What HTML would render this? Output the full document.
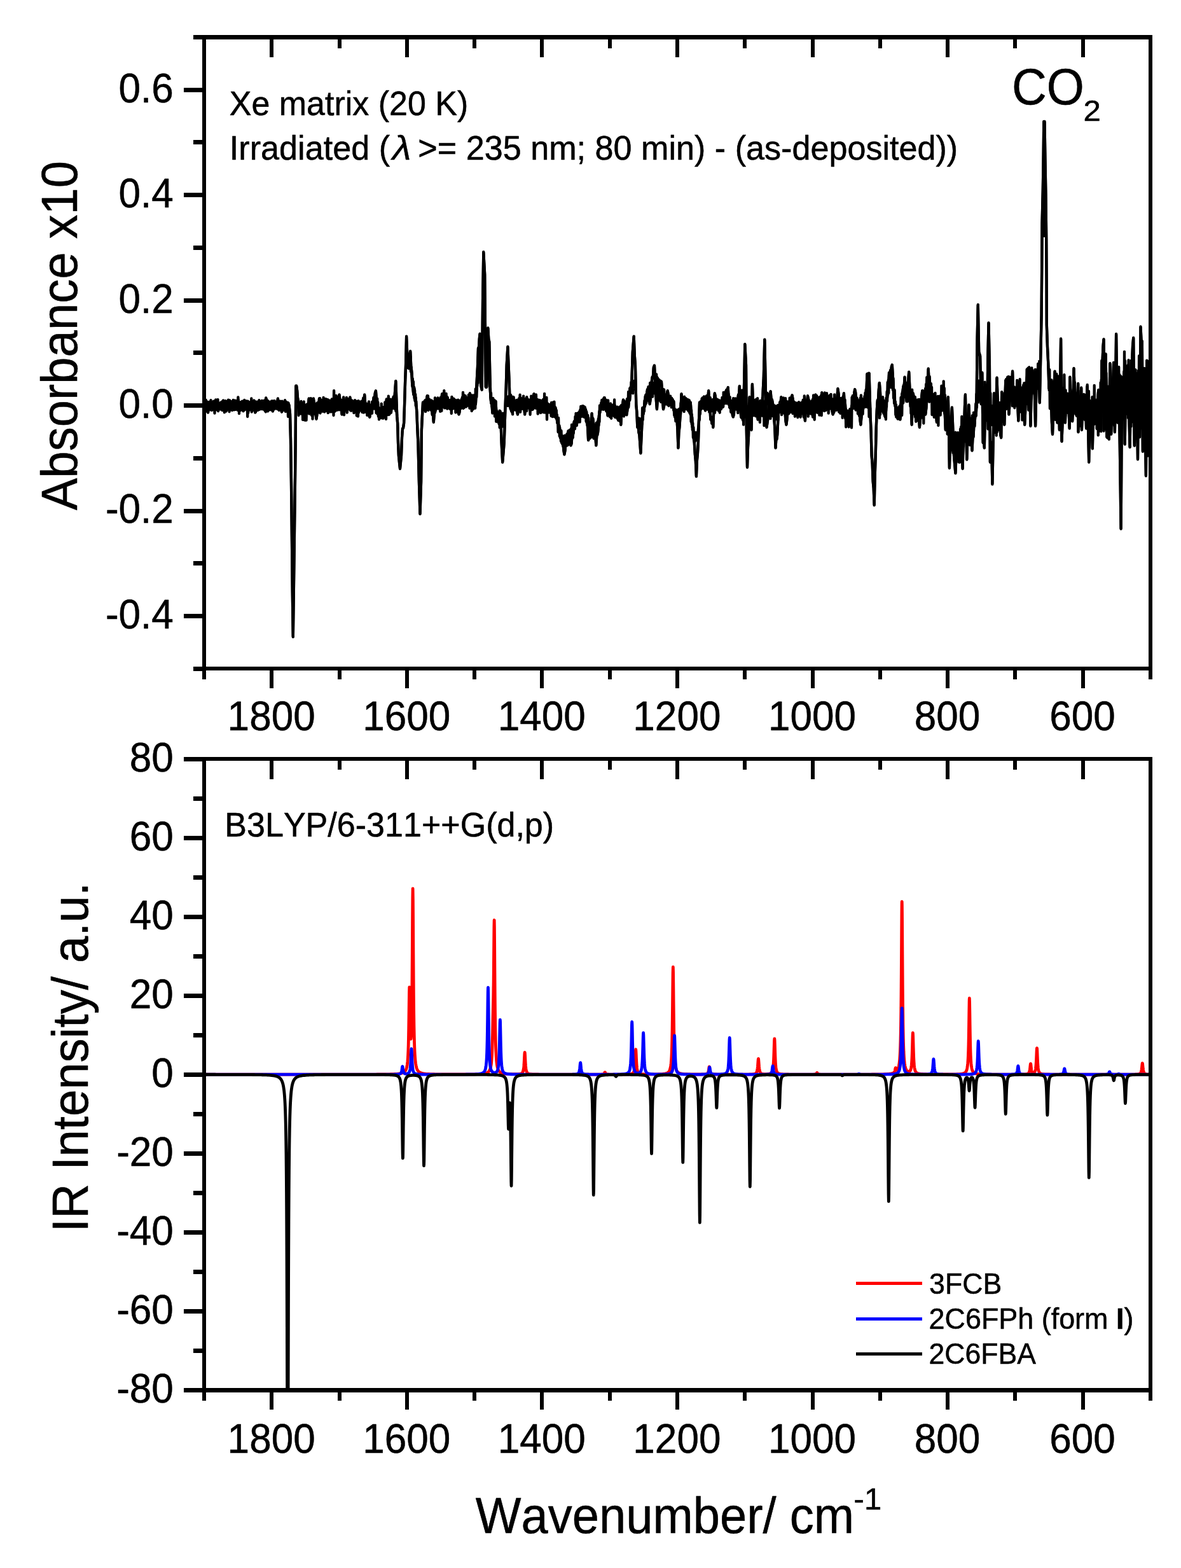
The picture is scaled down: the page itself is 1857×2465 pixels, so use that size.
<!DOCTYPE html>
<html lang="en"><head><meta charset="utf-8"><title>IR difference spectrum and B3LYP simulated spectra</title>
<style>html,body{margin:0;padding:0;background:#fff}svg{display:block}text{font-family:'Liberation Sans', Arial, Helvetica, sans-serif;fill:#000;font-kerning:none;white-space:pre}</style></head><body>
<svg width="1857" height="2465" viewBox="0 0 1857 2465">
<rect x="0" y="0" width="1857" height="2465" fill="#fff"/>
<defs><clipPath id="c1"><rect x="321.0" y="58.5" width="1488.0" height="992.7"/></clipPath>
<clipPath id="c2"><rect x="321.0" y="1193.0" width="1488.0" height="992.4"/></clipPath></defs>
<g clip-path="url(#c1)" fill="none" stroke="#000" stroke-width="4.3" stroke-linejoin="round" stroke-linecap="butt"><path id="tr" d="M321.0,640.3 L322.0,635.6 L323.0,642.8 L324.1,637.9 L325.1,644.4 L326.1,640.9 L327.1,647.8 L328.1,640.5 L329.1,643.0 L330.2,636.3 L331.2,640.0 L332.2,634.9 L333.2,633.5 L334.2,633.6 L335.2,639.6 L336.3,635.7 L337.3,642.4 L338.3,635.1 L339.3,641.6 L340.3,636.7 L341.3,641.7 L342.3,637.0 L343.3,641.1 L344.3,636.3 L345.2,640.2 L346.2,634.3 L347.2,638.1 L348.2,633.1 L349.1,636.7 L350.1,630.7 L351.1,629.5 L352.2,633.0 L353.3,639.7 L354.5,636.2 L355.6,645.7 L356.6,639.9 L357.6,643.0 L358.6,635.4 L359.6,642.3 L360.7,635.6 L361.7,640.7 L362.7,635.0 L363.7,638.5 L364.7,633.5 L365.7,639.6 L366.8,635.6 L367.8,641.3 L368.8,637.7 L369.8,642.7 L370.9,635.6 L372.0,639.0 L373.2,631.3 L374.3,627.4 L375.2,633.2 L376.0,642.7 L376.9,644.7 L377.9,643.9 L379.0,637.7 L380.0,642.8 L381.0,638.1 L382.0,641.8 L383.0,636.4 L384.0,642.5 L385.1,635.8 L386.1,640.7 L387.1,635.1 L388.1,635.6 L389.1,636.7 L390.1,643.1 L391.2,643.7 L392.2,642.5 L393.2,636.5 L394.2,640.8 L395.2,634.7 L396.2,638.9 L397.3,633.0 L398.3,635.6 L399.3,629.5 L400.3,640.5 L401.3,647.8 L402.4,646.0 L403.4,637.9 L404.4,642.4 L405.4,635.2 L406.4,639.9 L407.4,635.2 L408.5,639.6 L409.5,633.3 L410.5,631.5 L411.5,633.4 L412.5,639.3 L413.5,635.2 L414.6,641.3 L415.6,638.0 L416.6,644.7 L418.2,625.4 L419.3,631.8 L420.5,629.5 L421.6,635.9 L422.7,633.5 L423.7,639.1 L424.7,635.1 L425.7,642.3 L426.8,636.8 L427.8,643.7 L428.8,645.7 L429.8,643.3 L430.8,636.6 L431.8,640.7 L432.9,633.4 L433.9,637.2 L434.9,631.3 L435.9,634.7 L436.9,626.4 L437.9,634.2 L439.0,633.0 L440.0,641.2 L441.0,636.1 L442.0,643.5 L443.0,646.8 L444.0,644.6 L444.9,637.4 L445.8,641.5 L446.7,636.5 L447.7,639.4 L448.6,633.7 L449.5,631.5 L450.4,632.9 L451.3,638.6 L452.2,632.9 L453.3,641.3 L454.5,636.4 L456.0,650.0 L457.0,690.0 L458.0,760.0 L459.0,850.0 L459.8,930.0 L460.8,1000.5 L461.8,930.0 L462.8,850.0 L463.8,770.0 L464.6,700.0 L465.0,644.6 L465.3,606.5 L466.2,606.5 L467.2,614.0 L468.0,625.0 L469.5,633.0 L470.5,646.6 L471.5,638.8 L472.5,648.3 L473.5,641.3 L474.5,647.9 L475.6,642.3 L476.6,647.9 L477.6,640.6 L478.6,649.6 L479.6,640.6 L480.7,648.5 L481.7,647.8 L482.7,645.2 L483.7,635.1 L484.7,637.8 L485.7,626.4 L486.8,638.5 L487.8,637.1 L488.8,646.6 L489.8,651.8 L490.8,645.8 L491.8,634.7 L492.9,626.4 L493.8,632.7 L494.7,643.6 L495.7,639.1 L496.6,651.6 L497.5,657.9 L498.6,650.1 L499.8,636.4 L500.9,642.2 L502.0,626.4 L503.0,637.0 L504.0,632.2 L505.1,641.1 L506.1,635.3 L507.1,643.7 L508.1,635.2 L509.1,643.4 L510.1,631.9 L511.2,638.4 L512.2,627.4 L513.2,638.5 L514.2,633.3 L515.2,643.2 L516.2,647.8 L517.3,646.0 L518.3,636.2 L519.3,642.7 L520.3,635.0 L521.3,640.3 L522.3,633.0 L523.4,640.0 L524.4,631.2 L525.4,638.3 L526.4,629.5 L527.4,637.5 L528.4,634.0 L529.5,641.8 L530.5,643.7 L531.5,638.7 L532.5,628.1 L533.5,620.3 L534.5,628.0 L535.6,640.1 L536.6,634.1 L537.6,650.8 L538.5,635.8 L539.4,637.5 L540.2,624.4 L541.3,637.4 L542.4,630.6 L543.5,641.9 L544.6,637.3 L545.7,647.8 L546.7,637.6 L547.6,640.7 L548.5,632.1 L549.5,637.7 L550.4,624.4 L551.5,635.8 L552.6,630.1 L553.8,639.2 L554.9,635.3 L555.9,642.7 L556.9,637.5 L557.9,643.9 L558.9,638.1 L560.0,644.7 L561.0,639.2 L562.0,646.8 L563.0,647.8 L564.0,645.7 L565.1,637.6 L566.1,641.9 L567.1,635.4 L568.1,640.4 L569.1,631.1 L570.1,636.2 L571.2,625.8 L572.2,629.1 L573.2,620.3 L574.2,633.5 L575.2,634.2 L576.2,644.2 L577.3,640.2 L578.3,647.6 L579.3,644.1 L580.3,652.5 L581.3,654.9 L582.3,649.1 L583.4,638.8 L584.4,643.1 L585.4,631.5 L586.5,636.4 L587.6,624.6 L588.7,628.6 L589.8,617.7 L590.9,614.2 L591.8,626.1 L592.6,642.7 L593.5,649.8 L594.5,650.1 L595.6,644.6 L596.6,650.7 L597.6,645.0 L598.6,651.3 L599.6,645.0 L600.6,652.0 L601.7,644.3 L602.7,652.6 L603.7,652.9 L604.7,646.5 L605.7,637.2 L606.7,643.3 L607.8,627.4 L608.8,639.1 L609.8,637.7 L610.8,648.6 L611.8,650.8 L612.8,649.4 L613.9,641.8 L614.9,648.0 L615.9,635.1 L616.9,640.8 L617.9,627.3 L618.9,623.4 L616.8,632.4 L617.8,640.7 L618.8,633.7 L619.8,634.4 L621.0,616.6 L622.3,598.8 L623.3,626.8 L624.3,654.7 L625.2,665.1 L626.0,695.4 L626.9,715.7 L627.9,725.9 L629.0,736.1 L630.0,725.9 L631.0,715.7 L632.0,687.3 L633.0,673.5 L634.0,672.4 L635.1,664.9 L636.1,634.1 L637.1,599.8 L638.1,572.6 L639.1,528.6 L640.1,552.2 L641.2,559.1 L642.6,573.4 L643.5,566.3 L644.4,564.9 L645.2,552.0 L646.2,574.4 L647.3,583.5 L648.3,605.4 L649.3,610.0 L650.3,619.6 L651.3,610.0 L652.4,627.7 L653.4,624.5 L654.4,634.4 L655.4,648.1 L656.4,675.1 L657.4,695.4 L658.9,756.4 L660.5,807.3 L662.1,756.4 L662.9,675.1 L663.9,654.7 L665.0,632.5 L665.9,642.4 L666.8,634.5 L667.7,642.3 L668.6,636.5 L669.6,643.1 L670.7,629.0 L671.7,622.2 L672.7,624.6 L673.7,633.8 L674.7,629.5 L675.7,639.0 L676.8,634.4 L677.8,644.0 L678.8,639.2 L679.8,651.5 L680.8,648.9 L681.8,662.9 L682.9,648.9 L683.9,647.9 L684.9,640.5 L685.9,639.9 L686.9,633.6 L687.9,640.0 L689.0,629.6 L690.0,637.2 L691.0,629.8 L692.0,633.4 L693.0,625.2 L694.0,630.6 L695.1,619.1 L696.1,630.9 L697.1,629.2 L698.1,638.2 L699.1,640.5 L700.1,640.2 L701.2,630.6 L702.2,636.4 L703.2,624.2 L704.2,632.8 L705.2,629.4 L706.2,637.8 L707.3,631.5 L708.3,639.6 L709.3,640.5 L710.3,638.8 L711.3,629.2 L712.3,635.6 L713.4,628.3 L714.4,635.7 L715.4,630.3 L716.4,638.8 L717.4,633.2 L718.4,642.3 L719.5,638.8 L720.5,647.9 L721.5,650.7 L722.5,647.4 L723.5,637.0 L724.5,640.9 L725.6,633.1 L726.6,638.9 L727.6,630.1 L728.6,636.8 L729.6,627.1 L730.7,632.5 L731.7,622.2 L732.7,634.9 L733.7,628.0 L734.7,634.5 L735.7,636.4 L736.8,633.5 L737.8,624.0 L738.8,618.1 L739.8,621.9 L740.8,629.1 L741.8,625.0 L742.9,637.6 L743.9,642.5 L744.9,640.5 L745.9,632.2 L746.9,636.4 L747.9,634.4 L749.0,614.1 L750.0,593.7 L751.0,576.1 L752.0,546.9 L752.9,546.9 L753.8,532.0 L754.6,524.6 L756.1,605.4 L757.7,612.1 L759.1,471.7 L760.3,396.0 L762.2,431.0 L763.8,607.9 L765.2,607.9 L766.2,567.5 L767.3,515.4 L768.3,532.8 L769.3,536.8 L770.3,587.3 L771.3,624.2 L772.3,632.4 L773.4,634.6 L774.4,648.6 L775.4,634.0 L776.4,639.5 L777.4,629.1 L778.4,630.3 L779.5,630.8 L780.5,650.7 L781.5,660.8 L782.5,661.8 L783.5,662.9 L784.5,657.4 L785.6,645.7 L786.6,646.6 L787.6,665.2 L788.6,695.4 L790.2,725.9 L791.5,710.7 L792.7,695.4 L793.7,664.9 L794.7,634.4 L795.7,609.7 L796.7,573.4 L798.4,544.9 L799.4,569.3 L800.4,593.7 L801.8,634.4 L802.8,642.1 L803.9,635.4 L804.9,644.4 L805.9,635.9 L806.9,641.2 L807.9,633.1 L808.9,632.4 L810.0,631.7 L811.0,641.5 L812.0,634.1 L813.0,647.0 L814.0,650.7 L815.1,641.4 L816.1,626.3 L817.1,636.6 L818.1,628.4 L819.1,636.2 L820.1,628.7 L821.2,637.9 L822.2,632.6 L823.2,641.6 L824.2,640.3 L825.2,650.7 L826.2,635.4 L827.3,637.5 L828.3,624.2 L829.3,635.5 L830.3,630.3 L831.3,638.5 L832.3,632.3 L833.4,644.6 L834.4,635.1 L835.4,638.6 L836.4,630.0 L837.4,634.3 L838.4,623.4 L839.5,619.1 L840.5,626.3 L841.5,638.8 L842.5,640.5 L843.5,640.9 L844.5,630.8 L845.6,628.3 L846.6,630.1 L847.6,638.0 L848.6,633.0 L849.6,639.9 L850.6,636.8 L851.7,644.0 L852.7,646.6 L853.7,643.8 L854.7,633.7 L855.7,639.6 L856.7,631.1 L857.8,627.3 L858.8,629.8 L859.8,642.5 L860.8,634.2 L861.8,642.8 L862.8,638.0 L863.9,645.2 L864.9,638.3 L865.9,646.2 L866.9,639.5 L867.9,646.8 L868.9,642.2 L870.0,648.3 L871.0,642.5 L872.1,648.6 L873.2,640.5 L874.2,656.2 L875.2,652.7 L876.3,663.3 L877.3,660.9 L878.3,671.8 L879.3,669.1 L880.3,680.1 L881.3,685.2 L882.4,688.6 L883.4,684.3 L884.4,695.4 L885.4,695.7 L886.4,707.6 L887.4,713.7 L888.5,707.6 L889.5,693.6 L890.5,695.4 L891.5,682.2 L892.5,687.3 L893.5,677.4 L894.6,679.1 L895.6,676.3 L896.6,692.7 L897.6,699.5 L898.6,695.4 L899.6,684.9 L900.7,687.3 L901.7,670.6 L902.7,662.9 L903.7,661.7 L904.7,668.3 L905.7,659.4 L906.8,668.1 L907.8,657.1 L908.8,662.9 L909.8,654.7 L910.8,659.5 L911.8,650.1 L912.9,653.6 L913.9,645.4 L914.9,649.8 L915.9,640.8 L916.9,638.5 L917.9,640.1 L919.0,648.1 L920.0,643.3 L921.0,651.9 L922.0,646.6 L923.0,664.6 L924.0,669.8 L925.1,691.3 L926.1,680.3 L927.1,688.6 L928.1,687.3 L929.3,671.0 L930.6,649.9 L931.5,660.1 L932.4,657.8 L933.3,670.0 L934.2,675.1 L935.2,683.2 L936.2,684.5 L937.3,699.5 L938.3,684.2 L939.3,683.2 L940.3,675.1 L941.3,664.2 L942.4,648.1 L943.4,642.5 L944.4,639.1 L945.4,641.5 L946.4,632.4 L947.6,635.9 L948.7,627.6 L949.9,625.2 L950.8,628.3 L951.6,638.0 L952.5,634.4 L953.5,645.6 L954.6,643.0 L955.6,652.7 L956.7,643.0 L957.8,646.8 L958.9,638.5 L960.0,634.4 L961.0,637.3 L962.0,645.3 L962.9,638.7 L963.9,647.5 L964.8,643.1 L965.8,651.8 L966.8,654.7 L967.8,651.7 L968.8,642.8 L969.8,647.4 L970.8,639.6 L971.9,648.6 L973.0,646.2 L974.1,657.2 L975.2,652.0 L976.3,666.9 L977.2,650.5 L978.1,647.6 L979.1,634.7 L980.0,628.3 L981.0,632.8 L982.0,641.5 L983.0,637.3 L984.0,647.9 L985.1,650.7 L986.1,646.6 L987.1,637.7 L988.1,639.8 L989.1,626.3 L990.1,628.8 L991.2,615.1 L992.2,615.3 L993.2,603.9 L994.8,553.0 L996.7,528.6 L997.8,558.7 L998.9,573.4 L1000.3,636.1 L1001.3,646.9 L1002.3,671.0 L1003.4,667.3 L1004.4,679.1 L1005.4,683.2 L1006.4,697.4 L1007.4,711.7 L1008.4,688.3 L1009.5,664.9 L1010.5,657.3 L1011.5,643.3 L1012.5,642.0 L1013.5,634.4 L1014.5,630.0 L1015.6,620.5 L1016.6,625.4 L1017.6,614.6 L1018.6,618.3 L1019.6,607.9 L1020.7,625.6 L1021.7,634.4 L1022.7,627.3 L1023.7,611.3 L1024.7,599.8 L1025.7,592.4 L1026.8,593.2 L1027.8,577.4 L1029.0,574.4 L1030.8,614.1 L1031.8,628.3 L1032.9,642.5 L1033.9,627.3 L1034.9,612.0 L1035.9,596.8 L1036.9,597.5 L1037.9,605.0 L1039.0,599.1 L1040.0,599.8 L1041.0,614.1 L1042.0,629.0 L1043.0,642.5 L1044.0,638.5 L1045.1,626.2 L1046.1,630.3 L1047.0,623.9 L1047.9,630.0 L1048.8,618.1 L1049.7,614.1 L1050.9,620.2 L1052.0,630.9 L1053.2,627.7 L1054.2,635.5 L1055.2,628.8 L1056.2,634.8 L1057.3,627.9 L1058.3,635.3 L1059.3,630.7 L1060.3,646.6 L1061.3,654.7 L1062.3,656.1 L1063.4,650.0 L1064.4,658.8 L1065.4,674.5 L1066.4,703.5 L1067.4,679.6 L1068.4,671.0 L1069.5,654.7 L1070.5,642.9 L1071.5,619.1 L1072.5,635.0 L1073.5,633.4 L1074.5,640.5 L1075.6,636.9 L1076.6,643.1 L1077.6,629.8 L1078.6,626.3 L1079.6,630.3 L1080.6,642.7 L1081.7,638.5 L1082.7,642.5 L1083.7,639.1 L1084.7,643.6 L1085.7,632.4 L1086.7,649.2 L1087.8,652.3 L1088.8,671.0 L1089.8,672.9 L1090.8,687.3 L1091.8,695.4 L1092.8,713.0 L1093.9,724.7 L1094.9,748.3 L1095.9,723.4 L1096.9,713.0 L1097.9,695.4 L1098.9,663.9 L1100.0,632.4 L1101.0,638.6 L1102.0,631.0 L1103.0,636.1 L1104.0,629.6 L1105.1,634.8 L1106.1,628.3 L1107.1,641.3 L1108.1,640.3 L1109.1,644.7 L1110.1,633.0 L1111.2,634.1 L1112.2,623.5 L1113.2,624.6 L1114.2,614.1 L1115.2,635.0 L1116.2,637.1 L1117.3,658.8 L1118.3,655.4 L1119.3,664.9 L1120.3,658.9 L1121.3,671.0 L1122.5,638.5 L1123.8,618.1 L1124.7,622.2 L1125.7,632.4 L1126.6,628.9 L1127.6,635.8 L1128.5,629.7 L1129.5,642.5 L1130.5,634.9 L1131.5,639.8 L1132.5,633.0 L1133.5,638.2 L1134.5,631.0 L1135.6,639.1 L1136.6,632.4 L1137.6,634.5 L1138.6,625.0 L1139.6,627.5 L1140.6,617.7 L1141.7,614.1 L1142.7,612.4 L1143.7,616.5 L1144.7,609.0 L1145.7,625.5 L1146.7,628.9 L1147.8,640.5 L1148.8,636.7 L1149.8,646.2 L1150.8,636.4 L1151.8,651.9 L1152.8,654.7 L1153.9,650.4 L1154.9,636.0 L1155.9,642.1 L1156.9,630.3 L1157.9,639.2 L1158.9,627.5 L1160.0,631.7 L1161.0,620.2 L1161.2,641.1 L1162.8,606.9 L1164.0,638.9 L1165.2,654.7 L1166.2,656.3 L1167.1,649.1 L1168.0,659.3 L1168.9,660.8 L1170.3,593.7 L1171.3,540.8 L1173.0,573.4 L1173.8,675.1 L1175.0,734.0 L1176.0,702.3 L1177.0,685.2 L1178.5,624.2 L1179.5,644.3 L1180.5,647.4 L1181.5,675.1 L1182.9,603.9 L1184.6,646.1 L1185.6,637.8 L1186.6,643.4 L1187.6,631.8 L1188.6,628.3 L1189.6,635.2 L1190.7,648.6 L1191.7,658.8 L1192.7,657.4 L1193.7,643.8 L1194.7,654.7 L1195.7,644.3 L1196.8,652.0 L1197.8,650.7 L1198.8,641.2 L1199.8,612.7 L1200.8,593.7 L1202.3,533.7 L1203.9,614.1 L1205.5,671.0 L1206.7,662.9 L1207.9,654.7 L1208.9,647.2 L1209.8,634.9 L1210.7,632.7 L1211.6,615.1 L1212.8,629.0 L1213.9,627.9 L1215.1,634.4 L1216.1,639.2 L1217.1,654.7 L1218.3,671.8 L1219.5,703.5 L1220.4,689.2 L1221.3,690.0 L1222.2,683.2 L1223.2,662.9 L1224.2,637.6 L1225.2,645.3 L1226.2,633.4 L1227.3,636.0 L1228.3,624.2 L1229.3,638.1 L1230.3,632.2 L1231.3,643.5 L1232.4,636.9 L1233.4,648.6 L1234.4,646.0 L1235.4,660.8 L1236.4,666.9 L1237.4,658.8 L1238.5,643.4 L1239.5,645.2 L1240.5,634.4 L1241.5,643.4 L1242.5,629.1 L1243.5,634.7 L1244.6,623.8 L1245.6,621.2 L1246.6,627.1 L1247.6,640.7 L1248.6,637.1 L1249.6,647.0 L1250.7,650.7 L1251.7,648.6 L1252.7,639.1 L1253.7,647.7 L1254.7,636.5 L1255.7,643.6 L1256.8,634.4 L1257.8,642.4 L1258.8,637.7 L1259.8,645.1 L1260.8,638.6 L1261.8,649.1 L1262.9,644.3 L1263.9,655.0 L1264.9,647.7 L1265.9,660.8 L1266.9,642.4 L1267.9,645.1 L1269.0,631.8 L1270.0,622.2 L1271.0,626.3 L1272.0,637.9 L1273.0,633.0 L1274.0,643.0 L1275.1,635.9 L1276.1,646.6 L1277.1,642.4 L1278.1,654.7 L1279.1,638.6 L1280.1,645.5 L1281.2,632.2 L1282.2,639.5 L1283.2,627.6 L1284.2,622.2 L1285.2,627.9 L1286.2,639.8 L1287.3,632.7 L1288.3,645.0 L1289.3,650.7 L1290.3,641.6 L1291.3,628.3 L1292.3,617.1 L1293.4,622.2 L1294.4,634.5 L1295.4,629.3 L1296.4,641.0 L1297.4,642.5 L1298.4,642.1 L1299.5,631.3 L1300.5,640.6 L1301.5,626.0 L1302.5,637.4 L1303.5,624.2 L1304.5,633.8 L1305.6,628.3 L1306.6,639.7 L1307.6,630.5 L1308.6,646.3 L1309.6,650.7 L1310.7,647.9 L1311.7,638.0 L1312.7,642.5 L1313.7,634.8 L1314.7,639.6 L1315.7,632.9 L1317.4,611.0 L1318.5,618.4 L1319.6,634.9 L1320.7,630.8 L1321.8,643.3 L1322.9,631.7 L1323.9,637.1 L1324.9,627.1 L1325.9,633.0 L1326.9,618.1 L1327.9,636.7 L1329.0,635.7 L1330.0,654.7 L1331.0,648.8 L1332.0,658.2 L1333.0,652.7 L1334.0,661.7 L1335.1,656.0 L1336.1,665.2 L1337.1,666.9 L1338.1,656.1 L1339.1,638.0 L1340.1,640.8 L1341.2,628.8 L1342.2,635.4 L1343.2,617.6 L1344.2,612.0 L1345.2,616.5 L1346.2,629.9 L1347.3,625.4 L1348.3,639.0 L1349.3,631.3 L1350.3,644.5 L1351.3,638.0 L1352.3,658.8 L1353.4,666.9 L1354.4,656.1 L1355.4,639.7 L1356.4,634.4 L1357.4,632.4 L1358.4,638.6 L1359.5,628.3 L1360.5,634.1 L1361.5,624.2 L1362.5,613.4 L1363.5,587.6 L1364.5,596.9 L1365.6,586.9 L1366.6,586.6 L1367.6,620.7 L1368.6,654.7 L1369.6,677.8 L1370.6,715.7 L1371.7,728.9 L1372.7,756.4 L1373.7,767.0 L1374.7,793.4 L1375.7,746.8 L1376.7,715.7 L1377.8,670.7 L1378.8,644.6 L1379.8,628.9 L1380.8,630.7 L1381.8,612.5 L1382.8,601.8 L1383.9,614.7 L1384.9,634.6 L1385.9,640.5 L1386.9,642.9 L1387.9,634.2 L1388.9,647.6 L1390.0,639.6 L1391.0,652.4 L1392.0,654.7 L1393.0,645.4 L1394.0,630.6 L1395.1,624.2 L1396.1,612.0 L1397.1,607.0 L1398.1,587.6 L1399.0,596.8 L1400.0,581.9 L1400.9,586.4 L1401.8,576.2 L1402.8,573.4 L1404.0,593.7 L1405.2,614.1 L1406.2,620.5 L1407.3,634.4 L1408.3,636.9 L1409.3,654.7 L1410.3,648.2 L1411.3,656.1 L1412.3,645.4 L1413.4,657.4 L1414.4,650.0 L1415.4,658.8 L1416.4,635.2 L1417.4,636.4 L1418.4,619.5 L1419.5,614.1 L1420.5,606.9 L1421.5,611.2 L1422.5,592.7 L1423.5,616.0 L1424.5,617.8 L1425.6,630.3 L1426.5,618.9 L1427.4,618.6 L1428.3,596.0 L1429.2,584.6 L1430.4,609.5 L1431.7,638.6 L1432.7,639.5 L1433.7,666.9 L1434.7,635.3 L1435.7,618.1 L1436.7,623.0 L1437.8,635.1 L1438.8,624.1 L1439.8,639.8 L1440.8,635.1 L1441.8,650.7 L1442.8,639.1 L1443.9,660.8 L1444.9,655.8 L1445.9,671.0 L1446.9,649.1 L1447.9,648.2 L1448.9,629.1 L1450.0,633.5 L1451.0,614.1 L1446.1,669.0 L1447.1,640.9 L1448.1,641.5 L1449.1,624.2 L1450.2,614.1 L1451.2,621.4 L1452.2,637.3 L1453.2,632.6 L1454.2,649.5 L1455.2,650.7 L1456.4,640.8 L1457.5,615.1 L1458.6,607.4 L1459.7,579.5 L1460.6,596.6 L1461.5,591.7 L1462.5,609.4 L1463.4,603.9 L1464.4,625.8 L1465.4,622.2 L1466.4,636.9 L1467.4,642.5 L1468.5,646.6 L1469.6,640.2 L1470.7,654.7 L1471.8,648.5 L1472.9,662.9 L1473.9,643.3 L1474.8,647.8 L1475.7,628.9 L1476.7,644.6 L1477.6,624.2 L1478.6,633.7 L1479.6,620.8 L1480.7,629.9 L1481.7,617.4 L1482.7,627.2 L1483.7,614.1 L1484.7,646.2 L1485.7,647.9 L1486.8,675.1 L1487.8,653.3 L1488.8,663.9 L1489.8,636.9 L1490.8,624.2 L1491.8,664.5 L1492.9,735.1 L1493.9,699.8 L1494.9,687.8 L1495.9,661.0 L1496.9,640.5 L1497.9,662.6 L1499.0,690.7 L1500.0,715.7 L1501.2,729.5 L1502.4,743.2 L1503.3,720.5 L1504.2,683.4 L1505.1,683.2 L1506.1,680.1 L1507.1,700.5 L1508.1,701.1 L1509.1,725.9 L1510.1,688.4 L1511.2,671.0 L1512.4,690.1 L1513.6,736.1 L1515.2,675.1 L1516.1,666.9 L1517.0,638.5 L1517.9,620.2 L1519.1,670.6 L1520.3,721.8 L1521.3,682.3 L1522.4,674.7 L1523.4,636.4 L1524.4,660.7 L1525.4,658.8 L1526.4,680.8 L1527.4,681.6 L1528.5,707.6 L1529.5,686.6 L1530.5,686.2 L1531.5,665.1 L1532.5,664.9 L1533.5,649.6 L1534.6,653.1 L1535.6,634.4 L1536.6,532.7 L1537.8,478.8 L1539.2,553.0 L1541.1,559.1 L1542.7,634.4 L1544.3,585.6 L1545.7,695.4 L1546.8,686.3 L1547.8,703.5 L1548.8,652.6 L1549.8,630.3 L1550.7,631.7 L1551.6,643.7 L1552.5,634.4 L1553.5,553.0 L1554.5,507.3 L1555.9,573.4 L1556.9,725.9 L1557.9,710.7 L1559.0,695.4 L1560.4,760.5 L1562.0,675.1 L1563.0,618.1 L1564.2,639.5 L1565.5,675.1 L1566.5,634.4 L1567.5,593.7 L1568.4,619.5 L1569.3,646.9 L1570.1,671.0 L1571.2,675.1 L1572.2,661.4 L1573.2,683.2 L1574.2,687.3 L1575.2,616.1 L1576.2,626.1 L1577.3,644.8 L1578.3,643.9 L1579.3,666.9 L1580.3,627.0 L1581.3,597.8 L1582.3,596.1 L1583.4,611.8 L1584.4,592.7 L1585.4,629.7 L1586.4,650.7 L1587.4,636.0 L1588.4,615.2 L1589.5,597.8 L1590.3,593.0 L1591.2,603.7 L1592.1,583.5 L1593.3,624.7 L1594.5,634.4 L1595.6,629.4 L1596.6,612.7 L1597.6,612.0 L1598.5,614.2 L1599.4,636.4 L1600.3,638.0 L1601.3,660.8 L1602.4,633.4 L1603.6,629.6 L1604.7,610.6 L1605.9,620.2 L1607.0,609.5 L1608.2,610.0 L1609.2,617.9 L1610.2,647.9 L1611.2,666.9 L1612.1,647.3 L1613.0,617.4 L1613.9,607.9 L1614.9,593.7 L1615.9,579.5 L1617.1,578.5 L1618.3,577.4 L1619.4,613.1 L1620.4,669.0 L1621.3,632.9 L1622.1,617.4 L1623.0,591.7 L1623.9,603.6 L1624.8,588.6 L1625.7,596.1 L1626.9,618.6 L1628.1,669.0 L1629.3,615.6 L1630.5,583.5 L1631.4,580.2 L1632.3,592.9 L1633.2,573.4 L1634.8,632.4 L1635.6,592.5 L1636.6,545.0 L1637.6,495.0 L1638.2,420.0 L1638.6,350.0 L1639.8,300.0 L1640.6,250.0 L1641.3,191.0 L1641.9,370.0 L1642.5,191.0 L1643.4,250.0 L1644.4,305.0 L1645.2,375.0 L1645.6,440.0 L1645.8,510.0 L1647.0,545.0 L1648.2,570.0 L1649.5,610.5 L1650.6,600.1 L1651.6,625.4 L1652.8,627.7 L1653.9,663.0 L1655.0,681.9 L1655.9,657.3 L1656.8,615.5 L1657.7,616.0 L1658.6,583.6 L1659.6,623.5 L1660.5,615.3 L1661.5,643.7 L1662.5,663.8 L1663.6,591.5 L1664.7,623.6 L1665.9,675.1 L1667.0,603.7 L1668.1,532.3 L1669.5,693.2 L1670.5,667.6 L1671.6,631.3 L1672.6,616.3 L1673.8,627.0 L1674.9,663.8 L1676.0,631.9 L1677.2,640.5 L1678.3,618.6 L1679.4,642.8 L1680.5,641.5 L1681.7,672.8 L1682.4,592.6 L1683.3,624.0 L1684.3,623.9 L1685.2,646.0 L1686.2,661.5 L1687.3,633.9 L1688.5,579.0 L1689.6,613.1 L1690.7,620.5 L1691.8,646.4 L1693.0,624.0 L1694.1,628.6 L1695.2,602.8 L1695.5,678.5 L1696.4,651.7 L1697.4,652.5 L1698.3,633.9 L1699.3,636.4 L1700.2,609.5 L1700.9,675.1 L1701.8,650.8 L1702.8,657.4 L1703.7,638.8 L1704.7,648.4 L1705.6,629.0 L1706.5,620.8 L1708.1,672.8 L1709.5,607.3 L1710.4,639.0 L1711.3,686.4 L1712.2,725.9 L1713.8,629.9 L1714.8,638.8 L1715.8,667.2 L1716.8,672.2 L1717.8,704.5 L1719.0,650.7 L1720.1,627.6 L1721.0,633.5 L1721.9,656.1 L1722.8,644.8 L1723.7,656.6 L1724.6,629.7 L1725.5,643.4 L1726.4,621.3 L1727.3,612.9 L1728.0,676.2 L1729.1,676.6 L1730.3,661.0 L1731.4,677.3 L1732.5,566.6 L1733.5,568.8 L1734.5,544.3 L1735.5,533.2 L1737.0,630.9 L1738.6,556.4 L1740.4,686.4 L1741.6,687.5 L1742.7,673.9 L1743.8,689.8 L1745.4,571.1 L1747.2,681.9 L1748.2,640.9 L1749.1,636.2 L1750.1,598.0 L1751.1,570.0 L1752.9,678.5 L1754.0,614.6 L1755.1,524.8 L1756.3,608.2 L1757.4,663.8 L1758.5,584.7 L1759.6,624.9 L1760.8,697.7 L1762.6,830.6 L1764.2,602.8 L1765.3,596.4 L1766.4,612.1 L1767.6,583.6 L1768.7,697.7 L1769.8,625.4 L1770.9,593.7 L1772.1,584.1 L1773.2,574.5 L1774.3,611.7 L1775.5,659.6 L1776.6,702.2 L1777.7,634.4 L1778.9,566.6 L1780.0,569.3 L1781.1,542.8 L1782.2,530.9 L1783.8,699.9 L1784.8,665.3 L1785.8,615.6 L1786.8,596.0 L1787.9,645.4 L1789.0,721.4 L1790.2,582.4 L1792.0,686.4 L1793.5,513.5 L1794.7,537.8 L1795.8,536.1 L1796.9,709.0 L1798.1,632.1 L1799.2,579.0 L1800.1,626.7 L1801.0,691.3 L1801.9,747.4 L1803.3,566.6 L1804.8,715.8 L1806.0,649.7 L1807.1,567.7 L1808.9,647.6"/><use href="#tr" y="0.9"/><path d="M321.0,643.6 L321.6,631.1 L322.1,644.7 L322.7,628.4 L323.2,644.2 L323.8,629.0 L324.3,642.0 L324.9,632.2 L325.4,646.9 L326.0,631.6 L326.5,645.9 L327.1,633.1 L327.6,643.1 L328.2,632.9 L328.7,643.3 L329.3,631.8 L329.8,642.1 L330.4,633.1 L330.9,642.6 L331.5,629.2 L332.0,644.8 L332.6,633.3 L333.1,645.0 L333.7,633.7 L334.2,644.2 L334.8,633.6 L335.3,642.4 L335.9,630.6 L336.4,643.2 L337.0,633.5 L337.5,649.7 L338.1,630.6 L338.6,643.1 L339.2,628.3 L339.7,644.1 L340.3,632.2 L340.8,642.9 L341.4,629.0 L341.9,644.6 L342.5,628.1 L343.0,646.3 L343.6,633.6 L344.1,643.6 L344.7,633.9 L345.2,643.1 L345.8,634.4 L346.3,643.7 L346.9,632.8 L347.4,643.0 L348.0,632.2 L348.5,643.1 L349.1,633.2 L349.6,645.2 L350.2,632.5 L350.7,642.7 L351.3,632.3 L351.8,644.2 L352.4,633.4 L352.9,648.4 L353.5,633.4 L354.0,644.5 L354.6,630.2 L355.1,642.1 L355.7,630.9 L356.2,642.9 L356.8,632.0 L357.3,642.1 L357.9,633.8 L358.4,642.9 L359.0,628.6 L359.5,643.2 L360.1,631.8 L360.6,647.3 L361.2,629.3 L361.7,643.7 L362.3,633.6 L362.8,643.9 L363.4,631.5 L363.9,642.9 L364.5,631.7 L365.0,645.2 L365.6,630.7 L366.1,642.8 L366.7,628.9 L367.2,642.7 L367.8,633.4 L368.3,644.3 L368.9,629.7 L369.4,643.3 L370.0,629.7 L370.5,643.9 L371.1,633.3 L371.6,643.4 L372.2,633.8 L372.7,642.7 L373.3,633.7 L373.8,644.8 L374.4,624.3 L374.9,642.9 L375.5,633.9 L376.0,650.2 L376.6,633.2 L377.1,644.0 L377.7,634.2 L378.2,644.8 L378.8,632.0 L379.3,644.6 L379.9,633.8 L380.4,643.4 L381.0,630.7 L381.5,643.3 L382.1,633.4 L382.6,646.3 L383.2,634.3 L383.7,645.0 L384.3,628.9 L384.8,644.4 L385.4,631.5 L385.9,642.4 L386.5,632.7 L387.0,642.8 L387.6,630.3 L388.1,642.7 L388.7,632.9 L389.2,655.0 L389.8,630.6 L390.3,648.9 L390.9,633.4 L391.4,644.2 L392.0,632.1 L392.5,644.4 L393.1,634.1 L393.6,643.5 L394.2,633.7 L394.7,643.6 L395.3,626.5 L395.8,647.6 L396.4,631.7 L396.9,643.7 L397.5,633.2 L398.0,642.2 L398.6,633.4 L399.1,645.2 L399.7,630.0 L400.2,642.9 L400.8,631.5 L401.3,645.3 L401.9,631.6 L402.4,644.1 L403.0,631.7 L403.5,643.0 L404.1,631.6 L404.6,643.3 L405.2,633.0 L405.7,644.8 L406.3,631.6 L406.8,643.3 L407.4,629.1 L407.9,643.8 L408.5,631.9 L409.0,642.4 L409.6,631.7 L410.1,642.2 L410.7,631.6 L411.2,643.2 L411.8,629.9 L412.3,643.2 L412.9,630.5 L413.4,642.6 L414.0,631.0 L414.5,643.7 L415.1,629.8 L415.6,641.8 L416.2,629.3 L416.7,644.9 L417.3,630.8 L417.8,647.5 L418.4,627.0 L418.9,642.6 L419.5,631.5 L420.0,641.4 L420.6,630.1 L421.1,646.5 L421.7,631.9 L422.2,643.6 L422.8,631.3 L423.3,644.4 L423.9,632.7 L424.4,644.3 L425.0,632.0 L425.5,643.4 L426.1,632.0 L426.6,643.1 L427.2,630.3 L427.7,642.8 L428.3,630.3 L428.8,641.1 L429.4,632.1 L429.9,641.8 L430.5,630.4 L431.0,641.5 L431.6,630.2 L432.1,642.5 L432.7,632.6 L433.2,642.4 L433.8,632.2 L434.3,641.3 L434.9,633.1 L435.4,642.7 L436.0,632.9 L436.5,643.2 L437.1,634.1 L437.6,643.8 L438.2,633.3 L438.7,645.0 L439.3,633.2 L439.8,643.6 L440.4,630.6 L440.9,643.2 L441.5,633.7 L442.0,642.8 L442.6,633.1 L443.1,642.8 L443.7,630.6 L444.2,643.1 L444.8,633.9 L445.3,644.2 L445.9,633.5 L446.4,643.6 L447.0,633.8 L447.5,644.7 L448.1,629.1 L448.6,646.8 L449.2,634.3 L449.7,646.9 L450.3,633.6 L450.8,645.1 L451.4,635.4 L451.9,646.0 L452.5,632.8 L453.0,655.0 L453.6,633.6 L454.1,643.4 M469.0,635.6 L469.5,653.0 L470.1,636.4 L470.6,646.8 L471.2,634.2 L471.7,649.8 L472.3,636.7 L472.8,650.5 L473.4,630.9 L473.9,649.6 L474.5,636.8 L475.0,649.1 L475.6,638.0 L476.1,659.9 L476.7,637.2 L477.2,658.4 L477.8,631.5 L478.3,651.5 L478.9,637.7 L479.4,660.6 L480.0,636.8 L480.5,649.7 L481.1,637.2 L481.6,660.6 L482.2,636.0 L482.7,648.7 L483.3,636.0 L483.8,647.4 L484.4,634.4 L484.9,648.4 L485.5,635.9 L486.0,650.5 L486.6,630.4 L487.1,645.5 L487.7,632.4 L488.2,645.4 L488.8,626.1 L489.3,649.0 L489.9,632.9 L490.4,644.3 L491.0,634.3 L491.5,658.7 L492.1,634.0 L492.6,648.6 L493.2,634.1 L493.7,648.9 L494.3,633.2 L494.8,650.6 L495.4,636.4 L495.9,650.8 L496.5,635.6 L497.0,648.7 L497.6,634.8 L498.1,646.7 L498.7,633.4 L499.2,647.3 L499.8,633.5 L500.3,648.7 L500.9,632.1 L501.4,644.6 L502.0,632.8 L502.5,645.4 L503.1,626.2 L503.6,649.5 L504.2,630.6 L504.7,643.2 L505.3,628.9 L505.8,644.4 L506.4,630.4 L506.9,646.8 L507.5,630.2 L508.0,644.0 L508.6,625.0 L509.1,643.7 L509.7,630.6 L510.2,647.7 L510.8,631.9 L511.3,643.2 L511.9,627.2 L512.4,642.5 L513.0,627.7 L513.5,646.0 L514.1,631.0 L514.6,643.5 L515.2,628.1 L515.7,649.1 L516.3,631.5 L516.8,643.5 L517.4,629.3 L517.9,643.7 L518.5,630.7 L519.0,642.4 L519.6,629.9 L520.1,647.5 L520.7,632.1 L521.2,642.7 L521.8,627.3 L522.3,647.1 L522.9,628.9 L523.4,642.0 L524.0,628.2 L524.5,653.0 L525.1,614.1 L525.6,644.8 L526.2,631.2 L526.7,646.6 L527.3,630.4 L527.8,644.2 L528.4,621.9 L528.9,644.9 L529.5,630.9 L530.0,642.5 L530.6,623.9 L531.1,641.8 L531.7,628.9 L532.2,643.1 L532.8,631.2 L533.3,644.4 L533.9,631.7 L534.4,641.8 L535.0,630.5 L535.5,642.4 L536.1,632.3 L536.6,645.3 L537.2,628.8 L537.7,649.5 L538.3,632.9 L538.8,645.3 L539.4,632.8 L539.9,646.4 L540.5,631.8 L541.0,652.3 L541.6,632.2 L542.1,643.5 L542.7,629.7 L543.2,643.6 L543.8,629.8 L544.3,644.7 L544.9,625.0 L545.4,644.7 L546.0,629.1 L546.5,642.3 L547.1,629.2 L547.6,642.1 L548.2,627.2 L548.7,643.2 L549.3,630.8 L549.8,641.8 L550.4,629.9 L550.9,645.2 L551.5,630.9 L552.0,645.8 L552.6,629.2 L553.1,642.4 L553.7,629.6 L554.2,642.9 L554.8,632.5 L555.3,645.3 L555.9,632.1 L556.4,649.1 L557.0,631.2 L557.5,645.0 L558.1,629.2 L558.6,644.1 L559.2,630.4 L559.7,644.5 L560.2,634.3 L560.8,653.5 L561.3,630.8 L561.9,644.6 L562.4,633.9 L563.0,654.5 L563.5,630.1 L564.1,648.5 L564.6,632.4 L565.2,645.5 L565.7,631.7 L566.3,643.5 L566.8,631.6 L567.4,645.5 L567.9,631.5 L568.5,643.9 L569.0,633.2 L569.6,648.2 L570.1,629.8 L570.7,648.3 L571.2,631.8 L571.8,648.6 L572.3,630.8 L572.9,646.3 L573.4,631.2 L574.0,647.8 L574.5,633.6 L575.1,645.1 L575.6,635.6 L576.2,646.0 L576.7,636.3 L577.3,652.9 L577.8,635.0 L578.4,651.1 L578.9,637.8 L579.5,649.3 L580.0,631.4 L580.6,650.9 L581.1,636.6 L581.7,649.5 L582.2,637.6 L582.8,647.5 L583.3,636.9 L583.9,648.1 L584.4,635.5 L585.0,649.8 L585.5,631.8 L586.1,642.9 L586.6,631.5 L587.2,642.7 L587.7,630.8 L588.3,642.3 L588.8,630.5 L589.4,642.2 L589.9,624.2 L590.5,643.3 L591.0,624.3 L591.6,649.3 L592.1,632.6 L592.7,647.3 L593.2,626.6 L593.8,645.9 L594.3,632.5 L594.9,654.8 L595.4,640.6 L596.0,659.4 L596.5,645.4 L597.1,656.3 L597.6,645.9 L598.2,656.4 L598.7,645.7 L599.3,657.2 L599.8,634.6 L600.4,657.0 L600.9,644.8 L601.5,657.5 L602.0,644.4 L602.6,657.7 L603.1,640.0 L603.7,650.6 L604.2,639.6 L604.8,654.4 L605.3,632.5 L605.9,651.9 L606.4,637.3 L607.0,658.9 L607.5,638.9 L608.1,648.7 L608.6,633.6 L609.2,649.6 L609.7,639.9 L610.3,652.1 L610.8,622.7 L611.4,648.8 L611.9,631.7 L612.5,642.9 L613.0,630.8 L613.6,646.5 L614.1,627.6 L614.7,647.7 L615.2,629.4 L615.8,640.0 L616.3,629.4 L616.9,641.9 L617.4,630.5 L618.0,641.7 L618.5,629.5 L619.1,641.9 L619.6,631.6 L620.2,641.1 L620.7,623.2 L621.3,643.2 L621.8,633.6 L622.4,646.2 L622.9,635.9 L623.5,642.6 L624.0,653.4 M640.0,563.0 L640.5,578.1 L641.1,558.2 L641.6,575.4 L642.2,563.6 L642.7,579.4 L643.3,564.6 L643.8,574.7 L644.4,564.2 L644.9,574.6 L645.5,561.0 L646.0,584.3 L646.6,577.6 L647.1,588.1 L647.7,587.0 L648.2,597.0 L648.8,595.0 L649.3,605.8 L649.9,599.9 L650.4,612.2 L651.0,608.3 L651.5,626.0 L652.1,613.3 L652.6,630.5 L653.2,619.8 L653.7,637.7 L654.3,630.2 M666.9,642.2 L667.5,630.5 L668.0,644.9 L668.6,629.2 L669.1,647.2 L669.7,628.7 L670.2,645.0 L670.8,629.1 L671.3,642.3 L671.9,626.8 L672.4,643.9 L673.0,622.5 L673.5,645.0 L674.1,628.6 L674.6,642.5 L675.2,627.7 L675.7,643.1 L676.3,632.2 L676.8,642.0 L677.4,632.3 L677.9,642.5 L678.5,629.4 L679.0,642.8 L679.6,632.9 L680.1,646.3 L680.7,631.1 L681.2,642.6 L681.8,633.4 L682.3,643.0 L682.9,632.7 L683.4,648.8 L684.0,625.3 L684.5,645.8 L685.1,633.3 L685.6,643.1 L686.2,631.1 L686.7,640.9 L687.3,630.7 L687.8,642.0 L688.4,625.3 L688.9,642.5 L689.5,629.4 L690.0,641.1 L690.6,629.0 L691.1,642.1 L691.7,628.0 L692.2,646.9 L692.8,624.9 L693.3,638.9 L693.9,628.6 L694.4,646.0 L695.0,627.7 L695.5,639.7 L696.1,627.4 L696.6,639.5 L697.2,618.2 L697.7,635.5 L698.3,614.1 L698.8,635.6 L699.4,623.6 L699.9,638.8 L700.5,623.3 L701.0,636.8 L701.6,618.8 L702.1,639.1 L702.7,629.2 L703.2,642.6 L703.8,625.1 L704.3,641.8 L704.9,630.4 L705.4,641.0 L706.0,629.9 L706.5,641.6 L707.1,628.9 L707.6,643.0 L708.2,629.1 L708.7,639.4 L709.3,628.3 L709.8,650.0 L710.4,623.8 L710.9,643.3 L711.5,625.9 L712.0,639.4 L712.6,627.6 L713.1,642.2 L713.7,626.9 L714.2,638.0 L714.8,630.7 L715.3,640.5 L715.9,629.0 L716.4,648.5 L717.0,634.0 L717.5,647.7 L718.1,632.9 L718.6,647.4 L719.2,629.2 L719.7,645.1 L720.3,628.6 L720.8,643.7 L721.4,633.3 L721.9,643.5 L722.5,629.8 L723.0,642.0 L723.6,631.1 L724.1,642.7 L724.7,631.4 L725.2,641.6 L725.8,627.3 L726.3,639.6 L726.9,624.5 L727.4,638.6 L728.0,616.9 L728.5,642.0 L729.1,620.6 L729.6,641.1 L730.2,625.4 L730.7,639.3 L731.3,623.4 L731.8,638.5 L732.4,625.6 L732.9,639.6 L733.5,625.1 L734.0,636.9 L734.6,626.1 L735.1,635.6 L735.7,624.8 L736.2,637.6 L736.8,620.9 L737.3,637.7 L737.9,624.0 L738.4,641.8 L739.0,623.0 L739.5,637.0 L740.1,624.1 L740.6,641.1 L741.2,624.8 L741.7,646.2 L742.3,621.4 L742.8,639.7 L743.4,622.0 L743.9,637.6 L744.5,621.9 L745.0,633.6 L745.6,621.1 L746.1,638.8 L746.7,621.2 L747.2,641.8 L747.8,611.3 L748.3,624.1 L748.9,614.5 L749.4,624.2 L750.0,607.4 L750.5,606.6 L751.1,591.5 L751.6,602.1 L752.2,585.4 L752.7,585.2 L753.3,574.5 L753.8,575.2 L754.4,560.5 M767.0,569.9 L767.6,573.2 L768.1,586.5 L768.7,590.2 L769.2,596.4 L769.8,603.8 L770.3,608.2 L770.9,615.6 L771.4,621.2 L772.0,617.9 L772.5,634.5 L773.1,625.6 L773.6,639.1 L774.2,627.5 L774.7,646.5 L775.3,626.1 L775.8,647.8 L776.4,633.4 L776.9,647.6 L777.5,634.7 L778.0,654.6 L778.6,640.1 L779.1,651.1 L779.7,641.2 L780.2,662.8 L780.8,645.3 L781.3,655.0 L781.9,647.8 L782.4,659.6 L783.0,648.3 L783.5,663.0 L784.1,652.7 L784.6,666.5 L785.2,651.8 L785.7,672.2 L786.3,656.0 L786.8,669.0 L787.4,657.8 L787.9,674.0 L788.5,650.6 L789.0,669.9 L789.6,653.1 L790.1,670.7 L790.7,649.6 L791.2,667.0 M797.8,623.0 L798.4,638.2 L798.9,623.3 L799.5,634.5 L800.0,624.1 L800.6,633.6 L801.1,623.9 L801.7,632.7 L802.2,620.4 L802.8,634.6 L803.3,621.1 L803.9,646.1 L804.4,628.2 L805.0,648.3 L805.5,631.2 L806.1,651.4 L806.6,624.0 L807.2,645.1 L807.7,624.4 L808.3,643.5 L808.8,632.9 L809.4,642.4 L809.9,633.3 L810.5,644.3 L811.0,630.9 L811.6,645.2 L812.1,628.9 L812.7,641.0 L813.2,630.2 L813.8,643.0 L814.3,630.3 L814.9,640.0 L815.4,628.0 L816.0,641.0 L816.5,626.3 L817.1,640.6 L817.6,620.7 L818.2,647.8 L818.7,630.0 L819.3,643.4 L819.8,626.1 L820.4,639.9 L820.9,629.4 L821.5,640.6 L822.0,628.6 L822.6,642.9 L823.1,622.6 L823.7,640.6 L824.2,629.2 L824.8,641.7 L825.3,627.2 L825.9,644.7 L826.4,628.6 L827.0,641.4 L827.5,630.5 L828.1,646.2 L828.6,629.4 L829.2,640.7 L829.7,630.1 L830.3,641.5 L830.8,628.2 L831.4,640.7 L831.9,630.1 L832.5,640.3 L833.0,629.0 L833.6,651.8 L834.1,628.3 L834.7,641.1 L835.2,622.7 L835.8,639.5 L836.3,629.0 L836.9,644.2 L837.4,630.3 L838.0,643.4 L838.5,629.0 L839.1,639.3 L839.6,629.3 L840.2,640.9 L840.7,628.9 L841.3,641.4 L841.8,630.8 L842.4,640.7 L842.9,620.5 L843.5,641.9 L844.0,629.5 L844.6,641.4 L845.1,631.1 L845.7,650.7 L846.2,629.3 L846.8,644.1 L847.3,632.9 L847.9,643.7 L848.4,628.9 L849.0,643.7 L849.5,630.6 L850.1,649.1 L850.6,630.0 L851.2,645.0 L851.7,633.2 L852.3,642.3 L852.8,629.5 L853.4,644.4 L853.9,628.1 L854.5,648.3 L855.0,627.4 L855.6,645.4 L856.1,618.8 L856.7,648.6 L857.2,628.9 L857.8,644.9 L858.3,631.0 L858.9,646.0 L859.4,625.0 L860.0,659.5 L860.5,635.3 L861.1,646.5 L861.6,635.5 L862.2,647.1 L862.7,635.7 L863.3,648.5 L863.8,636.9 L864.4,646.7 L864.9,635.8 L865.5,646.6 L866.0,636.8 L866.6,654.0 L867.1,633.0 L867.7,649.6 L868.2,640.0 L868.8,655.1 L869.3,632.6 L869.9,652.6 L870.4,640.7 L871.0,648.1 L871.5,631.7 L872.1,655.1 L872.6,640.2 L873.2,649.9 L873.7,641.8 L874.3,653.1 L874.8,644.8 L875.4,658.8 L875.9,652.2 L876.5,665.7 L877.0,656.6 L877.6,679.3 L878.1,657.0 L878.7,678.2 L879.2,668.7 L879.8,685.6 L880.3,672.6 L880.9,688.5 L881.4,676.5 L882.0,693.7 L882.5,677.2 L883.1,696.1 L883.6,686.0 L884.2,698.1 L884.7,686.6 L885.3,701.2 L885.8,688.3 L886.4,699.5 L886.9,685.4 L887.5,697.7 L888.0,684.7 L888.6,699.2 L889.1,686.8 L889.7,701.4 L890.2,685.6 L890.8,700.5 L891.3,689.5 L891.9,700.4 L892.4,690.0 L893.0,699.7 L893.5,687.8 L894.1,697.8 L894.6,684.9 L895.2,698.4 L895.7,677.9 L896.3,695.1 L896.8,680.8 L897.4,695.2 L897.9,673.8 L898.5,698.3 L899.0,667.7 L899.6,686.1 L900.1,675.6 L900.7,684.5 L901.2,668.0 L901.8,680.8 L902.3,666.6 L902.9,674.2 L903.4,661.9 L904.0,674.3 L904.5,654.8 L905.1,666.9 L905.6,649.8 L906.2,664.0 L906.7,652.3 L907.3,664.3 L907.8,650.0 L908.4,661.9 L908.9,649.2 L909.5,660.0 L910.0,648.9 L910.6,657.5 L911.1,646.9 L911.7,663.5 L912.2,644.4 L912.8,652.9 L913.3,638.9 L913.9,654.3 L914.4,640.8 L915.0,654.8 L915.5,638.3 L916.1,651.3 L916.6,638.3 L917.2,650.8 L917.7,640.2 L918.3,655.6 L918.8,639.4 L919.4,656.1 L919.9,640.5 L920.5,650.4 L921.0,643.6 L921.6,662.4 L922.1,647.6 L922.7,664.8 L923.2,655.7 L923.8,668.6 L924.3,653.0 L924.9,671.4 L925.4,656.8 L926.0,672.8 L926.5,663.7 L927.1,676.5 L927.6,664.2 L928.2,678.3 L928.7,669.8 L929.3,687.5 L929.8,673.9 L930.4,683.4 L930.9,674.1 L931.5,686.5 L932.0,679.0 L932.6,687.6 L933.1,674.2 L933.7,689.3 L934.2,670.8 L934.8,680.0 L935.3,668.0 L935.9,682.1 L936.4,667.8 L937.0,678.4 L937.5,664.8 L938.1,675.5 L938.6,665.6 L939.2,678.4 L939.7,662.5 L940.3,679.7 L940.8,658.4 L941.4,669.5 L941.9,652.7 L942.5,663.2 L943.0,637.5 L943.6,648.3 L944.1,638.4 L944.7,643.7 L945.2,633.3 L945.8,642.2 L946.3,629.0 L946.9,643.5 L947.4,631.1 L948.0,641.1 L948.5,629.8 L949.1,643.8 L949.6,630.1 L950.2,643.0 L950.7,625.1 L951.3,641.1 L951.8,630.4 L952.4,642.1 L952.9,628.6 L953.5,645.9 L954.0,629.2 L954.6,644.9 L955.1,631.5 L955.7,647.6 L956.2,629.5 L956.8,647.3 L957.3,637.1 L957.9,649.8 L958.4,638.8 L959.0,655.3 L959.5,640.0 L960.1,652.5 L960.6,637.6 L961.2,657.8 L961.7,640.0 L962.3,653.3 L962.8,638.1 L963.4,648.5 L963.9,636.7 L964.5,653.4 L965.0,635.8 L965.6,647.4 L966.1,628.5 L966.7,650.9 L967.2,637.9 L967.8,656.3 L968.3,643.0 L968.9,655.6 L969.4,644.1 L970.0,655.4 L970.5,646.2 L971.1,658.7 L971.6,644.9 L972.2,660.8 L972.7,645.9 L973.3,656.0 L973.8,644.6 L974.4,661.9 L974.9,639.5 L975.5,658.8 L976.0,638.3 L976.6,647.8 L977.1,637.0 L977.7,649.7 L978.2,639.9 L978.8,651.4 L979.3,639.2 L979.9,647.6 L980.4,636.4 L981.0,654.5 L981.5,630.3 L982.1,648.9 L982.6,638.3 L983.2,651.6 L983.7,635.5 L984.3,647.0 L984.8,631.4 L985.4,652.4 L985.9,627.4 L986.5,640.1 L987.0,626.3 L987.6,637.0 L988.1,616.0 L988.7,632.9 L989.2,621.8 L989.8,628.0 L990.3,610.3 L990.9,621.8 L991.4,608.8 L992.0,617.6 L992.5,600.6 L993.1,615.2 L993.6,599.7 L994.2,611.1 L994.7,601.6 L995.3,618.3 L995.8,600.0 L996.4,612.3 L996.9,598.8 L997.5,610.7 M1003.5,659.3 L1004.1,671.0 L1004.6,657.5 L1005.2,670.9 L1005.7,659.4 L1006.3,674.0 L1006.8,658.6 L1007.4,670.5 L1007.9,660.5 L1008.5,673.3 L1009.0,657.6 L1009.6,666.7 L1010.1,641.2 L1010.7,659.7 L1011.2,649.8 L1011.8,650.9 L1012.3,640.1 L1012.9,646.7 L1013.4,629.8 L1014.0,639.1 L1014.5,623.3 L1015.1,635.8 L1015.6,621.2 L1016.2,633.4 L1016.7,619.8 L1017.3,630.1 L1017.8,612.2 L1018.4,624.9 L1018.9,611.9 L1019.5,625.9 L1020.0,614.7 L1020.6,622.7 L1021.1,609.1 L1021.7,623.2 L1022.2,601.8 L1022.8,614.2 L1023.3,603.2 L1023.9,619.0 L1024.4,603.9 L1025.0,614.8 L1025.5,603.2 L1026.1,623.8 L1026.6,606.0 L1027.2,618.2 L1027.7,602.1 L1028.3,618.4 L1028.8,601.4 L1029.4,618.2 L1029.9,596.6 L1030.5,611.8 L1031.0,592.3 L1031.6,603.9 L1032.1,588.5 L1032.7,606.0 L1033.2,592.8 L1033.8,609.2 L1034.3,594.7 L1034.9,612.3 L1035.4,597.4 L1036.0,616.9 L1036.5,608.4 L1037.1,619.7 L1037.6,617.4 L1038.2,630.6 L1038.7,614.2 L1039.3,632.1 L1039.8,619.4 L1040.4,630.6 L1040.9,616.8 L1041.5,627.9 L1042.0,613.5 L1042.6,636.1 L1043.1,612.0 L1043.7,627.2 L1044.2,612.7 L1044.8,633.3 L1045.3,620.2 L1045.9,635.5 L1046.4,623.0 L1047.0,632.0 L1047.5,622.9 L1048.1,634.8 L1048.6,620.9 L1049.2,636.0 L1049.7,622.2 L1050.3,634.6 L1050.8,624.4 L1051.4,638.0 L1051.9,624.2 L1052.5,636.9 L1053.0,622.8 L1053.6,636.4 L1054.1,622.7 L1054.7,636.0 L1055.2,626.0 L1055.8,640.4 L1056.3,626.0 L1056.9,636.8 L1057.4,627.7 L1058.0,640.1 L1058.5,634.0 L1059.1,645.0 L1059.6,637.9 L1060.2,652.9 L1060.7,642.7 L1061.3,655.5 L1061.8,648.9 L1062.4,662.2 L1062.9,645.2 L1063.5,660.8 L1064.0,644.3 L1064.6,660.7 L1065.1,645.8 L1065.7,663.3 L1066.2,646.6 L1066.8,658.2 L1067.3,643.3 L1067.9,670.5 L1068.4,648.6 L1069.0,655.7 L1069.5,641.6 L1070.1,652.0 L1070.6,633.6 L1071.2,644.1 L1071.7,635.1 L1072.3,644.8 L1072.8,629.5 L1073.4,641.0 L1073.9,626.3 L1074.5,640.1 L1075.0,629.3 L1075.6,647.1 L1076.1,623.7 L1076.7,642.0 L1077.2,629.2 L1077.8,639.8 L1078.3,627.8 L1078.9,640.7 L1079.4,630.2 L1080.0,641.8 L1080.5,627.9 L1081.1,644.0 L1081.6,628.4 L1082.2,645.8 L1082.7,628.6 L1083.3,647.0 L1083.8,629.3 L1084.4,649.3 L1084.9,638.0 L1085.5,651.4 L1086.0,635.6 L1086.6,663.0 L1087.1,644.8 L1087.7,667.0 L1088.2,655.8 L1088.8,675.9 L1089.3,665.1 L1089.9,687.9 L1090.4,671.9 L1091.0,691.9 L1091.5,680.2 L1092.1,696.2 L1092.6,681.0 L1093.2,691.5 L1093.7,679.8 L1094.3,692.5 L1094.8,681.9 L1095.4,692.2 L1095.9,684.1 L1096.5,689.7 L1097.0,681.3 L1097.6,677.6 L1098.1,672.5 L1098.7,667.1 L1099.2,656.7 L1099.8,660.2 L1100.3,645.4 L1100.9,650.9 L1101.4,634.7 L1102.0,643.8 L1102.5,632.4 L1103.1,641.6 L1103.6,626.7 L1104.2,642.0 L1104.7,625.5 L1105.3,640.7 L1105.8,624.9 L1106.4,642.3 L1106.9,623.3 L1107.5,636.9 L1108.0,624.8 L1108.6,635.8 L1109.1,623.7 L1109.7,639.5 L1110.2,625.1 L1110.8,636.7 L1111.3,622.1 L1111.9,638.3 L1112.4,627.0 L1113.0,643.8 L1113.5,629.7 L1114.1,644.1 L1114.6,634.9 L1115.2,647.7 L1115.7,631.1 L1116.3,642.6 L1116.8,625.2 L1117.4,643.5 L1117.9,629.1 L1118.5,642.2 L1119.0,629.0 L1119.6,641.2 L1120.1,630.0 L1120.7,646.3 L1121.2,627.8 L1121.8,648.6 L1122.3,636.8 L1122.9,649.3 L1123.4,636.6 L1124.0,648.9 L1124.5,634.6 L1125.1,644.9 L1125.6,630.5 L1126.2,641.3 L1126.7,627.1 L1127.3,639.9 L1127.8,628.4 L1128.4,638.6 L1128.9,628.3 L1129.5,645.5 L1130.0,629.6 L1130.6,639.8 L1131.1,629.4 L1131.7,648.8 L1132.2,631.8 L1132.8,641.0 L1133.3,630.2 L1133.9,643.2 L1134.4,629.4 L1135.0,639.1 L1135.5,625.0 L1136.1,640.4 L1136.6,625.7 L1137.2,639.5 L1137.7,616.9 L1138.3,631.6 L1138.8,619.6 L1139.4,630.2 L1139.9,619.5 L1140.5,634.0 L1141.0,618.4 L1141.6,630.4 L1142.1,618.4 L1142.7,634.3 L1143.2,618.0 L1143.8,630.9 L1144.3,617.4 L1144.9,632.2 L1145.4,619.3 L1146.0,636.2 L1146.5,629.4 L1147.1,640.3 L1147.6,624.1 L1148.2,639.8 L1148.7,635.2 L1149.3,647.9 L1149.8,634.9 L1150.4,648.5 L1150.9,629.8 L1151.5,648.7 L1152.0,631.5 L1152.6,643.6 L1153.1,626.1 L1153.7,651.8 L1154.2,631.0 L1154.8,643.9 L1155.3,628.0 L1155.9,643.3 L1156.4,626.3 L1157.0,642.1 L1157.5,628.8 L1158.1,643.6 L1158.6,627.0 L1159.2,644.7 L1159.7,627.7 L1160.3,649.1 L1160.8,622.5 L1161.4,644.6 L1161.9,623.9 L1162.5,643.4 L1163.0,627.2 L1163.6,642.3 L1164.1,625.4 L1164.7,635.3 L1165.2,615.1 L1165.8,632.8 L1166.3,613.6 L1166.9,646.1 L1167.4,613.7 L1168.0,648.3 L1168.5,627.8 L1169.1,667.7 L1169.6,640.0 L1170.2,657.5 M1176.8,636.6 L1177.3,645.9 L1177.9,634.4 L1178.4,648.3 L1179.0,631.8 L1179.5,655.4 L1180.1,631.9 L1180.6,647.0 L1181.2,630.5 L1181.7,648.5 L1182.3,631.0 L1182.8,650.0 L1183.4,634.6 L1183.9,648.8 L1184.5,630.5 L1185.0,653.3 L1185.6,635.9 L1186.1,651.4 L1186.7,634.3 L1187.2,651.9 L1187.8,628.6 L1188.3,654.3 L1188.9,636.1 L1189.4,650.9 L1190.0,633.5 L1190.5,648.5 L1191.1,626.1 L1191.6,648.0 L1192.2,633.4 L1192.7,648.8 L1193.3,632.9 L1193.8,648.0 L1194.4,635.0 L1194.9,663.9 L1195.5,630.0 L1196.0,651.3 L1196.6,635.9 L1197.1,650.2 L1197.7,640.3 L1198.2,653.5 L1198.8,625.4 L1199.3,653.7 L1199.9,638.9 L1200.4,652.2 L1201.0,638.3 L1201.5,669.2 L1202.1,633.1 L1202.6,657.5 L1203.2,629.9 L1203.7,648.1 L1204.3,629.5 L1204.8,635.4 L1205.4,621.6 L1205.9,630.9 L1206.5,617.9 L1207.0,635.3 L1207.6,619.5 L1208.1,633.9 L1208.7,624.9 L1209.2,645.0 L1209.8,628.3 L1210.3,651.8 L1210.9,632.6 L1211.4,658.1 L1212.0,634.7 L1212.5,653.3 L1213.1,636.5 L1213.6,653.2 L1214.2,639.9 L1214.7,654.0 L1215.3,638.7 L1215.8,652.1 L1216.4,639.3 L1216.9,651.9 L1217.5,637.3 L1218.0,663.4 L1218.6,638.3 L1219.1,659.2 L1219.7,638.3 L1220.2,658.5 L1220.8,642.6 L1221.3,657.8 L1221.9,642.7 L1222.4,659.7 L1223.0,637.1 L1223.5,660.2 L1224.1,641.3 L1224.6,649.0 L1225.2,636.3 L1225.7,648.1 L1226.3,632.1 L1226.8,647.1 L1227.4,633.7 L1227.9,647.6 L1228.5,633.8 L1229.0,652.2 L1229.6,632.5 L1230.1,648.9 L1230.7,630.4 L1231.2,647.9 L1231.8,625.4 L1232.3,647.0 L1232.9,630.6 L1233.4,650.2 L1234.0,628.8 L1234.5,648.0 L1235.1,626.2 L1235.6,650.1 L1236.2,630.3 L1236.7,647.3 L1237.3,634.2 L1237.8,650.1 L1238.4,633.0 L1238.9,648.6 L1239.5,631.4 L1240.0,650.6 L1240.6,632.1 L1241.1,649.1 L1241.7,625.7 L1242.2,645.5 L1242.8,629.2 L1243.3,647.5 L1243.9,629.5 L1244.4,646.7 L1245.0,632.5 L1245.5,648.5 L1246.1,630.9 L1246.6,650.1 L1247.2,633.8 L1247.7,648.4 L1248.3,631.3 L1248.8,646.4 L1249.4,633.2 L1249.9,654.8 L1250.5,633.2 L1251.0,648.5 L1251.6,633.3 L1252.1,646.6 L1252.7,634.2 L1253.2,648.0 L1253.8,633.8 L1254.3,656.3 L1254.9,636.3 L1255.4,650.2 L1256.0,632.1 L1256.5,652.5 L1257.1,636.9 L1257.6,649.0 L1258.2,634.9 L1258.7,655.8 L1259.3,633.6 L1259.8,648.0 L1260.4,632.6 L1260.9,648.7 L1261.5,633.7 L1262.0,649.7 L1262.6,629.0 L1263.1,647.9 L1263.7,630.8 L1264.2,650.9 L1264.8,622.3 L1265.3,649.0 L1265.9,633.9 L1266.4,648.6 L1267.0,629.4 L1267.5,647.5 L1268.1,629.9 L1268.6,647.0 L1269.2,629.9 L1269.7,649.5 L1270.3,630.1 L1270.8,654.7 L1271.4,628.9 L1271.9,650.5 L1272.5,629.7 L1273.0,647.0 L1273.6,631.3 L1274.1,650.2 L1274.7,633.4 L1275.2,650.7 L1275.8,632.8 L1276.3,648.2 L1276.9,629.9 L1277.4,649.2 L1278.0,627.6 L1278.5,645.7 L1279.1,621.3 L1279.6,646.1 L1280.2,628.9 L1280.7,659.8 L1281.3,629.2 L1281.8,648.3 L1282.4,620.5 L1282.9,643.4 L1283.5,625.6 L1284.0,648.2 L1284.6,628.4 L1285.1,648.8 L1285.7,625.3 L1286.2,645.0 L1286.8,628.8 L1287.3,646.6 L1287.9,624.9 L1288.4,652.7 L1289.0,624.2 L1289.5,648.4 L1290.1,629.9 L1290.6,644.5 L1291.2,621.7 L1291.7,653.2 L1292.3,625.6 L1292.8,643.0 L1293.4,624.3 L1293.9,644.3 L1294.5,625.6 L1295.0,645.1 L1295.6,622.3 L1296.1,646.1 L1296.7,617.3 L1297.2,644.4 L1297.8,626.8 L1298.3,645.1 L1298.9,627.1 L1299.4,642.2 L1300.0,618.2 L1300.5,642.5 L1301.1,626.6 L1301.6,640.8 L1302.2,627.9 L1302.7,649.6 L1303.3,626.9 L1303.8,640.9 L1304.4,621.6 L1304.9,641.1 L1305.5,624.1 L1306.0,642.7 L1306.6,619.9 L1307.1,642.4 L1307.7,626.9 L1308.2,641.4 L1308.8,627.5 L1309.3,641.1 L1309.9,629.0 L1310.4,642.0 L1311.0,628.8 L1311.5,647.9 L1312.1,620.4 L1312.6,644.2 L1313.2,629.6 L1313.7,643.9 L1314.3,627.1 L1314.8,645.0 L1315.4,630.2 L1315.9,644.5 L1316.5,628.7 L1317.0,643.0 L1317.6,624.3 L1318.1,642.2 L1318.7,628.4 L1319.2,647.7 L1319.8,626.2 L1320.3,648.4 L1320.9,626.0 L1321.4,649.9 L1322.0,627.9 L1322.5,648.2 L1323.1,626.1 L1323.6,640.0 L1324.2,626.9 L1324.7,656.9 L1325.3,624.2 L1325.8,645.4 L1326.4,622.6 L1326.9,642.0 L1327.5,628.7 L1328.0,645.1 L1328.6,628.6 L1329.1,657.8 L1329.7,643.0 L1330.2,671.3 L1330.8,645.0 L1331.3,661.3 L1331.9,648.3 L1332.4,662.6 L1333.0,646.0 L1333.5,662.8 L1334.1,647.3 L1334.6,671.3 L1335.2,646.3 L1335.7,662.0 L1336.3,643.2 L1336.8,661.7 L1337.4,646.7 L1337.9,657.3 L1338.5,643.9 L1339.0,672.4 L1339.6,624.7 L1340.1,642.8 L1340.7,622.2 L1341.2,642.3 L1341.8,623.8 L1342.3,640.1 L1342.9,625.7 L1343.4,638.4 L1344.0,626.8 L1344.5,642.5 L1345.1,628.6 L1345.6,644.6 L1346.2,627.0 L1346.7,641.9 L1347.3,627.6 L1347.8,644.4 L1348.4,629.1 L1348.9,650.5 L1349.5,629.3 L1350.0,645.2 L1350.6,633.6 L1351.1,653.9 L1351.7,630.1 L1352.2,646.4 L1352.8,625.7 L1353.3,642.3 L1353.9,621.4 L1354.4,651.2 L1355.0,626.4 L1355.5,644.9 L1356.1,630.7 L1356.6,651.0 L1357.2,629.2 L1357.7,642.2 L1358.3,628.4 L1358.8,637.8 L1359.4,622.9 L1359.9,632.3 L1360.5,617.5 L1361.0,639.8 L1361.6,612.9 L1362.1,635.7 L1362.7,615.2 L1363.2,633.2 L1363.8,610.6 L1364.3,640.5 L1364.9,618.1 L1365.4,640.3 L1366.0,619.8 L1366.5,655.2 L1367.1,630.0 L1367.6,655.0 L1368.2,641.1 M1379.7,651.4 L1380.3,640.3 L1380.8,649.3 L1381.4,633.0 L1381.9,647.8 L1382.5,632.7 L1383.0,657.2 L1383.6,631.4 L1384.1,651.7 L1384.7,624.9 L1385.2,646.8 L1385.8,626.0 L1386.3,646.0 L1386.9,627.8 L1387.4,645.5 L1388.0,624.2 L1388.5,646.8 L1389.1,629.1 L1389.6,650.1 L1390.2,631.5 L1390.7,647.6 L1391.3,634.0 L1391.8,649.3 L1392.4,636.7 L1392.9,659.3 L1393.5,625.6 L1394.0,639.6 L1394.6,615.7 L1395.1,630.8 L1395.7,600.9 L1396.2,620.8 L1396.8,597.5 L1397.3,618.0 L1397.9,585.8 L1398.4,607.5 L1399.0,593.1 L1399.5,608.2 L1400.1,591.7 L1400.6,608.9 L1401.2,594.0 L1401.7,608.6 L1402.3,592.0 L1402.8,609.8 L1403.4,592.9 L1403.9,613.2 L1404.5,594.8 L1405.0,625.9 L1405.6,614.5 L1406.1,634.2 L1406.7,613.2 L1407.2,638.3 L1407.8,631.3 L1408.3,652.1 L1408.9,636.1 L1409.4,653.3 L1410.0,640.5 L1410.5,655.0 L1411.1,642.3 L1411.6,658.6 L1412.2,641.0 L1412.7,655.5 L1413.3,642.3 L1413.8,654.5 L1414.4,638.4 L1414.9,656.0 L1415.5,640.3 L1416.0,656.1 L1416.6,624.9 L1417.1,649.8 L1417.7,623.8 L1418.2,652.9 L1418.8,618.6 L1419.3,634.5 L1419.9,616.0 L1420.4,632.9 L1421.0,605.3 L1421.5,624.6 L1422.1,604.8 L1422.6,617.7 L1423.2,598.8 L1423.7,618.4 L1424.3,601.7 L1424.8,622.0 L1425.4,603.8 L1425.9,618.3 L1426.5,603.7 L1427.0,631.3 L1427.6,604.3 L1428.1,622.5 L1428.7,608.5 L1429.2,627.3 L1429.8,613.1 L1430.3,626.5 L1430.9,616.3 L1431.4,631.9 L1432.0,615.6 L1432.5,649.9 L1433.1,620.6 L1433.6,647.1 L1434.2,612.6 L1434.7,640.7 L1435.3,624.3 L1435.8,640.2 L1436.4,624.2 L1436.9,650.8 L1437.5,630.5 L1438.0,649.3 L1438.6,629.7 L1439.1,655.6 L1439.7,639.2 L1440.2,662.8 L1440.8,634.6 L1441.3,660.5 L1441.9,634.3 L1442.4,652.7 L1443.0,628.3 L1443.5,654.2 L1444.1,634.3 L1444.6,660.6 L1445.2,627.9 L1445.7,659.3 L1446.3,632.5 L1446.8,653.6 L1447.4,628.6 L1447.9,655.6 L1448.5,631.8 L1449.0,656.7 L1449.6,624.2 L1450.1,642.9 L1450.7,621.4 L1451.2,650.9 L1451.8,622.7 L1452.3,665.5 L1452.9,625.4 L1453.4,650.4 L1454.0,616.9 L1454.5,634.0 L1455.1,610.7 L1455.6,626.3 L1456.2,603.9 L1456.7,627.2 L1457.3,593.1 L1457.8,627.8 L1458.4,602.5 L1458.9,630.1 L1459.5,602.7 L1460.0,628.6 L1460.6,607.4 L1461.1,631.8 L1461.7,606.5 L1462.2,626.2 L1462.8,608.0 L1463.3,628.2 L1463.9,603.1 L1464.4,631.4 L1465.0,608.7 L1465.5,652.0 L1466.1,624.3 L1466.6,646.0 L1467.2,619.7 L1467.7,649.1 L1468.3,623.5 L1468.8,655.9 L1469.4,627.6 L1469.9,648.8 L1470.5,617.9 L1471.0,655.5 L1471.6,626.7 L1472.1,653.2 L1472.7,624.0 L1473.2,658.8 L1473.8,625.6 L1474.3,650.2 L1474.9,623.0 L1475.4,668.9 L1476.0,628.7 L1476.5,649.2 L1477.1,629.0 L1477.6,646.2 L1478.2,622.9 L1478.7,652.7 L1479.3,625.3 L1479.8,640.0 L1480.4,606.6 L1480.9,645.5 L1481.5,617.8 L1482.0,641.1 L1482.6,619.4 L1483.1,640.2 L1483.7,599.4 L1484.2,638.2 L1484.8,610.2 L1485.3,650.1 L1485.9,621.1 L1486.4,645.5 L1487.0,631.5 L1487.5,670.9 L1488.1,637.3 L1488.6,668.2 L1489.2,645.1 L1489.7,682.5 L1490.3,645.0 L1490.8,672.3 L1491.4,653.4 L1491.9,679.8 L1492.5,657.5 L1493.0,671.5 L1493.6,657.7 L1494.1,678.7 L1494.7,666.8 L1495.2,687.7 L1495.8,675.4 L1496.3,702.4 L1496.9,684.8 L1497.4,708.2 L1498.0,682.9 L1498.5,711.9 L1499.1,682.6 L1499.6,711.4 L1500.2,685.0 L1500.7,715.1 L1501.3,688.7 L1501.8,707.5 L1502.4,679.6 L1502.9,719.2 L1503.5,693.0 L1504.0,721.5 L1504.6,688.6 L1505.1,720.2 L1505.7,691.7 L1506.2,717.3 L1506.8,701.4 L1507.3,726.4 L1507.9,692.4 L1508.4,718.9 L1509.0,691.7 L1509.5,707.7 L1510.1,674.3 L1510.6,703.8 L1511.2,682.5 L1511.7,713.3 L1512.3,654.9 L1512.8,702.6 L1513.4,683.5 L1513.9,711.1 L1514.5,684.9 L1515.0,701.9 L1515.6,668.5 L1516.1,693.0 L1516.7,665.6 L1517.2,688.3 L1517.8,668.9 L1518.3,691.2 L1518.9,663.7 L1519.4,695.1 L1520.0,666.0 L1520.5,691.9 L1521.1,660.7 L1521.6,689.0 L1522.2,669.3 L1522.7,686.2 L1523.3,647.1 L1523.8,693.1 L1524.4,664.6 L1524.9,699.8 L1525.5,657.6 L1526.0,686.7 L1526.6,660.3 L1527.1,681.1 L1527.7,661.6 L1528.2,682.2 L1528.8,653.4 L1529.3,677.1 L1529.9,652.7 L1530.4,675.2 L1531.0,648.6 L1531.5,668.0 L1532.1,649.6 L1532.6,670.0 L1533.2,649.7 L1533.7,651.9 L1534.3,634.7 L1534.8,643.7 L1535.4,619.5 L1535.9,640.2 L1536.5,598.5 L1537.0,632.9 L1537.6,600.7 L1538.1,632.5 L1538.7,598.7 L1539.2,630.0 L1539.8,598.8 L1540.3,623.0 L1540.9,600.5 L1541.4,626.2 L1542.0,602.9 L1542.5,628.4 L1543.1,594.2 L1543.6,628.4 L1544.2,608.4 L1544.7,634.9 L1545.3,613.6 L1545.8,635.7 L1546.4,611.9 L1546.9,633.3 L1547.5,613.1 L1548.0,644.7 L1548.6,600.7 L1549.1,639.3 L1549.7,617.6 L1550.2,645.2 L1550.8,605.2 L1551.3,660.7 L1551.9,638.1 L1552.4,661.7 L1553.0,643.5 L1553.5,674.5 L1554.1,652.1 L1554.6,668.3 L1555.2,647.0 L1555.7,651.1 L1556.3,629.9 L1556.8,663.9 L1557.4,618.2 L1557.9,660.7 L1558.5,641.0 L1559.0,659.2 L1559.6,640.2 L1560.1,668.2 L1560.7,638.1 L1561.2,660.8 L1561.8,645.3 L1562.3,664.3 L1562.9,651.0 L1563.4,669.5 L1564.0,651.5 L1564.5,676.5 L1565.1,657.5 L1565.6,680.4 L1566.2,657.7 L1566.7,684.6 L1567.3,653.1 L1567.8,679.2 L1568.4,644.9 L1568.9,667.8 L1569.5,642.5 L1570.0,652.2 L1570.6,638.6 L1571.1,660.6 L1571.7,633.1 L1572.2,665.4 L1572.8,633.1 L1573.3,663.4 L1573.9,637.6 L1574.4,656.3 L1575.0,633.7 L1575.5,663.0 L1576.1,636.7 L1576.6,655.4 L1577.2,634.5 L1577.7,646.4 L1578.3,623.5 L1578.8,653.2 L1579.4,618.2 L1579.9,645.0 L1580.5,624.2 L1581.0,643.6 L1581.6,622.6 L1582.1,643.1 L1582.7,619.2 L1583.2,642.0 L1583.8,598.5 L1584.3,637.5 L1584.9,595.9 L1585.4,620.0 L1586.0,592.1 L1586.5,617.4 L1587.1,595.3 L1587.6,617.3 L1588.2,592.8 L1588.7,617.2 L1589.3,596.1 L1589.8,629.3 L1590.4,597.8 L1590.9,629.7 L1591.5,609.2 L1592.0,638.3 L1592.6,612.4 L1593.1,635.3 L1593.7,613.9 L1594.2,636.8 L1594.8,608.5 L1595.3,641.3 L1595.9,614.8 L1596.4,638.1 L1597.0,609.3 L1597.5,637.4 L1598.1,613.4 L1598.6,629.4 L1599.2,597.9 L1599.7,629.4 L1600.3,605.8 L1600.8,626.9 L1601.4,605.0 L1601.9,629.5 L1602.5,608.0 L1603.0,626.9 L1603.6,596.2 L1604.1,629.5 L1604.7,622.9 L1605.2,647.6 L1605.8,622.1 L1606.3,642.6 L1606.9,615.4 L1607.4,660.4 L1608.0,610.4 L1608.5,631.2 L1609.1,605.4 L1609.6,654.7 L1610.2,602.5 L1610.7,638.0 L1611.3,604.0 L1611.8,622.5 L1612.4,601.8 L1612.9,629.6 L1613.5,605.5 L1614.0,619.6 L1614.6,580.9 L1615.1,635.0 L1615.7,596.8 L1616.2,619.5 L1616.8,598.7 L1617.3,644.8 L1617.9,594.3 L1618.4,625.5 L1619.0,589.4 L1619.5,619.7 L1620.1,584.3 L1620.6,617.8 L1621.2,596.9 L1621.7,611.7 L1622.3,578.3 L1622.8,619.0 L1623.4,581.7 L1623.9,607.3 L1624.5,588.9 L1625.0,614.5 L1625.6,586.5 L1626.1,609.5 L1626.7,589.5 L1627.2,615.2 L1627.8,581.0 L1628.3,612.4 L1628.9,588.0 L1629.4,611.3 L1630.0,586.2 L1630.5,611.2 L1631.1,589.0 L1631.6,608.8 L1632.2,571.9 L1632.7,604.8 L1633.3,578.8 L1633.8,597.7 L1634.4,566.3 M1649.8,615.1 L1650.3,581.2 L1650.9,642.3 L1651.4,604.6 L1652.0,624.2 L1652.5,602.3 L1653.1,629.7 L1653.6,597.3 L1654.2,634.2 L1654.7,600.0 L1655.3,639.4 L1655.8,615.9 L1656.4,647.8 L1656.9,606.8 L1657.5,631.8 L1658.0,612.9 L1658.6,650.6 L1659.1,623.1 L1659.7,659.9 L1660.2,622.1 L1660.8,639.8 L1661.3,587.9 L1661.9,636.4 L1662.4,608.5 L1663.0,641.1 L1663.5,611.1 L1664.1,638.5 L1664.6,596.0 L1665.2,643.5 L1665.7,611.4 L1666.3,640.9 L1666.8,612.4 L1667.4,641.6 L1667.9,613.3 L1668.5,643.4 L1669.0,614.7 L1669.6,643.8 L1670.1,609.9 L1670.7,642.7 L1671.2,618.6 L1671.8,645.0 L1672.3,620.9 L1672.9,653.5 L1673.4,589.1 L1674.0,648.6 L1674.5,619.2 L1675.1,654.1 L1675.6,613.5 L1676.2,647.1 L1676.7,620.0 L1677.3,647.1 L1677.8,625.6 L1678.4,648.8 L1678.9,619.2 L1679.5,643.9 L1680.0,625.1 L1680.6,648.0 L1681.1,619.6 L1681.7,659.0 L1682.2,605.0 L1682.8,650.0 L1683.3,620.7 L1683.9,655.6 L1684.4,624.0 L1685.0,655.6 L1685.5,624.1 L1686.1,655.1 L1686.6,615.5 L1687.2,651.6 L1687.7,612.5 L1688.3,644.0 L1688.8,621.4 L1689.4,646.0 L1689.9,601.1 L1690.5,640.8 L1691.0,624.2 L1691.6,651.3 L1692.1,624.8 L1692.7,653.8 L1693.2,619.9 L1693.8,640.7 L1694.3,618.9 L1694.9,644.9 L1695.4,614.0 L1696.0,652.7 L1696.5,622.8 L1697.1,654.0 L1697.6,627.3 L1698.2,653.9 L1698.7,631.1 L1699.3,669.9 L1699.8,622.1 L1700.4,651.4 L1700.9,627.8 L1701.5,658.9 L1702.0,623.9 L1702.6,657.4 L1703.1,620.4 L1703.7,651.7 L1704.2,619.8 L1704.8,653.5 L1705.3,630.3 L1705.9,660.0 L1706.4,621.3 L1707.0,654.3 L1707.5,629.0 L1708.1,660.5 L1708.6,629.7 L1709.2,656.1 L1709.7,605.0 L1710.3,654.9 L1710.8,623.1 L1711.4,673.2 L1711.9,615.0 L1712.5,670.8 L1713.0,646.9 L1713.6,672.6 L1714.1,647.2 L1714.7,686.2 L1715.2,645.4 L1715.8,678.7 L1716.3,643.1 L1716.9,667.3 L1717.4,624.2 L1718.0,664.2 L1718.5,635.1 L1719.1,668.8 L1719.6,632.2 L1720.2,667.2 L1720.7,605.9 L1721.3,666.2 L1721.8,627.8 L1722.4,662.3 L1722.9,633.6 L1723.5,660.4 L1724.0,636.6 L1724.6,674.0 L1725.1,633.7 L1725.7,656.2 L1726.2,629.1 L1726.8,684.3 L1727.3,628.4 L1727.9,655.7 L1728.4,627.3 L1729.0,656.2 L1729.5,623.1 L1730.1,653.5 L1730.6,601.5 L1731.2,648.6 L1731.7,596.9 L1732.3,634.2 L1732.8,598.4 L1733.4,628.0 L1733.9,614.1 L1734.5,640.8 L1735.0,629.1 L1735.6,677.7 L1736.1,620.8 L1736.7,674.9 L1737.2,616.2 L1737.8,647.0 L1738.3,612.5 L1738.9,626.4 L1739.4,586.3 L1740.0,649.2 L1740.5,623.3 L1741.1,664.5 L1741.6,616.1 L1742.2,656.4 L1742.7,607.7 L1743.3,662.9 L1743.8,607.8 L1744.4,651.7 L1744.9,620.7 L1745.5,653.3 L1746.0,619.1 L1746.6,652.8 L1747.1,621.6 L1747.7,667.4 L1748.2,601.9 L1748.8,647.5 L1749.3,601.1 L1749.9,653.4 L1750.4,598.3 L1751.0,646.2 L1751.5,605.8 L1752.1,669.0 L1752.6,590.0 L1753.2,646.8 L1753.7,591.7 L1754.3,644.3 L1754.8,605.6 L1755.4,648.8 L1755.9,599.2 L1756.5,643.1 L1757.0,593.2 L1757.6,637.2 L1758.1,599.4 L1758.7,652.0 L1759.2,577.0 L1759.8,645.8 L1760.3,588.9 L1760.9,666.0 L1761.4,597.5 L1762.0,656.6 L1762.5,591.3 L1763.1,655.7 L1763.6,597.0 L1764.2,653.8 L1764.7,597.4 L1765.3,659.3 L1765.8,593.1 L1766.4,652.1 L1766.9,598.4 L1767.5,652.2 L1768.0,552.8 L1768.6,645.9 L1769.1,567.1 L1769.7,649.7 L1770.2,589.9 L1770.8,650.8 L1771.3,584.0 L1771.9,643.3 L1772.4,581.5 L1773.0,644.4 L1773.5,586.5 L1774.1,657.2 L1774.6,566.1 L1775.2,642.2 L1775.7,587.7 L1776.3,680.2 L1776.8,591.0 L1777.4,648.9 L1777.9,591.6 L1778.5,670.4 L1779.0,584.2 L1779.6,663.7 L1780.1,566.4 L1780.7,659.7 L1781.2,593.8 L1781.8,662.5 L1782.3,598.2 L1782.9,650.8 L1783.4,580.0 L1784.0,696.7 L1784.5,581.1 L1785.1,655.0 L1785.6,581.5 L1786.2,661.3 L1786.7,590.3 L1787.3,657.8 L1787.8,597.3 L1788.4,655.8 L1788.9,586.9 L1789.5,652.5 L1790.0,602.3 L1790.6,654.7 L1791.1,559.5 L1791.7,667.1 L1792.2,601.3 L1792.8,662.0 L1793.3,588.8 L1793.9,668.3 L1794.4,602.0 L1795.0,665.0 L1795.5,604.8 L1796.1,674.0 L1796.6,600.8 L1797.2,673.5 L1797.7,606.1 L1798.3,675.1 L1798.8,608.3 L1799.4,670.6 L1799.9,605.2 L1800.5,665.4 L1801.0,609.2 L1801.6,672.4 L1802.1,596.2 L1802.7,682.3 L1803.2,589.1 L1803.8,685.7 L1804.3,574.7 L1804.9,668.6 L1805.4,612.2 L1806.0,668.8 L1806.5,596.8 L1807.1,669.6 L1807.6,610.7 L1808.2,668.9 L1808.7,587.2"/></g>
<g clip-path="url(#c2)" fill="none" stroke-width="4.8" stroke-linejoin="round">
<path d="M321.00,1689.19 L323.13,1689.19 L325.25,1689.19 L327.38,1689.19 L329.50,1689.19 L331.63,1689.19 L333.75,1689.19 L335.88,1689.19 L338.01,1689.19 L340.13,1689.19 L342.26,1689.19 L344.38,1689.19 L346.51,1689.19 L348.63,1689.19 L350.76,1689.19 L352.89,1689.19 L355.01,1689.19 L357.14,1689.19 L359.26,1689.19 L361.39,1689.19 L363.51,1689.19 L365.64,1689.19 L367.77,1689.19 L369.89,1689.19 L372.02,1689.19 L374.14,1689.19 L376.27,1689.19 L378.39,1689.19 L380.52,1689.19 L382.65,1689.19 L384.77,1689.19 L386.90,1689.19 L389.02,1689.19 L391.15,1689.19 L393.27,1689.19 L395.40,1689.19 L397.53,1689.19 L399.65,1689.19 L401.78,1689.19 L403.90,1689.19 L406.03,1689.19 L408.15,1689.19 L410.28,1689.19 L412.41,1689.19 L414.53,1689.19 L416.66,1689.19 L418.78,1689.19 L420.91,1689.19 L423.03,1689.19 L425.16,1689.19 L427.29,1689.19 L429.41,1689.19 L431.54,1689.19 L433.66,1689.18 L435.79,1689.18 L437.91,1689.18 L440.04,1689.18 L442.17,1689.18 L444.29,1689.18 L446.42,1689.18 L448.54,1689.18 L450.67,1689.18 L452.79,1689.18 L454.92,1689.18 L457.05,1689.18 L459.17,1689.18 L461.30,1689.18 L463.42,1689.18 L465.55,1689.18 L467.67,1689.18 L469.80,1689.18 L471.93,1689.18 L474.05,1689.18 L476.18,1689.18 L478.30,1689.18 L480.43,1689.18 L482.55,1689.18 L484.68,1689.18 L486.81,1689.18 L488.93,1689.17 L491.06,1689.17 L493.18,1689.17 L495.31,1689.17 L497.43,1689.17 L499.56,1689.17 L501.69,1689.17 L503.81,1689.17 L505.94,1689.17 L508.06,1689.17 L510.19,1689.17 L512.31,1689.17 L514.44,1689.17 L516.57,1689.16 L518.69,1689.16 L520.82,1689.16 L522.94,1689.16 L525.07,1689.16 L527.19,1689.16 L529.32,1689.16 L531.45,1689.16 L533.57,1689.15 L535.70,1689.15 L537.82,1689.15 L539.95,1689.15 L542.07,1689.15 L544.20,1689.15 L546.33,1689.14 L548.45,1689.14 L550.58,1689.14 L552.70,1689.14 L554.83,1689.13 L556.95,1689.13 L559.08,1689.13 L561.21,1689.12 L563.33,1689.12 L565.46,1689.12 L567.58,1689.11 L569.71,1689.11 L571.83,1689.10 L573.96,1689.10 L576.09,1689.09 L578.21,1689.09 L580.34,1689.08 L582.46,1689.07 L584.59,1689.06 L586.71,1689.06 L588.84,1689.05 L590.97,1689.03 L593.09,1689.02 L595.22,1689.01 L597.34,1688.99 L599.47,1688.97 L601.59,1688.95 L603.72,1688.93 L605.85,1688.90 L607.97,1688.87 L610.10,1688.83 L612.22,1688.79 L614.35,1688.73 L616.47,1688.67 L618.60,1688.59 L620.73,1688.49 L622.85,1688.36 L624.98,1688.19 L627.10,1687.96 L628.91,1687.69 L629.18,1687.64 L629.23,1687.64 L629.44,1687.60 L629.71,1687.55 L629.97,1687.49 L630.24,1687.44 L630.50,1687.38 L630.77,1687.31 L631.04,1687.25 L631.30,1687.18 L631.35,1687.16 L631.57,1687.10 L631.83,1687.03 L632.10,1686.94 L632.36,1686.86 L632.63,1686.77 L632.90,1686.67 L633.16,1686.56 L633.43,1686.45 L633.48,1686.43 L633.69,1686.33 L633.96,1686.20 L634.22,1686.07 L634.49,1685.92 L634.76,1685.76 L635.02,1685.59 L635.29,1685.41 L635.55,1685.21 L635.61,1685.17 L635.82,1684.99 L636.08,1684.76 L636.35,1684.50 L636.62,1684.22 L636.88,1683.91 L637.15,1683.57 L637.41,1683.19 L637.68,1682.78 L637.73,1682.69 L637.94,1682.31 L638.21,1681.78 L638.48,1681.19 L638.74,1680.52 L639.01,1679.75 L639.27,1678.87 L639.54,1677.85 L639.80,1676.66 L639.86,1676.39 L640.07,1675.25 L640.34,1673.56 L640.60,1671.54 L640.87,1669.06 L641.13,1665.99 L641.40,1662.14 L641.66,1657.22 L641.93,1650.84 L641.98,1649.34 L642.20,1642.46 L642.46,1631.40 L642.73,1616.91 L642.99,1598.69 L643.26,1578.11 L643.52,1559.96 L643.79,1551.79 L644.06,1557.74 L644.11,1560.37 L644.32,1573.63 L644.59,1591.81 L644.85,1607.44 L645.12,1619.07 L645.38,1626.88 L645.65,1631.50 L645.92,1633.43 L646.18,1632.98 L646.23,1632.62 L646.45,1630.23 L646.71,1624.99 L646.98,1616.85 L647.24,1605.07 L647.51,1588.52 L647.78,1565.72 L648.04,1535.06 L648.31,1495.92 L648.36,1487.24 L648.57,1451.48 L648.84,1412.72 L649.10,1396.97 L649.37,1413.69 L649.64,1453.45 L649.90,1498.94 L650.17,1539.21 L650.43,1571.12 L650.49,1576.53 L650.70,1595.35 L650.96,1613.54 L651.23,1627.28 L651.50,1637.77 L651.76,1645.91 L652.03,1652.30 L652.29,1657.40 L652.56,1661.53 L652.61,1662.26 L652.82,1664.91 L653.09,1667.70 L653.36,1670.04 L653.62,1672.02 L653.89,1673.71 L654.15,1675.15 L654.42,1676.40 L654.68,1677.49 L654.74,1677.69 L654.95,1678.45 L655.22,1679.29 L655.48,1680.03 L655.75,1680.70 L656.01,1681.29 L656.28,1681.82 L656.54,1682.30 L656.81,1682.73 L656.86,1682.81 L657.08,1683.12 L657.34,1683.48 L657.61,1683.81 L657.87,1684.11 L658.14,1684.38 L658.40,1684.63 L658.67,1684.87 L658.94,1685.08 L658.99,1685.12 L659.20,1685.28 L659.47,1685.46 L659.73,1685.64 L660.00,1685.80 L660.26,1685.94 L660.53,1686.08 L660.80,1686.21 L661.06,1686.34 L661.11,1686.36 L661.33,1686.45 L661.59,1686.56 L661.86,1686.66 L662.12,1686.75 L662.39,1686.84 L662.66,1686.93 L662.92,1687.01 L663.19,1687.09 L663.24,1687.10 L663.45,1687.16 L663.72,1687.23 L663.98,1687.29 L665.37,1687.58 L667.49,1687.91 L669.62,1688.15 L671.74,1688.32 L673.87,1688.45 L675.99,1688.55 L678.12,1688.64 L680.25,1688.70 L682.37,1688.75 L684.50,1688.80 L686.62,1688.83 L688.75,1688.86 L690.87,1688.89 L693.00,1688.91 L695.13,1688.93 L697.25,1688.95 L699.38,1688.96 L701.50,1688.97 L703.63,1688.98 L705.75,1688.99 L707.88,1688.99 L710.01,1689.00 L712.13,1689.00 L714.26,1689.00 L716.38,1689.00 L718.51,1689.00 L720.63,1689.00 L722.76,1689.00 L724.89,1688.99 L727.01,1688.98 L729.14,1688.98 L731.26,1688.97 L733.39,1688.95 L735.51,1688.94 L737.64,1688.92 L739.77,1688.90 L741.89,1688.87 L744.02,1688.84 L746.14,1688.80 L748.27,1688.74 L750.39,1688.68 L752.52,1688.60 L754.65,1688.49 L756.77,1688.34 L758.90,1688.14 L760.39,1687.96 L760.65,1687.92 L760.92,1687.87 L761.02,1687.86 L761.18,1687.83 L761.45,1687.79 L761.71,1687.74 L761.98,1687.69 L762.25,1687.63 L762.30,1687.62 L762.51,1687.58 L762.56,1687.56 L762.78,1687.52 L762.83,1687.50 L763.04,1687.45 L763.10,1687.44 L763.15,1687.43 L763.31,1687.39 L763.36,1687.37 L763.57,1687.31 L763.63,1687.30 L763.84,1687.24 L763.89,1687.22 L764.11,1687.16 L764.16,1687.14 L764.37,1687.07 L764.42,1687.05 L764.64,1686.98 L764.69,1686.96 L764.90,1686.88 L764.96,1686.86 L765.17,1686.78 L765.22,1686.76 L765.27,1686.74 L765.43,1686.67 L765.49,1686.64 L765.70,1686.55 L765.75,1686.52 L765.97,1686.42 L766.02,1686.39 L766.23,1686.28 L766.28,1686.25 L766.50,1686.13 L766.55,1686.10 L766.76,1685.97 L766.82,1685.93 L767.03,1685.79 L767.08,1685.76 L767.29,1685.60 L767.35,1685.56 L767.40,1685.52 L767.56,1685.40 L767.61,1685.35 L767.83,1685.17 L767.88,1685.12 L768.09,1684.92 L768.14,1684.87 L768.36,1684.65 L768.41,1684.60 L768.62,1684.36 L768.68,1684.29 L768.89,1684.03 L768.94,1683.96 L769.15,1683.67 L769.21,1683.59 L769.42,1683.26 L769.47,1683.18 L769.53,1683.09 L769.69,1682.81 L769.74,1682.72 L769.95,1682.31 L770.00,1682.20 L770.22,1681.74 L770.27,1681.62 L770.48,1681.10 L770.54,1680.96 L770.75,1680.37 L770.80,1680.22 L771.01,1679.54 L771.07,1679.36 L771.28,1678.58 L771.33,1678.37 L771.55,1677.47 L771.60,1677.22 L771.65,1676.97 L771.81,1676.16 L771.86,1675.88 L772.08,1674.63 L772.13,1674.29 L772.34,1672.80 L772.40,1672.39 L772.61,1670.60 L772.66,1670.10 L772.87,1667.91 L772.93,1667.30 L773.14,1664.60 L773.19,1663.84 L773.41,1660.45 L773.46,1659.50 L773.67,1655.19 L773.72,1653.98 L773.78,1652.70 L773.94,1648.46 L773.99,1646.90 L774.20,1639.83 L774.26,1637.85 L774.47,1628.97 L774.52,1626.53 L774.73,1616.02 L774.79,1613.26 L775.00,1602.16 L775.05,1599.46 L775.27,1589.35 L775.32,1587.01 L775.53,1578.09 L775.58,1575.84 L775.80,1565.75 L775.85,1562.79 L775.90,1559.59 L776.06,1548.34 L776.12,1543.98 L776.33,1523.39 L776.38,1517.50 L776.59,1492.07 L776.65,1485.57 L776.86,1461.92 L776.91,1457.20 L777.13,1446.72 L777.18,1446.62 L777.39,1456.80 L777.44,1461.70 L777.66,1487.57 L777.71,1494.98 L777.92,1525.25 L777.98,1532.59 L778.03,1539.73 L778.19,1559.68 L778.24,1565.78 L778.45,1587.35 L778.51,1592.06 L778.72,1608.46 L778.77,1612.01 L778.99,1624.34 L779.04,1627.01 L779.25,1636.32 L779.30,1638.35 L779.52,1645.45 L779.57,1647.01 L779.78,1652.51 L779.84,1653.73 L780.05,1658.05 L780.10,1659.02 L780.15,1659.93 L780.31,1662.46 L780.37,1663.23 L780.58,1666.02 L780.63,1666.64 L780.85,1668.92 L780.90,1669.44 L781.11,1671.32 L781.16,1671.75 L781.38,1673.32 L781.43,1673.68 L781.64,1675.01 L781.70,1675.31 L781.91,1676.44 L781.96,1676.70 L782.17,1677.67 L782.23,1677.89 L782.28,1678.11 L782.44,1678.73 L782.49,1678.92 L782.71,1679.65 L782.76,1679.82 L782.97,1680.45 L783.02,1680.60 L783.24,1681.16 L783.29,1681.29 L783.50,1681.78 L783.56,1681.90 L783.77,1682.34 L783.82,1682.44 L784.03,1682.83 L784.09,1682.92 L784.30,1683.27 L784.35,1683.36 L784.41,1683.44 L784.57,1683.67 L784.62,1683.74 L784.83,1684.03 L784.88,1684.10 L785.10,1684.35 L785.15,1684.41 L785.36,1684.65 L785.42,1684.70 L785.63,1684.92 L785.68,1684.97 L785.89,1685.16 L785.95,1685.21 L786.16,1685.38 L786.21,1685.43 L786.43,1685.59 L786.48,1685.63 L786.53,1685.67 L786.69,1685.78 L786.74,1685.82 L786.96,1685.95 L787.01,1685.99 L787.22,1686.12 L787.28,1686.15 L787.49,1686.26 L787.54,1686.29 L787.75,1686.40 L787.81,1686.43 L788.02,1686.53 L788.07,1686.56 L788.29,1686.65 L788.34,1686.67 L788.55,1686.76 L788.60,1686.78 L788.66,1686.81 L788.82,1686.87 L788.87,1686.89 L789.08,1686.96 L789.14,1686.98 L789.35,1687.06 L789.40,1687.07 L789.61,1687.14 L789.67,1687.16 L789.88,1687.22 L789.93,1687.24 L790.15,1687.30 L790.20,1687.31 L790.46,1687.38 L790.73,1687.45 L790.78,1687.46 L791.00,1687.51 L791.26,1687.57 L791.53,1687.63 L791.79,1687.68 L792.06,1687.73 L792.91,1687.87 L795.03,1688.14 L797.16,1688.33 L799.29,1688.47 L801.41,1688.56 L803.54,1688.63 L805.66,1688.68 L807.79,1688.70 L809.91,1688.70 L810.28,1688.70 L810.54,1688.70 L810.81,1688.70 L811.07,1688.69 L811.34,1688.69 L811.60,1688.69 L811.87,1688.68 L812.04,1688.68 L812.14,1688.68 L812.40,1688.67 L812.67,1688.66 L812.93,1688.66 L813.20,1688.65 L813.46,1688.64 L813.73,1688.63 L814.00,1688.62 L814.17,1688.61 L814.26,1688.60 L814.53,1688.59 L814.79,1688.58 L815.06,1688.56 L815.32,1688.54 L815.59,1688.52 L815.86,1688.50 L816.12,1688.47 L816.29,1688.46 L816.39,1688.45 L816.65,1688.42 L816.92,1688.38 L817.18,1688.35 L817.45,1688.31 L817.72,1688.26 L817.98,1688.21 L818.25,1688.16 L818.42,1688.12 L818.51,1688.09 L818.78,1688.02 L819.04,1687.94 L819.31,1687.85 L819.58,1687.74 L819.84,1687.62 L820.11,1687.48 L820.37,1687.31 L820.54,1687.19 L820.64,1687.12 L820.90,1686.90 L821.17,1686.63 L821.44,1686.30 L821.70,1685.91 L821.97,1685.43 L822.23,1684.83 L822.50,1684.08 L822.67,1683.50 L822.76,1683.12 L823.03,1681.88 L823.30,1680.25 L823.56,1678.08 L823.83,1675.20 L824.09,1671.38 L824.36,1666.57 L824.62,1661.13 L824.79,1657.89 L824.89,1656.39 L825.16,1654.43 L825.42,1656.39 L825.69,1661.14 L825.95,1666.58 L826.22,1671.40 L826.48,1675.21 L826.75,1678.10 L826.92,1679.56 L827.02,1680.27 L827.28,1681.91 L827.55,1683.15 L827.81,1684.11 L828.08,1684.87 L828.34,1685.47 L828.61,1685.95 L828.88,1686.35 L829.05,1686.56 L829.14,1686.67 L829.41,1686.95 L829.67,1687.18 L829.94,1687.37 L830.20,1687.54 L830.47,1687.68 L830.74,1687.81 L831.00,1687.92 L831.17,1687.98 L831.27,1688.01 L831.53,1688.10 L831.80,1688.17 L832.06,1688.24 L832.33,1688.30 L832.60,1688.35 L832.86,1688.40 L833.13,1688.45 L833.30,1688.47 L833.39,1688.49 L833.66,1688.52 L833.92,1688.56 L834.19,1688.59 L834.46,1688.62 L834.72,1688.64 L834.99,1688.67 L835.25,1688.69 L835.42,1688.70 L835.52,1688.71 L835.78,1688.73 L836.05,1688.75 L836.32,1688.76 L836.58,1688.78 L836.85,1688.79 L837.11,1688.81 L837.38,1688.82 L837.55,1688.83 L837.64,1688.83 L837.91,1688.84 L838.18,1688.85 L838.44,1688.86 L838.71,1688.87 L838.97,1688.88 L839.24,1688.89 L839.50,1688.90 L839.67,1688.90 L839.77,1688.91 L840.04,1688.91 L841.80,1688.96 L843.93,1688.99 L846.05,1689.02 L848.18,1689.04 L850.30,1689.05 L852.43,1689.07 L854.55,1689.08 L856.68,1689.09 L858.81,1689.09 L860.93,1689.10 L863.06,1689.11 L865.18,1689.11 L867.31,1689.12 L869.43,1689.12 L871.56,1689.12 L873.69,1689.13 L875.81,1689.13 L877.94,1689.13 L880.06,1689.13 L882.19,1689.14 L884.31,1689.14 L886.44,1689.14 L888.57,1689.14 L890.69,1689.14 L892.82,1689.14 L894.94,1689.14 L897.07,1689.15 L899.19,1689.15 L901.32,1689.15 L903.45,1689.15 L905.57,1689.15 L907.70,1689.15 L909.82,1689.15 L911.95,1689.15 L914.07,1689.15 L916.20,1689.15 L918.33,1689.15 L920.45,1689.15 L922.58,1689.15 L924.70,1689.15 L926.83,1689.14 L928.95,1689.14 L931.08,1689.14 L933.21,1689.14 L935.33,1689.13 L936.32,1689.13 L936.59,1689.13 L936.85,1689.13 L937.12,1689.13 L937.38,1689.13 L937.46,1689.13 L937.65,1689.13 L937.91,1689.13 L938.18,1689.12 L938.45,1689.12 L938.71,1689.12 L938.98,1689.12 L939.24,1689.12 L939.51,1689.12 L939.58,1689.12 L939.77,1689.12 L940.04,1689.11 L940.31,1689.11 L940.57,1689.11 L940.84,1689.11 L941.10,1689.11 L941.37,1689.10 L941.63,1689.10 L941.71,1689.10 L941.90,1689.10 L942.17,1689.10 L942.43,1689.09 L942.70,1689.09 L942.96,1689.09 L943.23,1689.08 L943.49,1689.08 L943.76,1689.07 L943.83,1689.07 L944.03,1689.07 L944.29,1689.06 L944.56,1689.05 L944.82,1689.05 L945.09,1689.04 L945.35,1689.03 L945.62,1689.02 L945.89,1689.00 L945.96,1689.00 L946.15,1688.99 L946.42,1688.97 L946.68,1688.95 L946.95,1688.93 L947.21,1688.90 L947.48,1688.87 L947.75,1688.83 L948.01,1688.78 L948.09,1688.76 L948.28,1688.72 L948.54,1688.64 L948.81,1688.54 L949.07,1688.41 L949.34,1688.25 L949.61,1688.02 L949.87,1687.73 L950.14,1687.34 L950.21,1687.21 L950.40,1686.85 L950.67,1686.29 L950.93,1685.81 L951.20,1685.60 L951.47,1685.80 L951.73,1686.29 L952.00,1686.84 L952.26,1687.34 L952.34,1687.46 L952.53,1687.73 L952.79,1688.02 L953.06,1688.24 L953.33,1688.41 L953.59,1688.53 L953.86,1688.63 L954.12,1688.71 L954.39,1688.77 L954.46,1688.79 L954.65,1688.82 L954.92,1688.86 L955.19,1688.89 L955.45,1688.92 L955.72,1688.94 L955.98,1688.96 L956.25,1688.98 L956.51,1688.99 L956.59,1689.00 L956.78,1689.00 L957.05,1689.02 L957.31,1689.02 L957.58,1689.03 L957.84,1689.04 L958.11,1689.05 L958.37,1689.05 L958.64,1689.06 L958.71,1689.06 L958.91,1689.06 L959.17,1689.07 L959.44,1689.07 L959.70,1689.07 L959.97,1689.08 L960.23,1689.08 L960.50,1689.08 L960.77,1689.08 L960.84,1689.08 L961.03,1689.08 L961.30,1689.09 L961.56,1689.09 L961.83,1689.09 L962.09,1689.09 L962.36,1689.09 L962.63,1689.09 L962.89,1689.09 L962.97,1689.09 L963.16,1689.09 L963.42,1689.09 L963.69,1689.09 L963.95,1689.09 L964.22,1689.10 L964.49,1689.10 L964.75,1689.10 L965.02,1689.10 L965.09,1689.10 L965.28,1689.10 L965.55,1689.10 L965.81,1689.10 L966.08,1689.10 L967.22,1689.10 L969.34,1689.09 L971.47,1689.09 L973.59,1689.08 L975.72,1689.06 L977.85,1689.05 L979.97,1689.02 L982.10,1688.99 L984.22,1688.95 L984.80,1688.93 L985.06,1688.92 L985.33,1688.92 L985.59,1688.91 L985.86,1688.90 L986.13,1688.89 L986.35,1688.88 L986.39,1688.88 L986.66,1688.87 L986.92,1688.86 L987.19,1688.84 L987.45,1688.83 L987.72,1688.82 L987.99,1688.80 L988.25,1688.78 L988.47,1688.77 L988.52,1688.77 L988.78,1688.75 L989.05,1688.73 L989.31,1688.71 L989.58,1688.69 L989.85,1688.66 L990.11,1688.63 L990.38,1688.61 L990.60,1688.58 L990.64,1688.57 L990.91,1688.54 L991.17,1688.50 L991.44,1688.46 L991.71,1688.42 L991.97,1688.37 L992.24,1688.31 L992.50,1688.25 L992.73,1688.19 L992.77,1688.18 L993.03,1688.11 L993.30,1688.02 L993.57,1687.92 L993.83,1687.82 L994.10,1687.69 L994.36,1687.55 L994.63,1687.39 L994.85,1687.23 L994.89,1687.20 L995.16,1686.97 L995.43,1686.71 L995.69,1686.40 L995.96,1686.03 L996.22,1685.58 L996.49,1685.03 L996.75,1684.34 L996.98,1683.63 L997.02,1683.48 L997.29,1682.38 L997.55,1680.96 L997.82,1679.09 L998.08,1676.61 L998.35,1673.31 L998.61,1668.95 L998.88,1663.44 L999.10,1658.21 L999.15,1657.22 L999.41,1651.79 L999.68,1649.55 L999.94,1651.79 L1000.21,1657.22 L1000.47,1663.44 L1000.74,1668.94 L1001.01,1673.30 L1001.23,1676.14 L1001.27,1676.61 L1001.54,1679.08 L1001.80,1680.95 L1002.07,1682.37 L1002.33,1683.47 L1002.60,1684.33 L1002.87,1685.02 L1003.13,1685.57 L1003.35,1685.95 L1003.40,1686.02 L1003.66,1686.39 L1003.93,1686.70 L1004.19,1686.96 L1004.46,1687.18 L1004.73,1687.37 L1004.99,1687.53 L1005.26,1687.67 L1005.48,1687.78 L1005.52,1687.79 L1005.79,1687.90 L1006.05,1688.00 L1006.32,1688.08 L1006.59,1688.16 L1006.85,1688.22 L1007.12,1688.28 L1007.38,1688.34 L1007.61,1688.38 L1007.65,1688.39 L1007.91,1688.43 L1008.18,1688.47 L1008.45,1688.51 L1008.71,1688.54 L1008.98,1688.57 L1009.24,1688.60 L1009.51,1688.62 L1009.73,1688.64 L1009.77,1688.65 L1010.04,1688.67 L1010.31,1688.69 L1010.57,1688.71 L1010.84,1688.72 L1011.10,1688.74 L1011.37,1688.75 L1011.63,1688.77 L1011.86,1688.78 L1011.90,1688.78 L1012.17,1688.79 L1012.43,1688.80 L1012.70,1688.81 L1012.96,1688.82 L1013.23,1688.83 L1013.49,1688.84 L1013.76,1688.85 L1013.98,1688.85 L1014.03,1688.86 L1014.29,1688.86 L1014.56,1688.87 L1016.11,1688.90 L1018.23,1688.92 L1020.36,1688.94 L1022.49,1688.94 L1024.61,1688.93 L1026.74,1688.92 L1028.86,1688.90 L1030.99,1688.87 L1033.11,1688.83 L1035.24,1688.77 L1037.37,1688.70 L1039.49,1688.60 L1041.62,1688.45 L1043.47,1688.26 L1043.73,1688.23 L1043.74,1688.23 L1044.00,1688.20 L1044.26,1688.16 L1044.53,1688.12 L1044.80,1688.08 L1045.06,1688.04 L1045.33,1688.00 L1045.59,1687.95 L1045.86,1687.90 L1045.87,1687.89 L1046.12,1687.84 L1046.39,1687.78 L1046.66,1687.72 L1046.92,1687.65 L1047.19,1687.58 L1047.45,1687.50 L1047.72,1687.42 L1047.98,1687.33 L1047.99,1687.33 L1048.25,1687.24 L1048.52,1687.13 L1048.78,1687.02 L1049.05,1686.90 L1049.31,1686.76 L1049.58,1686.62 L1049.84,1686.46 L1050.11,1686.29 L1050.12,1686.28 L1050.38,1686.10 L1050.64,1685.88 L1050.91,1685.65 L1051.17,1685.39 L1051.44,1685.10 L1051.70,1684.78 L1051.97,1684.42 L1052.24,1684.01 L1052.25,1683.99 L1052.50,1683.55 L1052.77,1683.02 L1053.03,1682.42 L1053.30,1681.72 L1053.56,1680.91 L1053.83,1679.97 L1054.10,1678.85 L1054.36,1677.53 L1054.37,1677.47 L1054.63,1675.94 L1054.89,1674.02 L1055.16,1671.66 L1055.42,1668.74 L1055.69,1665.06 L1055.96,1660.37 L1056.22,1654.30 L1056.49,1646.34 L1056.50,1645.97 L1056.75,1635.76 L1057.02,1621.66 L1057.28,1603.05 L1057.55,1579.54 L1057.82,1552.99 L1058.08,1529.84 L1058.35,1520.27 L1058.61,1529.84 L1058.62,1530.58 L1058.88,1552.99 L1059.14,1579.54 L1059.41,1603.05 L1059.68,1621.66 L1059.94,1635.76 L1060.21,1646.34 L1060.47,1654.30 L1060.74,1660.37 L1060.75,1660.59 L1061.00,1665.06 L1061.27,1668.74 L1061.54,1671.67 L1061.80,1674.02 L1062.07,1675.95 L1062.33,1677.53 L1062.60,1678.85 L1062.86,1679.97 L1062.87,1680.01 L1063.13,1680.91 L1063.40,1681.72 L1063.66,1682.42 L1063.93,1683.02 L1064.19,1683.55 L1064.46,1684.01 L1064.72,1684.42 L1064.99,1684.79 L1065.00,1684.80 L1065.26,1685.11 L1065.52,1685.40 L1065.79,1685.66 L1066.05,1685.89 L1066.32,1686.10 L1066.58,1686.29 L1066.85,1686.47 L1067.12,1686.62 L1067.13,1686.63 L1067.38,1686.77 L1067.65,1686.90 L1067.91,1687.03 L1068.18,1687.14 L1068.44,1687.24 L1068.71,1687.34 L1068.98,1687.43 L1069.24,1687.51 L1069.25,1687.51 L1069.51,1687.59 L1069.77,1687.66 L1070.04,1687.73 L1070.30,1687.79 L1070.57,1687.85 L1070.84,1687.90 L1071.10,1687.96 L1071.37,1688.00 L1071.38,1688.01 L1071.63,1688.05 L1071.90,1688.09 L1072.16,1688.13 L1072.43,1688.17 L1072.70,1688.21 L1072.96,1688.24 L1073.23,1688.27 L1073.50,1688.31 L1075.63,1688.50 L1077.75,1688.64 L1079.88,1688.74 L1082.01,1688.81 L1084.13,1688.86 L1086.26,1688.90 L1088.38,1688.94 L1090.51,1688.96 L1092.63,1688.98 L1094.76,1688.99 L1096.89,1689.00 L1099.01,1689.00 L1100.39,1689.00 L1100.66,1689.00 L1100.92,1689.00 L1101.14,1689.00 L1101.19,1689.00 L1101.46,1688.99 L1101.72,1688.99 L1101.99,1688.99 L1102.25,1688.99 L1102.52,1688.99 L1102.78,1688.98 L1103.05,1688.98 L1103.26,1688.98 L1103.32,1688.98 L1103.58,1688.97 L1103.85,1688.97 L1104.11,1688.97 L1104.38,1688.96 L1104.64,1688.96 L1104.91,1688.95 L1105.18,1688.95 L1105.39,1688.94 L1105.44,1688.94 L1105.71,1688.93 L1105.97,1688.92 L1106.24,1688.92 L1106.50,1688.91 L1106.77,1688.90 L1107.04,1688.88 L1107.30,1688.87 L1107.51,1688.86 L1107.57,1688.86 L1107.83,1688.84 L1108.10,1688.82 L1108.36,1688.80 L1108.63,1688.78 L1108.90,1688.75 L1109.16,1688.73 L1109.43,1688.69 L1109.64,1688.66 L1109.69,1688.66 L1109.96,1688.61 L1110.22,1688.56 L1110.49,1688.50 L1110.76,1688.44 L1111.02,1688.36 L1111.29,1688.26 L1111.55,1688.15 L1111.77,1688.04 L1111.82,1688.01 L1112.08,1687.84 L1112.35,1687.63 L1112.62,1687.36 L1112.88,1687.02 L1113.15,1686.59 L1113.41,1686.01 L1113.68,1685.25 L1113.89,1684.45 L1113.94,1684.23 L1114.21,1682.88 L1114.48,1681.18 L1114.74,1679.26 L1115.01,1677.59 L1115.27,1676.89 L1115.54,1677.59 L1115.80,1679.26 L1116.02,1680.81 L1116.07,1681.18 L1116.34,1682.88 L1116.60,1684.23 L1116.87,1685.25 L1117.13,1686.02 L1117.40,1686.59 L1117.66,1687.03 L1117.93,1687.37 L1118.14,1687.59 L1118.20,1687.64 L1118.46,1687.85 L1118.73,1688.02 L1118.99,1688.16 L1119.26,1688.28 L1119.52,1688.37 L1119.79,1688.46 L1120.06,1688.52 L1120.27,1688.57 L1120.32,1688.58 L1120.59,1688.63 L1120.85,1688.68 L1121.12,1688.72 L1121.38,1688.75 L1121.65,1688.78 L1121.92,1688.81 L1122.18,1688.83 L1122.39,1688.85 L1122.45,1688.85 L1122.71,1688.87 L1122.98,1688.89 L1123.24,1688.90 L1123.51,1688.92 L1123.78,1688.93 L1124.04,1688.94 L1124.31,1688.95 L1124.52,1688.96 L1124.57,1688.96 L1124.84,1688.97 L1125.10,1688.98 L1125.37,1688.99 L1125.64,1689.00 L1125.90,1689.00 L1126.17,1689.01 L1126.43,1689.01 L1126.65,1689.02 L1126.70,1689.02 L1126.96,1689.02 L1127.23,1689.03 L1127.50,1689.03 L1127.76,1689.04 L1128.03,1689.04 L1128.29,1689.05 L1128.56,1689.05 L1128.77,1689.05 L1128.82,1689.05 L1129.09,1689.06 L1129.36,1689.06 L1129.62,1689.06 L1129.89,1689.06 L1130.15,1689.07 L1130.90,1689.07 L1133.02,1689.09 L1135.15,1689.10 L1137.27,1689.10 L1139.40,1689.11 L1141.53,1689.11 L1143.65,1689.12 L1145.78,1689.12 L1147.90,1689.12 L1150.03,1689.12 L1152.15,1689.12 L1154.28,1689.12 L1156.41,1689.12 L1158.53,1689.11 L1160.66,1689.11 L1162.78,1689.11 L1164.91,1689.10 L1167.03,1689.09 L1169.16,1689.08 L1171.29,1689.07 L1173.41,1689.05 L1175.54,1689.03 L1177.60,1689.00 L1177.66,1689.00 L1177.86,1688.99 L1178.13,1688.99 L1178.40,1688.98 L1178.66,1688.97 L1178.93,1688.97 L1179.19,1688.96 L1179.46,1688.95 L1179.72,1688.95 L1179.79,1688.94 L1179.99,1688.94 L1180.26,1688.93 L1180.52,1688.92 L1180.79,1688.91 L1181.05,1688.90 L1181.32,1688.89 L1181.58,1688.88 L1181.85,1688.86 L1181.91,1688.86 L1182.12,1688.85 L1182.38,1688.84 L1182.65,1688.82 L1182.91,1688.80 L1183.18,1688.78 L1183.44,1688.76 L1183.71,1688.74 L1183.98,1688.72 L1184.04,1688.71 L1184.24,1688.69 L1184.51,1688.66 L1184.77,1688.63 L1185.04,1688.60 L1185.30,1688.56 L1185.57,1688.51 L1185.84,1688.47 L1186.10,1688.41 L1186.17,1688.40 L1186.37,1688.35 L1186.63,1688.28 L1186.90,1688.20 L1187.16,1688.11 L1187.43,1688.01 L1187.70,1687.89 L1187.96,1687.75 L1188.23,1687.59 L1188.29,1687.54 L1188.49,1687.39 L1188.76,1687.16 L1189.02,1686.88 L1189.29,1686.53 L1189.56,1686.10 L1189.82,1685.56 L1190.09,1684.88 L1190.35,1683.99 L1190.42,1683.74 L1190.62,1682.82 L1190.88,1681.27 L1191.15,1679.21 L1191.42,1676.49 L1191.68,1673.05 L1191.95,1669.17 L1192.21,1665.78 L1192.48,1664.38 L1192.54,1664.47 L1192.74,1665.78 L1193.01,1669.16 L1193.28,1673.04 L1193.54,1676.47 L1193.81,1679.19 L1194.07,1681.25 L1194.34,1682.79 L1194.60,1683.95 L1194.67,1684.19 L1194.87,1684.84 L1195.14,1685.52 L1195.40,1686.06 L1195.67,1686.48 L1195.93,1686.82 L1196.20,1687.10 L1196.46,1687.33 L1196.73,1687.52 L1196.79,1687.56 L1197.00,1687.68 L1197.26,1687.81 L1197.53,1687.92 L1197.79,1688.02 L1198.06,1688.11 L1198.32,1688.18 L1198.59,1688.24 L1198.86,1688.30 L1198.92,1688.31 L1199.12,1688.34 L1199.39,1688.39 L1199.65,1688.42 L1199.92,1688.45 L1200.18,1688.48 L1200.45,1688.51 L1200.72,1688.53 L1200.98,1688.55 L1201.05,1688.55 L1201.25,1688.56 L1201.51,1688.58 L1201.78,1688.59 L1202.04,1688.60 L1202.31,1688.60 L1202.58,1688.61 L1202.84,1688.61 L1202.96,1688.61 L1203.11,1688.62 L1203.17,1688.62 L1203.22,1688.62 L1203.37,1688.62 L1203.49,1688.62 L1203.64,1688.62 L1203.76,1688.62 L1203.90,1688.61 L1204.02,1688.61 L1204.17,1688.61 L1204.29,1688.61 L1204.44,1688.61 L1204.55,1688.60 L1204.70,1688.60 L1204.82,1688.60 L1204.97,1688.59 L1205.08,1688.59 L1205.23,1688.58 L1205.30,1688.58 L1205.35,1688.58 L1205.50,1688.57 L1205.62,1688.57 L1205.76,1688.56 L1205.88,1688.55 L1206.03,1688.55 L1206.15,1688.54 L1206.30,1688.53 L1206.41,1688.52 L1206.56,1688.51 L1206.68,1688.50 L1206.83,1688.49 L1206.94,1688.48 L1207.09,1688.47 L1207.21,1688.46 L1207.36,1688.45 L1207.42,1688.44 L1207.48,1688.44 L1207.74,1688.41 L1208.01,1688.38 L1208.27,1688.34 L1208.54,1688.31 L1208.80,1688.27 L1209.07,1688.22 L1209.34,1688.17 L1209.55,1688.13 L1209.60,1688.12 L1209.87,1688.06 L1210.13,1687.99 L1210.40,1687.91 L1210.66,1687.83 L1210.93,1687.74 L1211.20,1687.63 L1211.46,1687.51 L1211.67,1687.41 L1211.73,1687.38 L1211.99,1687.23 L1212.26,1687.05 L1212.52,1686.85 L1212.79,1686.62 L1213.06,1686.36 L1213.32,1686.04 L1213.59,1685.67 L1213.80,1685.33 L1213.85,1685.24 L1214.12,1684.71 L1214.38,1684.07 L1214.65,1683.29 L1214.92,1682.31 L1215.18,1681.09 L1215.45,1679.53 L1215.71,1677.51 L1215.93,1675.45 L1215.98,1674.86 L1216.24,1671.33 L1216.51,1666.64 L1216.78,1660.44 L1217.04,1652.61 L1217.31,1643.77 L1217.57,1636.06 L1217.84,1632.87 L1218.05,1634.96 L1218.10,1636.06 L1218.37,1643.77 L1218.64,1652.62 L1218.90,1660.45 L1219.17,1666.65 L1219.43,1671.35 L1219.70,1674.87 L1219.96,1677.52 L1220.18,1679.18 L1220.23,1679.55 L1220.50,1681.11 L1220.76,1682.33 L1221.03,1683.31 L1221.29,1684.09 L1221.56,1684.74 L1221.82,1685.26 L1222.09,1685.71 L1222.30,1686.01 L1222.36,1686.08 L1222.62,1686.39 L1222.89,1686.66 L1223.15,1686.90 L1223.42,1687.10 L1223.68,1687.27 L1223.95,1687.43 L1224.22,1687.56 L1224.43,1687.66 L1224.48,1687.69 L1224.75,1687.79 L1225.01,1687.89 L1225.28,1687.98 L1225.54,1688.06 L1225.81,1688.13 L1226.08,1688.19 L1226.34,1688.25 L1226.55,1688.29 L1226.61,1688.30 L1226.87,1688.35 L1227.14,1688.40 L1227.40,1688.44 L1227.67,1688.47 L1227.94,1688.51 L1228.20,1688.54 L1228.47,1688.57 L1228.68,1688.59 L1228.73,1688.60 L1229.00,1688.63 L1229.26,1688.65 L1229.53,1688.67 L1229.80,1688.69 L1230.06,1688.71 L1230.33,1688.73 L1230.59,1688.75 L1230.81,1688.76 L1230.86,1688.77 L1231.12,1688.78 L1231.39,1688.80 L1231.66,1688.81 L1231.92,1688.82 L1232.19,1688.84 L1232.45,1688.85 L1232.72,1688.86 L1232.93,1688.87 L1235.06,1688.94 L1237.18,1688.98 L1239.31,1689.02 L1241.43,1689.04 L1243.56,1689.06 L1245.69,1689.08 L1247.81,1689.09 L1249.94,1689.10 L1252.06,1689.11 L1254.19,1689.11 L1256.31,1689.12 L1258.44,1689.12 L1260.57,1689.12 L1262.69,1689.13 L1264.82,1689.13 L1266.94,1689.13 L1269.07,1689.13 L1269.83,1689.13 L1270.10,1689.13 L1270.37,1689.13 L1270.63,1689.13 L1270.90,1689.13 L1271.16,1689.13 L1271.19,1689.13 L1271.43,1689.12 L1271.69,1689.12 L1271.96,1689.12 L1272.23,1689.12 L1272.49,1689.12 L1272.76,1689.12 L1273.02,1689.12 L1273.29,1689.12 L1273.32,1689.12 L1273.55,1689.12 L1273.82,1689.12 L1274.09,1689.12 L1274.35,1689.11 L1274.62,1689.11 L1274.88,1689.11 L1275.15,1689.11 L1275.41,1689.11 L1275.45,1689.11 L1275.68,1689.11 L1275.95,1689.10 L1276.21,1689.10 L1276.48,1689.10 L1276.74,1689.10 L1277.01,1689.09 L1277.27,1689.09 L1277.54,1689.08 L1277.57,1689.08 L1277.81,1689.08 L1278.07,1689.07 L1278.34,1689.07 L1278.60,1689.06 L1278.87,1689.05 L1279.13,1689.05 L1279.40,1689.04 L1279.67,1689.02 L1279.70,1689.02 L1279.93,1689.01 L1280.20,1689.00 L1280.46,1688.98 L1280.73,1688.96 L1280.99,1688.93 L1281.26,1688.90 L1281.53,1688.86 L1281.79,1688.81 L1281.82,1688.80 L1282.06,1688.75 L1282.32,1688.67 L1282.59,1688.57 L1282.85,1688.44 L1283.12,1688.27 L1283.39,1688.03 L1283.65,1687.73 L1283.92,1687.34 L1283.95,1687.29 L1284.18,1686.90 L1284.45,1686.52 L1284.71,1686.36 L1284.98,1686.52 L1285.25,1686.90 L1285.51,1687.34 L1285.78,1687.73 L1286.04,1688.03 L1286.07,1688.07 L1286.31,1688.27 L1286.57,1688.44 L1286.84,1688.57 L1287.11,1688.67 L1287.37,1688.75 L1287.64,1688.81 L1287.90,1688.86 L1288.17,1688.90 L1288.20,1688.90 L1288.43,1688.93 L1288.70,1688.96 L1288.97,1688.98 L1289.23,1689.00 L1289.50,1689.01 L1289.76,1689.03 L1290.03,1689.04 L1290.29,1689.05 L1290.33,1689.05 L1290.56,1689.06 L1290.83,1689.06 L1291.09,1689.07 L1291.36,1689.08 L1291.62,1689.08 L1291.89,1689.09 L1292.15,1689.09 L1292.42,1689.10 L1292.45,1689.10 L1292.69,1689.10 L1292.95,1689.10 L1293.22,1689.11 L1293.48,1689.11 L1293.75,1689.11 L1294.01,1689.11 L1294.28,1689.11 L1294.55,1689.12 L1294.58,1689.12 L1294.81,1689.12 L1295.08,1689.12 L1295.34,1689.12 L1295.61,1689.12 L1295.87,1689.12 L1296.14,1689.13 L1296.41,1689.13 L1296.67,1689.13 L1296.70,1689.13 L1296.94,1689.13 L1297.20,1689.13 L1297.47,1689.13 L1297.73,1689.13 L1298.00,1689.13 L1298.27,1689.13 L1298.53,1689.13 L1298.80,1689.13 L1298.83,1689.13 L1299.06,1689.13 L1299.33,1689.13 L1299.59,1689.13 L1300.95,1689.14 L1303.08,1689.14 L1305.21,1689.14 L1307.33,1689.14 L1309.46,1689.14 L1311.58,1689.14 L1313.71,1689.14 L1315.83,1689.14 L1317.96,1689.14 L1320.09,1689.14 L1322.21,1689.14 L1324.34,1689.14 L1326.46,1689.14 L1328.59,1689.13 L1330.71,1689.13 L1332.84,1689.13 L1334.97,1689.13 L1337.09,1689.12 L1339.22,1689.12 L1341.34,1689.12 L1343.47,1689.11 L1345.59,1689.11 L1347.72,1689.11 L1349.85,1689.10 L1351.97,1689.10 L1354.10,1689.09 L1356.22,1689.09 L1358.35,1689.08 L1360.47,1689.07 L1362.60,1689.06 L1364.73,1689.05 L1366.85,1689.04 L1368.98,1689.03 L1371.10,1689.02 L1373.23,1689.00 L1375.35,1688.98 L1377.48,1688.96 L1379.61,1688.94 L1381.73,1688.91 L1383.86,1688.87 L1385.98,1688.83 L1388.11,1688.78 L1390.23,1688.71 L1392.36,1688.63 L1393.39,1688.58 L1393.66,1688.57 L1393.92,1688.56 L1394.19,1688.54 L1394.45,1688.53 L1394.49,1688.53 L1394.72,1688.51 L1394.99,1688.50 L1395.25,1688.48 L1395.52,1688.46 L1395.78,1688.45 L1396.05,1688.43 L1396.31,1688.41 L1396.58,1688.39 L1396.61,1688.39 L1396.85,1688.37 L1397.11,1688.35 L1397.38,1688.33 L1397.64,1688.30 L1397.91,1688.28 L1398.17,1688.25 L1398.44,1688.23 L1398.71,1688.20 L1398.74,1688.19 L1398.97,1688.17 L1399.24,1688.14 L1399.50,1688.11 L1399.77,1688.07 L1400.03,1688.04 L1400.30,1688.00 L1400.57,1687.96 L1400.83,1687.92 L1400.86,1687.91 L1401.10,1687.87 L1401.36,1687.82 L1401.63,1687.77 L1401.89,1687.72 L1402.16,1687.66 L1402.43,1687.60 L1402.69,1687.53 L1402.96,1687.46 L1402.99,1687.45 L1403.22,1687.38 L1403.33,1687.34 L1403.49,1687.29 L1403.59,1687.25 L1403.75,1687.19 L1403.86,1687.15 L1404.02,1687.09 L1404.13,1687.04 L1404.29,1686.97 L1404.39,1686.92 L1404.55,1686.83 L1404.66,1686.78 L1404.82,1686.68 L1404.92,1686.62 L1405.08,1686.51 L1405.11,1686.48 L1405.19,1686.43 L1405.35,1686.30 L1405.45,1686.21 L1405.61,1686.06 L1405.72,1685.95 L1405.88,1685.77 L1405.99,1685.64 L1406.15,1685.42 L1406.25,1685.25 L1406.41,1684.98 L1406.52,1684.77 L1406.68,1684.42 L1406.78,1684.15 L1406.94,1683.70 L1407.05,1683.35 L1407.21,1682.77 L1407.24,1682.65 L1407.31,1682.34 L1407.47,1681.63 L1407.58,1681.13 L1407.74,1680.35 L1407.85,1679.85 L1408.01,1679.20 L1408.11,1678.88 L1408.27,1678.63 L1408.38,1678.63 L1408.54,1678.86 L1408.64,1679.14 L1408.80,1679.66 L1408.91,1680.04 L1409.07,1680.59 L1409.17,1680.93 L1409.33,1681.38 L1409.37,1681.46 L1409.44,1681.63 L1409.60,1681.93 L1409.71,1682.09 L1409.87,1682.26 L1409.97,1682.34 L1410.13,1682.42 L1410.24,1682.44 L1410.40,1682.43 L1410.50,1682.40 L1410.66,1682.33 L1410.77,1682.26 L1410.93,1682.13 L1411.03,1682.02 L1411.19,1681.84 L1411.30,1681.70 L1411.46,1681.47 L1411.49,1681.42 L1411.57,1681.29 L1411.73,1681.01 L1411.83,1680.80 L1411.99,1680.46 L1412.10,1680.22 L1412.26,1679.82 L1412.36,1679.53 L1412.52,1679.07 L1412.63,1678.73 L1412.79,1678.19 L1412.89,1677.80 L1413.05,1677.17 L1413.16,1676.72 L1413.32,1675.98 L1413.43,1675.45 L1413.59,1674.58 L1413.62,1674.40 L1413.69,1673.95 L1413.85,1672.93 L1413.96,1672.18 L1414.12,1670.96 L1414.22,1670.07 L1414.38,1668.61 L1414.49,1667.54 L1414.65,1665.76 L1414.75,1664.46 L1414.91,1662.29 L1415.02,1660.68 L1415.18,1657.99 L1415.29,1655.98 L1415.45,1652.61 L1415.55,1650.08 L1415.71,1645.79 L1415.74,1644.85 L1415.82,1642.54 L1415.98,1637.00 L1416.08,1632.79 L1416.24,1625.54 L1416.35,1619.99 L1416.51,1610.38 L1416.61,1602.98 L1416.77,1590.16 L1416.88,1580.31 L1417.04,1563.31 L1417.15,1550.38 L1417.31,1528.59 L1417.41,1512.59 L1417.57,1487.10 L1417.68,1469.91 L1417.84,1445.90 L1417.87,1441.63 L1417.94,1432.68 L1418.10,1419.88 L1418.21,1417.29 L1418.37,1423.04 L1418.47,1432.68 L1418.63,1453.48 L1418.74,1469.89 L1418.90,1495.71 L1419.01,1512.57 L1419.17,1536.14 L1419.27,1550.36 L1419.43,1569.25 L1419.54,1580.27 L1419.70,1594.65 L1419.80,1602.94 L1419.96,1613.72 L1419.99,1615.66 L1420.07,1619.94 L1420.23,1628.04 L1420.33,1632.74 L1420.48,1638.51 L1420.49,1638.89 L1420.60,1642.49 L1420.75,1646.93 L1420.76,1647.23 L1420.87,1650.02 L1421.01,1653.49 L1421.03,1653.72 L1421.13,1655.92 L1421.28,1658.67 L1421.29,1658.85 L1421.40,1660.61 L1421.55,1662.82 L1421.56,1662.97 L1421.66,1664.38 L1421.81,1666.18 L1421.82,1666.30 L1421.93,1667.46 L1422.08,1668.94 L1422.09,1669.04 L1422.12,1669.33 L1422.19,1670.00 L1422.34,1671.22 L1422.35,1671.31 L1422.46,1672.11 L1422.61,1673.14 L1422.62,1673.21 L1422.73,1673.88 L1422.87,1674.75 L1422.89,1674.81 L1422.99,1675.38 L1423.14,1676.12 L1423.15,1676.17 L1423.26,1676.66 L1423.41,1677.29 L1423.52,1677.76 L1423.67,1678.30 L1423.79,1678.71 L1423.94,1679.18 L1424.05,1679.53 L1424.20,1679.94 L1424.25,1680.05 L1424.32,1680.25 L1424.47,1680.61 L1424.59,1680.87 L1424.73,1681.19 L1424.85,1681.42 L1425.00,1681.70 L1425.12,1681.91 L1425.27,1682.15 L1425.38,1682.34 L1425.53,1682.55 L1425.65,1682.71 L1425.80,1682.90 L1425.91,1683.04 L1426.06,1683.21 L1426.18,1683.33 L1426.33,1683.48 L1426.37,1683.52 L1426.45,1683.59 L1426.59,1683.72 L1426.71,1683.81 L1426.86,1683.92 L1426.98,1684.01 L1427.13,1684.10 L1427.24,1684.17 L1427.39,1684.25 L1427.51,1684.31 L1427.66,1684.38 L1427.77,1684.42 L1427.92,1684.48 L1428.04,1684.51 L1428.19,1684.55 L1428.31,1684.58 L1428.45,1684.60 L1428.50,1684.61 L1428.57,1684.62 L1428.72,1684.63 L1428.84,1684.63 L1428.99,1684.63 L1429.10,1684.62 L1429.25,1684.60 L1429.37,1684.58 L1429.52,1684.54 L1429.63,1684.51 L1429.78,1684.45 L1429.90,1684.40 L1430.05,1684.33 L1430.17,1684.26 L1430.31,1684.16 L1430.43,1684.07 L1430.58,1683.94 L1430.62,1683.90 L1430.70,1683.83 L1430.85,1683.67 L1430.96,1683.52 L1431.11,1683.32 L1431.23,1683.14 L1431.38,1682.89 L1431.49,1682.67 L1431.64,1682.36 L1431.76,1682.08 L1431.91,1681.69 L1432.03,1681.35 L1432.17,1680.86 L1432.29,1680.42 L1432.44,1679.80 L1432.56,1679.25 L1432.71,1678.45 L1432.75,1678.21 L1432.82,1677.75 L1432.97,1676.72 L1433.09,1675.80 L1433.24,1674.45 L1433.50,1671.46 L1433.77,1667.47 L1434.03,1662.14 L1434.30,1655.08 L1434.57,1646.15 L1434.83,1636.05 L1434.87,1634.47 L1435.10,1627.26 L1435.36,1623.64 L1435.63,1627.32 L1435.89,1636.19 L1436.16,1646.35 L1436.43,1655.35 L1436.69,1662.47 L1436.96,1667.88 L1437.00,1668.61 L1437.22,1671.94 L1437.49,1675.01 L1437.75,1677.34 L1438.02,1679.16 L1438.29,1680.58 L1438.55,1681.72 L1438.82,1682.64 L1439.08,1683.39 L1439.13,1683.50 L1439.35,1684.01 L1439.61,1684.53 L1439.88,1684.98 L1440.15,1685.35 L1440.41,1685.68 L1440.68,1685.96 L1440.94,1686.20 L1441.21,1686.42 L1441.25,1686.45 L1441.47,1686.61 L1441.74,1686.78 L1442.01,1686.93 L1442.27,1687.07 L1442.54,1687.19 L1442.80,1687.30 L1443.07,1687.40 L1443.33,1687.49 L1443.38,1687.50 L1443.60,1687.57 L1443.87,1687.65 L1444.13,1687.72 L1444.40,1687.78 L1444.66,1687.84 L1444.93,1687.90 L1445.19,1687.95 L1445.46,1688.00 L1445.50,1688.01 L1445.73,1688.05 L1445.99,1688.09 L1446.26,1688.13 L1446.52,1688.16 L1446.79,1688.20 L1447.05,1688.23 L1447.32,1688.26 L1447.59,1688.29 L1447.63,1688.30 L1447.85,1688.32 L1448.12,1688.34 L1448.38,1688.37 L1448.65,1688.39 L1448.91,1688.41 L1449.18,1688.44 L1449.45,1688.46 L1449.71,1688.48 L1449.75,1688.48 L1449.98,1688.49 L1450.24,1688.51 L1451.88,1688.60 L1454.01,1688.69 L1456.13,1688.76 L1458.26,1688.81 L1460.38,1688.85 L1462.51,1688.89 L1464.63,1688.91 L1466.76,1688.94 L1468.89,1688.95 L1471.01,1688.97 L1473.14,1688.98 L1475.26,1688.99 L1477.39,1688.99 L1479.51,1689.00 L1481.64,1689.00 L1483.77,1689.00 L1485.89,1689.00 L1488.02,1688.99 L1490.14,1688.98 L1492.27,1688.97 L1494.39,1688.96 L1496.52,1688.94 L1498.65,1688.91 L1500.77,1688.87 L1502.90,1688.82 L1505.02,1688.76 L1507.15,1688.66 L1509.27,1688.52 L1509.45,1688.51 L1509.72,1688.48 L1509.99,1688.46 L1510.25,1688.43 L1510.52,1688.41 L1510.78,1688.38 L1511.05,1688.35 L1511.31,1688.31 L1511.40,1688.30 L1511.58,1688.28 L1511.85,1688.24 L1512.11,1688.21 L1512.38,1688.16 L1512.64,1688.12 L1512.91,1688.07 L1513.17,1688.02 L1513.44,1687.97 L1513.53,1687.95 L1513.71,1687.91 L1513.97,1687.85 L1514.24,1687.78 L1514.50,1687.70 L1514.77,1687.62 L1515.03,1687.54 L1515.30,1687.44 L1515.57,1687.34 L1515.65,1687.30 L1515.83,1687.23 L1516.10,1687.10 L1516.36,1686.97 L1516.63,1686.82 L1516.89,1686.65 L1517.16,1686.47 L1517.43,1686.26 L1517.69,1686.04 L1517.78,1685.96 L1517.96,1685.78 L1518.22,1685.49 L1518.49,1685.16 L1518.75,1684.79 L1519.02,1684.36 L1519.29,1683.86 L1519.55,1683.29 L1519.82,1682.62 L1519.90,1682.38 L1520.08,1681.83 L1520.35,1680.89 L1520.61,1679.76 L1520.88,1678.40 L1521.15,1676.73 L1521.41,1674.65 L1521.68,1672.04 L1521.94,1668.71 L1522.03,1667.45 L1522.21,1664.40 L1522.47,1658.75 L1522.74,1651.24 L1523.01,1641.23 L1523.27,1628.02 L1523.54,1611.33 L1523.80,1592.48 L1524.07,1576.05 L1524.15,1572.50 L1524.33,1569.26 L1524.60,1576.05 L1524.87,1592.49 L1525.13,1611.33 L1525.40,1628.02 L1525.66,1641.23 L1525.93,1651.24 L1526.19,1658.75 L1526.28,1660.73 L1526.46,1664.40 L1526.73,1668.71 L1526.99,1672.04 L1527.26,1674.65 L1527.52,1676.73 L1527.79,1678.40 L1528.05,1679.77 L1528.32,1680.89 L1528.41,1681.21 L1528.59,1681.83 L1528.85,1682.62 L1529.12,1683.30 L1529.38,1683.87 L1529.65,1684.36 L1529.91,1684.79 L1530.18,1685.17 L1530.45,1685.50 L1530.53,1685.59 L1530.71,1685.79 L1530.98,1686.04 L1531.24,1686.27 L1531.51,1686.48 L1531.77,1686.66 L1532.04,1686.83 L1532.31,1686.98 L1532.57,1687.11 L1532.66,1687.16 L1532.84,1687.24 L1533.10,1687.35 L1533.37,1687.45 L1533.63,1687.55 L1533.90,1687.64 L1534.17,1687.72 L1534.43,1687.79 L1534.70,1687.86 L1534.78,1687.88 L1534.96,1687.92 L1535.23,1687.98 L1535.49,1688.04 L1535.76,1688.09 L1536.03,1688.14 L1536.29,1688.18 L1536.56,1688.22 L1536.82,1688.26 L1536.91,1688.27 L1537.09,1688.30 L1537.35,1688.33 L1537.62,1688.36 L1537.89,1688.40 L1538.15,1688.42 L1538.42,1688.45 L1538.68,1688.48 L1538.95,1688.50 L1539.03,1688.51 L1539.21,1688.53 L1541.16,1688.66 L1543.29,1688.77 L1545.41,1688.84 L1547.54,1688.90 L1549.66,1688.94 L1551.79,1688.97 L1553.91,1689.00 L1556.04,1689.02 L1558.17,1689.04 L1560.29,1689.05 L1562.42,1689.06 L1564.54,1689.07 L1566.67,1689.08 L1568.79,1689.09 L1570.92,1689.09 L1573.05,1689.10 L1575.17,1689.10 L1577.30,1689.10 L1579.42,1689.10 L1581.55,1689.10 L1583.67,1689.10 L1585.80,1689.10 L1587.93,1689.10 L1590.05,1689.10 L1592.18,1689.10 L1594.30,1689.09 L1596.43,1689.08 L1598.55,1689.07 L1600.68,1689.06 L1602.81,1689.04 L1604.93,1689.01 L1605.66,1689.00 L1605.93,1688.99 L1606.20,1688.99 L1606.46,1688.98 L1606.73,1688.98 L1606.99,1688.97 L1607.06,1688.97 L1607.26,1688.97 L1607.52,1688.96 L1607.79,1688.95 L1608.06,1688.95 L1608.32,1688.94 L1608.59,1688.93 L1608.85,1688.92 L1609.12,1688.91 L1609.18,1688.91 L1609.38,1688.90 L1609.65,1688.89 L1609.92,1688.88 L1610.18,1688.87 L1610.45,1688.86 L1610.71,1688.84 L1610.98,1688.83 L1611.24,1688.82 L1611.31,1688.81 L1611.51,1688.80 L1611.78,1688.78 L1612.04,1688.76 L1612.31,1688.74 L1612.57,1688.72 L1612.84,1688.69 L1613.10,1688.66 L1613.37,1688.63 L1613.43,1688.63 L1613.64,1688.60 L1613.90,1688.56 L1614.17,1688.52 L1614.43,1688.48 L1614.70,1688.43 L1614.96,1688.37 L1615.23,1688.30 L1615.50,1688.23 L1615.56,1688.21 L1615.60,1688.19 L1615.76,1688.14 L1615.87,1688.10 L1616.03,1688.04 L1616.13,1688.00 L1616.29,1687.92 L1616.40,1687.87 L1616.56,1687.78 L1616.67,1687.72 L1616.82,1687.62 L1616.93,1687.54 L1617.09,1687.42 L1617.20,1687.33 L1617.36,1687.18 L1617.46,1687.07 L1617.62,1686.88 L1617.69,1686.80 L1617.73,1686.75 L1617.89,1686.51 L1617.99,1686.34 L1618.15,1686.04 L1618.26,1685.82 L1618.42,1685.43 L1618.53,1685.14 L1618.68,1684.64 L1618.79,1684.26 L1618.95,1683.59 L1619.06,1683.08 L1619.22,1682.20 L1619.32,1681.52 L1619.48,1680.36 L1619.59,1679.49 L1619.75,1678.05 L1619.81,1677.43 L1619.85,1677.01 L1620.01,1675.43 L1620.12,1674.42 L1620.28,1673.15 L1620.39,1672.55 L1620.54,1672.19 L1620.65,1672.33 L1620.81,1673.10 L1620.92,1673.89 L1621.08,1675.33 L1621.18,1676.36 L1621.34,1677.89 L1621.45,1678.85 L1621.61,1680.15 L1621.71,1680.92 L1621.87,1681.93 L1621.94,1682.29 L1621.98,1682.52 L1622.14,1683.27 L1622.25,1683.70 L1622.40,1684.26 L1622.51,1684.58 L1622.67,1684.99 L1622.78,1685.22 L1622.94,1685.52 L1623.04,1685.70 L1623.20,1685.92 L1623.31,1686.05 L1623.47,1686.21 L1623.57,1686.31 L1623.73,1686.42 L1623.84,1686.49 L1624.00,1686.57 L1624.06,1686.60 L1624.11,1686.61 L1624.26,1686.66 L1624.37,1686.69 L1624.53,1686.71 L1624.64,1686.72 L1624.80,1686.72 L1624.90,1686.71 L1625.06,1686.69 L1625.17,1686.66 L1625.33,1686.62 L1625.43,1686.58 L1625.59,1686.51 L1625.70,1686.46 L1625.86,1686.36 L1625.97,1686.29 L1626.12,1686.17 L1626.19,1686.11 L1626.23,1686.07 L1626.39,1685.92 L1626.50,1685.80 L1626.66,1685.60 L1626.76,1685.45 L1626.92,1685.21 L1627.03,1685.02 L1627.19,1684.71 L1627.29,1684.48 L1627.45,1684.09 L1627.56,1683.79 L1627.72,1683.30 L1627.83,1682.92 L1627.98,1682.28 L1628.09,1681.80 L1628.25,1680.97 L1628.31,1680.60 L1628.36,1680.34 L1628.52,1679.24 L1628.62,1678.41 L1628.78,1676.96 L1628.89,1675.84 L1629.05,1673.90 L1629.15,1672.41 L1629.31,1669.83 L1629.42,1667.87 L1629.58,1664.56 L1629.69,1662.13 L1629.84,1658.26 L1629.95,1655.65 L1630.11,1652.01 L1630.22,1650.00 L1630.38,1648.06 L1630.44,1647.73 L1630.48,1647.67 L1630.64,1648.55 L1630.75,1650.02 L1630.91,1653.19 L1631.01,1655.69 L1631.17,1659.63 L1631.28,1662.20 L1631.44,1665.79 L1631.55,1667.95 L1631.70,1670.83 L1631.81,1672.51 L1631.97,1674.70 L1632.08,1675.97 L1632.24,1677.61 L1632.34,1678.56 L1632.50,1679.80 L1632.57,1680.24 L1632.61,1680.52 L1632.77,1681.46 L1632.87,1682.01 L1633.03,1682.73 L1633.14,1683.16 L1633.30,1683.73 L1633.41,1684.06 L1633.56,1684.51 L1633.67,1684.78 L1633.83,1685.15 L1633.94,1685.36 L1634.10,1685.66 L1634.20,1685.84 L1634.36,1686.08 L1634.47,1686.23 L1634.63,1686.43 L1634.69,1686.51 L1634.73,1686.56 L1634.89,1686.73 L1635.00,1686.83 L1635.16,1686.98 L1635.27,1687.07 L1635.42,1687.19 L1635.53,1687.27 L1635.80,1687.44 L1636.06,1687.59 L1636.33,1687.73 L1636.59,1687.84 L1636.82,1687.93 L1636.86,1687.94 L1637.13,1688.04 L1637.39,1688.12 L1637.66,1688.19 L1637.92,1688.25 L1638.19,1688.31 L1638.45,1688.37 L1638.72,1688.42 L1638.94,1688.45 L1638.99,1688.46 L1639.25,1688.50 L1639.52,1688.54 L1639.78,1688.57 L1640.05,1688.60 L1640.31,1688.63 L1640.58,1688.66 L1640.85,1688.68 L1641.07,1688.70 L1641.11,1688.71 L1641.38,1688.73 L1641.64,1688.75 L1641.91,1688.77 L1642.17,1688.78 L1642.44,1688.80 L1642.71,1688.82 L1642.97,1688.83 L1643.19,1688.84 L1643.24,1688.84 L1643.50,1688.86 L1643.77,1688.87 L1644.03,1688.88 L1644.30,1688.89 L1644.57,1688.90 L1644.83,1688.91 L1645.10,1688.92 L1645.32,1688.93 L1645.36,1688.93 L1647.45,1688.98 L1649.57,1689.02 L1651.70,1689.05 L1653.82,1689.07 L1655.95,1689.09 L1658.07,1689.10 L1660.20,1689.11 L1662.33,1689.12 L1664.45,1689.13 L1666.58,1689.14 L1668.70,1689.14 L1670.83,1689.15 L1672.95,1689.15 L1675.08,1689.15 L1677.21,1689.16 L1679.33,1689.16 L1681.46,1689.16 L1683.58,1689.16 L1685.71,1689.16 L1687.83,1689.17 L1689.96,1689.17 L1692.09,1689.17 L1694.21,1689.17 L1696.34,1689.17 L1698.46,1689.17 L1700.59,1689.17 L1702.71,1689.17 L1704.84,1689.17 L1706.97,1689.18 L1709.09,1689.18 L1711.22,1689.18 L1713.34,1689.18 L1715.47,1689.18 L1717.59,1689.18 L1719.72,1689.18 L1721.85,1689.18 L1723.97,1689.18 L1726.10,1689.18 L1728.22,1689.18 L1730.35,1689.18 L1732.47,1689.18 L1734.60,1689.18 L1736.73,1689.18 L1738.85,1689.18 L1740.98,1689.18 L1743.10,1689.18 L1745.23,1689.18 L1747.35,1689.18 L1749.48,1689.18 L1751.61,1689.18 L1753.73,1689.18 L1755.86,1689.18 L1757.98,1689.17 L1760.11,1689.17 L1762.23,1689.17 L1764.36,1689.17 L1766.49,1689.17 L1768.61,1689.16 L1770.74,1689.16 L1772.86,1689.15 L1774.99,1689.14 L1777.11,1689.13 L1779.24,1689.12 L1781.37,1689.10 L1781.42,1689.10 L1781.68,1689.09 L1781.95,1689.09 L1782.22,1689.09 L1782.48,1689.08 L1782.75,1689.08 L1783.01,1689.07 L1783.28,1689.07 L1783.49,1689.06 L1783.54,1689.06 L1783.81,1689.06 L1784.08,1689.05 L1784.34,1689.05 L1784.61,1689.04 L1784.87,1689.03 L1785.14,1689.02 L1785.40,1689.02 L1785.62,1689.01 L1785.67,1689.01 L1785.94,1689.00 L1786.20,1688.99 L1786.47,1688.98 L1786.73,1688.97 L1787.00,1688.95 L1787.26,1688.94 L1787.53,1688.92 L1787.74,1688.91 L1787.80,1688.91 L1788.06,1688.89 L1788.33,1688.87 L1788.59,1688.85 L1788.86,1688.82 L1789.12,1688.79 L1789.39,1688.76 L1789.66,1688.73 L1789.87,1688.70 L1789.92,1688.69 L1790.19,1688.65 L1790.45,1688.60 L1790.72,1688.55 L1790.98,1688.48 L1791.25,1688.41 L1791.52,1688.32 L1791.78,1688.22 L1791.99,1688.13 L1792.05,1688.11 L1792.31,1687.97 L1792.58,1687.80 L1792.84,1687.60 L1793.11,1687.35 L1793.38,1687.05 L1793.64,1686.66 L1793.91,1686.17 L1794.12,1685.67 L1794.17,1685.53 L1794.44,1684.69 L1794.70,1683.58 L1794.97,1682.10 L1795.24,1680.15 L1795.50,1677.68 L1795.77,1674.89 L1796.03,1672.46 L1796.25,1671.49 L1796.30,1671.45 L1796.56,1672.46 L1796.83,1674.89 L1797.10,1677.68 L1797.36,1680.15 L1797.63,1682.10 L1797.89,1683.58 L1798.16,1684.69 L1798.37,1685.38 L1798.42,1685.53 L1798.69,1686.17 L1798.96,1686.66 L1799.22,1687.05 L1799.49,1687.35 L1799.75,1687.60 L1800.02,1687.80 L1800.28,1687.97 L1800.50,1688.08 L1800.55,1688.11 L1800.82,1688.23 L1801.08,1688.32 L1801.35,1688.41 L1801.61,1688.48 L1801.88,1688.55 L1802.14,1688.60 L1802.41,1688.65 L1802.62,1688.69 L1802.68,1688.69 L1802.94,1688.73 L1803.21,1688.77 L1803.47,1688.80 L1803.74,1688.82 L1804.00,1688.85 L1804.27,1688.87 L1804.54,1688.89 L1804.75,1688.90 L1804.80,1688.91 L1805.07,1688.92 L1805.33,1688.94 L1805.60,1688.95 L1805.86,1688.97 L1806.13,1688.98 L1806.40,1688.99 L1806.66,1689.00 L1806.87,1689.01 L1806.93,1689.01 L1807.19,1689.02 L1807.46,1689.03 L1807.72,1689.03 L1807.99,1689.04 L1808.26,1689.05 L1808.52,1689.05 L1808.79,1689.06 L1809.00,1689.06" stroke="#f00"/>
<path d="M321.00,1689.20 L323.13,1689.20 L325.25,1689.20 L327.38,1689.20 L329.50,1689.20 L331.63,1689.20 L333.75,1689.20 L335.88,1689.20 L338.01,1689.20 L340.13,1689.20 L342.26,1689.20 L344.38,1689.20 L346.51,1689.20 L348.63,1689.20 L350.76,1689.20 L352.89,1689.20 L355.01,1689.20 L357.14,1689.20 L359.26,1689.20 L361.39,1689.20 L363.51,1689.20 L365.64,1689.20 L367.77,1689.20 L369.89,1689.20 L372.02,1689.20 L374.14,1689.20 L376.27,1689.20 L378.39,1689.20 L380.52,1689.20 L382.65,1689.20 L384.77,1689.20 L386.90,1689.20 L389.02,1689.20 L391.15,1689.20 L393.27,1689.20 L395.40,1689.20 L397.53,1689.20 L399.65,1689.20 L401.78,1689.20 L403.90,1689.20 L406.03,1689.20 L408.15,1689.20 L410.28,1689.20 L412.41,1689.20 L414.53,1689.20 L416.66,1689.20 L418.78,1689.20 L420.91,1689.20 L423.03,1689.20 L425.16,1689.20 L427.29,1689.20 L429.41,1689.20 L431.54,1689.20 L433.66,1689.20 L435.79,1689.20 L437.91,1689.19 L440.04,1689.19 L442.17,1689.19 L444.29,1689.19 L446.42,1689.19 L448.54,1689.19 L450.67,1689.19 L452.79,1689.19 L454.92,1689.19 L457.05,1689.19 L459.17,1689.19 L461.30,1689.19 L463.42,1689.19 L465.55,1689.19 L467.67,1689.19 L469.80,1689.19 L471.93,1689.19 L474.05,1689.19 L476.18,1689.19 L478.30,1689.19 L480.43,1689.19 L482.55,1689.19 L484.68,1689.19 L486.81,1689.19 L488.93,1689.19 L491.06,1689.19 L493.18,1689.19 L495.31,1689.19 L497.43,1689.19 L499.56,1689.19 L501.69,1689.19 L503.81,1689.19 L505.94,1689.19 L508.06,1689.19 L510.19,1689.19 L512.31,1689.19 L514.44,1689.19 L516.57,1689.19 L518.69,1689.19 L520.82,1689.19 L522.94,1689.19 L525.07,1689.19 L527.19,1689.19 L529.32,1689.19 L531.45,1689.19 L533.57,1689.19 L535.70,1689.19 L537.82,1689.19 L539.95,1689.19 L542.07,1689.19 L544.20,1689.19 L546.33,1689.19 L548.45,1689.19 L550.58,1689.19 L552.70,1689.19 L554.83,1689.18 L556.95,1689.18 L559.08,1689.18 L561.21,1689.18 L563.33,1689.18 L565.46,1689.18 L567.58,1689.18 L569.71,1689.18 L571.83,1689.18 L573.96,1689.18 L576.09,1689.18 L578.21,1689.18 L580.34,1689.18 L582.46,1689.17 L584.59,1689.17 L586.71,1689.17 L588.84,1689.17 L590.97,1689.17 L593.09,1689.16 L595.22,1689.16 L597.34,1689.16 L599.47,1689.16 L601.59,1689.15 L603.72,1689.15 L605.85,1689.14 L607.97,1689.13 L610.10,1689.12 L612.22,1689.11 L614.35,1689.10 L616.47,1689.08 L617.96,1689.07 L618.23,1689.06 L618.49,1689.06 L618.60,1689.06 L618.76,1689.05 L619.03,1689.05 L619.29,1689.05 L619.56,1689.04 L619.82,1689.04 L620.09,1689.03 L620.35,1689.03 L620.62,1689.02 L620.73,1689.02 L620.89,1689.02 L621.15,1689.01 L621.42,1689.00 L621.68,1689.00 L621.95,1688.99 L622.21,1688.98 L622.48,1688.97 L622.75,1688.96 L622.85,1688.96 L623.01,1688.95 L623.28,1688.94 L623.54,1688.93 L623.81,1688.92 L624.07,1688.91 L624.34,1688.90 L624.61,1688.88 L624.87,1688.86 L624.98,1688.86 L625.14,1688.85 L625.40,1688.83 L625.67,1688.80 L625.93,1688.78 L626.20,1688.75 L626.47,1688.72 L626.73,1688.69 L627.00,1688.65 L627.10,1688.64 L627.26,1688.61 L627.53,1688.56 L627.79,1688.51 L628.06,1688.45 L628.33,1688.37 L628.59,1688.29 L628.86,1688.19 L629.12,1688.07 L629.23,1688.01 L629.39,1687.92 L629.65,1687.74 L629.92,1687.52 L630.19,1687.25 L630.45,1686.90 L630.72,1686.45 L630.98,1685.85 L631.25,1685.07 L631.35,1684.69 L631.51,1684.03 L631.78,1682.66 L632.05,1680.92 L632.10,1680.54 L632.31,1678.96 L632.36,1678.58 L632.58,1677.26 L632.63,1677.01 L632.84,1676.54 L632.90,1676.57 L633.11,1677.24 L633.16,1677.52 L633.37,1678.93 L633.43,1679.32 L633.48,1679.71 L633.64,1680.87 L633.69,1681.24 L633.91,1682.58 L633.96,1682.88 L634.17,1683.94 L634.22,1684.17 L634.44,1684.96 L634.49,1685.13 L634.70,1685.73 L634.76,1685.85 L634.97,1686.30 L635.02,1686.39 L635.23,1686.73 L635.29,1686.80 L635.50,1687.06 L635.55,1687.11 L635.61,1687.17 L635.77,1687.31 L635.82,1687.35 L636.03,1687.51 L636.08,1687.54 L636.30,1687.66 L636.35,1687.69 L636.56,1687.78 L636.62,1687.80 L636.83,1687.87 L636.88,1687.89 L637.09,1687.95 L637.15,1687.96 L637.36,1688.00 L637.41,1688.01 L637.63,1688.04 L637.68,1688.05 L637.73,1688.06 L637.89,1688.07 L637.94,1688.07 L638.16,1688.09 L638.21,1688.09 L638.42,1688.09 L638.48,1688.10 L638.69,1688.09 L638.74,1688.09 L638.95,1688.08 L639.01,1688.08 L639.22,1688.06 L639.27,1688.06 L639.49,1688.03 L639.54,1688.03 L639.75,1688.00 L639.80,1687.99 L639.86,1687.98 L640.02,1687.95 L640.07,1687.94 L640.28,1687.89 L640.34,1687.88 L640.55,1687.83 L640.60,1687.81 L640.81,1687.75 L640.87,1687.73 L641.08,1687.65 L641.13,1687.63 L641.35,1687.54 L641.40,1687.52 L641.61,1687.42 L641.66,1687.39 L641.88,1687.26 L641.93,1687.23 L641.98,1687.20 L642.14,1687.09 L642.20,1687.05 L642.41,1686.88 L642.46,1686.83 L642.67,1686.63 L642.73,1686.57 L642.94,1686.33 L642.99,1686.26 L643.21,1685.97 L643.26,1685.89 L643.47,1685.54 L643.52,1685.44 L643.74,1685.00 L643.79,1684.88 L644.00,1684.34 L644.06,1684.19 L644.11,1684.03 L644.27,1683.51 L644.32,1683.32 L644.53,1682.45 L644.59,1682.20 L644.80,1681.08 L644.85,1680.76 L645.07,1679.29 L645.12,1678.86 L645.33,1676.91 L645.38,1676.34 L645.60,1673.73 L645.65,1672.98 L645.86,1669.52 L645.92,1668.54 L646.13,1664.14 L646.18,1662.93 L646.23,1661.69 L646.39,1657.87 L646.45,1656.60 L646.66,1652.00 L646.71,1651.07 L646.93,1648.89 L646.98,1648.79 L647.19,1650.29 L647.24,1651.08 L647.46,1655.37 L647.51,1656.61 L647.72,1661.71 L647.78,1662.95 L648.04,1668.56 L648.31,1673.01 L648.36,1673.76 L648.57,1676.37 L648.84,1678.90 L649.10,1680.80 L649.37,1682.25 L649.64,1683.38 L649.90,1684.25 L650.17,1684.95 L650.43,1685.52 L650.49,1685.62 L650.70,1685.98 L650.96,1686.36 L651.23,1686.68 L651.50,1686.94 L651.76,1687.17 L652.03,1687.36 L652.29,1687.53 L652.56,1687.68 L652.61,1687.70 L652.82,1687.80 L653.09,1687.91 L653.36,1688.01 L653.62,1688.10 L653.89,1688.18 L654.15,1688.25 L654.42,1688.31 L654.68,1688.37 L654.74,1688.38 L654.95,1688.42 L655.22,1688.46 L655.48,1688.51 L655.75,1688.54 L656.01,1688.58 L656.28,1688.61 L656.54,1688.64 L656.81,1688.67 L656.86,1688.67 L657.08,1688.69 L657.34,1688.72 L657.61,1688.74 L657.87,1688.76 L658.14,1688.78 L658.40,1688.80 L658.67,1688.81 L658.94,1688.83 L658.99,1688.83 L659.20,1688.84 L659.47,1688.85 L659.73,1688.87 L660.00,1688.88 L660.26,1688.89 L660.53,1688.90 L660.80,1688.91 L661.06,1688.92 L661.11,1688.92 L661.33,1688.93 L661.59,1688.94 L661.86,1688.95 L663.24,1688.98 L665.37,1689.02 L667.49,1689.05 L669.62,1689.07 L671.74,1689.08 L673.87,1689.10 L675.99,1689.11 L678.12,1689.11 L680.25,1689.12 L682.37,1689.12 L684.50,1689.12 L686.62,1689.13 L688.75,1689.13 L690.87,1689.13 L693.00,1689.13 L695.13,1689.13 L697.25,1689.13 L699.38,1689.13 L701.50,1689.13 L703.63,1689.12 L705.75,1689.12 L707.88,1689.12 L710.01,1689.12 L712.13,1689.11 L714.26,1689.11 L716.38,1689.10 L718.51,1689.10 L720.63,1689.09 L722.76,1689.08 L724.89,1689.07 L727.01,1689.06 L729.14,1689.05 L731.26,1689.03 L733.39,1689.01 L735.51,1688.99 L737.64,1688.97 L739.77,1688.93 L741.89,1688.89 L744.02,1688.84 L746.14,1688.78 L748.27,1688.69 L750.39,1688.56 L752.52,1688.39 L752.61,1688.38 L752.87,1688.35 L753.14,1688.32 L753.40,1688.29 L753.67,1688.26 L753.93,1688.23 L754.20,1688.19 L754.47,1688.15 L754.65,1688.12 L754.73,1688.11 L755.00,1688.07 L755.26,1688.02 L755.53,1687.97 L755.79,1687.92 L756.06,1687.86 L756.33,1687.80 L756.59,1687.74 L756.77,1687.69 L756.86,1687.67 L757.12,1687.59 L757.39,1687.51 L757.65,1687.43 L757.92,1687.33 L758.19,1687.23 L758.45,1687.12 L758.72,1687.00 L758.90,1686.92 L758.98,1686.87 L759.25,1686.73 L759.51,1686.57 L759.78,1686.40 L760.05,1686.21 L760.31,1685.99 L760.58,1685.76 L760.84,1685.49 L761.02,1685.30 L761.11,1685.20 L761.37,1684.86 L761.64,1684.49 L761.91,1684.06 L762.17,1683.56 L762.44,1683.00 L762.70,1682.34 L762.97,1681.57 L763.15,1680.97 L763.23,1680.67 L763.50,1679.59 L763.77,1678.31 L764.03,1676.75 L764.30,1674.84 L764.56,1672.47 L764.83,1669.49 L765.09,1665.70 L765.27,1662.50 L765.36,1660.78 L765.63,1654.34 L765.89,1645.78 L766.16,1634.38 L766.42,1619.33 L766.69,1600.32 L766.95,1578.86 L767.22,1560.14 L767.40,1553.23 L767.49,1552.39 L767.75,1560.12 L768.02,1578.82 L768.28,1600.27 L768.55,1619.26 L768.81,1634.30 L769.08,1645.69 L769.35,1654.23 L769.53,1658.79 L769.61,1660.65 L769.88,1665.55 L770.14,1669.33 L770.41,1672.29 L770.67,1674.64 L770.94,1676.53 L771.21,1678.07 L771.47,1679.33 L771.49,1679.43 L771.65,1680.07 L771.74,1680.39 L771.76,1680.46 L772.00,1681.27 L772.02,1681.33 L772.27,1682.02 L772.29,1682.07 L772.53,1682.65 L772.55,1682.70 L772.80,1683.19 L772.82,1683.23 L773.07,1683.66 L773.09,1683.69 L773.33,1684.06 L773.35,1684.09 L773.60,1684.41 L773.62,1684.44 L773.78,1684.62 L773.86,1684.72 L773.88,1684.74 L774.13,1684.98 L774.15,1685.00 L774.39,1685.21 L774.41,1685.23 L774.66,1685.41 L774.68,1685.43 L774.93,1685.59 L774.95,1685.60 L775.19,1685.74 L775.21,1685.75 L775.46,1685.87 L775.48,1685.88 L775.72,1685.99 L775.74,1686.00 L775.90,1686.05 L775.99,1686.08 L776.01,1686.09 L776.25,1686.16 L776.27,1686.17 L776.52,1686.23 L776.54,1686.23 L776.79,1686.28 L776.81,1686.28 L777.05,1686.32 L777.07,1686.32 L777.32,1686.34 L777.34,1686.34 L777.58,1686.35 L777.60,1686.35 L777.85,1686.35 L777.87,1686.35 L778.03,1686.34 L778.11,1686.33 L778.13,1686.33 L778.38,1686.30 L778.40,1686.30 L778.65,1686.26 L778.67,1686.26 L778.91,1686.20 L778.93,1686.20 L779.18,1686.13 L779.20,1686.12 L779.44,1686.03 L779.46,1686.02 L779.71,1685.92 L779.73,1685.91 L779.97,1685.78 L779.99,1685.77 L780.15,1685.67 L780.24,1685.62 L780.26,1685.60 L780.51,1685.42 L780.53,1685.41 L780.77,1685.20 L780.79,1685.18 L781.04,1684.93 L781.06,1684.90 L781.30,1684.61 L781.32,1684.58 L781.57,1684.24 L781.59,1684.21 L781.83,1683.79 L781.85,1683.76 L782.10,1683.27 L782.12,1683.22 L782.28,1682.85 L782.37,1682.63 L782.39,1682.57 L782.65,1681.80 L782.92,1680.84 L783.18,1679.67 L783.45,1678.21 L783.71,1676.37 L783.98,1674.01 L784.25,1670.95 L784.41,1668.68 L784.51,1666.93 L784.78,1661.59 L785.04,1654.46 L785.31,1645.04 L785.57,1633.14 L785.84,1619.70 L786.11,1607.98 L786.37,1603.15 L786.53,1604.97 L786.64,1608.01 L786.90,1619.75 L787.17,1633.22 L787.43,1645.14 L787.70,1654.59 L787.97,1661.74 L788.23,1667.11 L788.50,1671.16 L788.66,1673.11 L788.76,1674.24 L789.03,1676.63 L789.29,1678.50 L789.56,1679.99 L789.83,1681.19 L790.09,1682.18 L790.36,1682.99 L790.62,1683.66 L790.78,1684.02 L790.89,1684.24 L791.15,1684.72 L791.42,1685.14 L791.69,1685.50 L791.95,1685.81 L792.22,1686.08 L792.48,1686.32 L792.75,1686.53 L792.91,1686.65 L793.01,1686.72 L793.28,1686.89 L793.55,1687.04 L793.81,1687.18 L794.08,1687.30 L794.34,1687.41 L794.61,1687.51 L794.87,1687.61 L795.03,1687.66 L795.14,1687.69 L795.41,1687.77 L795.67,1687.84 L795.94,1687.91 L796.20,1687.97 L796.47,1688.02 L796.73,1688.08 L797.00,1688.12 L797.16,1688.15 L797.27,1688.17 L797.53,1688.21 L797.80,1688.25 L798.06,1688.29 L798.33,1688.32 L798.59,1688.36 L798.86,1688.39 L799.13,1688.42 L799.29,1688.43 L799.39,1688.44 L799.66,1688.47 L799.92,1688.49 L800.19,1688.52 L800.45,1688.54 L800.72,1688.56 L800.99,1688.58 L801.25,1688.60 L801.41,1688.61 L803.54,1688.73 L805.66,1688.81 L807.79,1688.87 L809.91,1688.92 L812.04,1688.96 L814.17,1688.98 L816.29,1689.01 L818.42,1689.03 L820.54,1689.04 L822.67,1689.06 L824.79,1689.07 L826.92,1689.08 L829.05,1689.09 L831.17,1689.10 L833.30,1689.10 L835.42,1689.11 L837.55,1689.11 L839.67,1689.12 L841.80,1689.12 L843.93,1689.13 L846.05,1689.13 L848.18,1689.13 L850.30,1689.13 L852.43,1689.14 L854.55,1689.14 L856.68,1689.14 L858.81,1689.14 L860.93,1689.14 L863.06,1689.14 L865.18,1689.14 L867.31,1689.14 L869.43,1689.14 L871.56,1689.14 L873.69,1689.14 L875.81,1689.14 L877.94,1689.14 L880.06,1689.14 L882.19,1689.14 L884.31,1689.13 L886.44,1689.13 L888.57,1689.12 L890.69,1689.12 L892.82,1689.11 L894.94,1689.09 L897.07,1689.07 L897.79,1689.06 L898.06,1689.06 L898.32,1689.06 L898.59,1689.05 L898.85,1689.05 L899.12,1689.04 L899.19,1689.04 L899.39,1689.04 L899.65,1689.03 L899.92,1689.03 L900.18,1689.02 L900.45,1689.02 L900.71,1689.01 L900.98,1689.00 L901.25,1688.99 L901.32,1688.99 L901.51,1688.99 L901.78,1688.98 L902.04,1688.97 L902.31,1688.96 L902.57,1688.95 L902.84,1688.94 L903.11,1688.92 L903.37,1688.91 L903.45,1688.91 L903.64,1688.90 L903.90,1688.88 L904.17,1688.86 L904.43,1688.84 L904.70,1688.82 L904.97,1688.80 L905.23,1688.77 L905.50,1688.75 L905.57,1688.74 L905.76,1688.71 L906.03,1688.68 L906.29,1688.64 L906.56,1688.59 L906.83,1688.54 L907.09,1688.49 L907.36,1688.42 L907.62,1688.34 L907.70,1688.32 L907.89,1688.26 L908.15,1688.15 L908.42,1688.03 L908.69,1687.88 L908.95,1687.71 L909.22,1687.50 L909.48,1687.24 L909.75,1686.92 L909.82,1686.82 L910.01,1686.52 L910.28,1686.01 L910.55,1685.34 L910.81,1684.47 L911.08,1683.31 L911.34,1681.77 L911.61,1679.73 L911.87,1677.16 L911.95,1676.36 L912.14,1674.25 L912.41,1671.72 L912.67,1670.67 L912.94,1671.72 L913.20,1674.25 L913.47,1677.16 L913.73,1679.73 L914.00,1681.77 L914.07,1682.25 L914.27,1683.31 L914.53,1684.47 L914.80,1685.34 L915.06,1686.00 L915.33,1686.52 L915.59,1686.92 L915.86,1687.24 L916.13,1687.50 L916.20,1687.56 L916.39,1687.71 L916.66,1687.88 L916.92,1688.03 L917.19,1688.15 L917.45,1688.25 L917.72,1688.34 L917.99,1688.42 L918.25,1688.48 L918.33,1688.50 L918.52,1688.54 L918.78,1688.59 L919.05,1688.63 L919.31,1688.67 L919.58,1688.71 L919.85,1688.74 L920.11,1688.77 L920.38,1688.79 L920.45,1688.80 L920.64,1688.82 L920.91,1688.84 L921.17,1688.86 L921.44,1688.87 L921.71,1688.89 L921.97,1688.90 L922.24,1688.92 L922.50,1688.93 L922.58,1688.93 L922.77,1688.94 L923.03,1688.95 L923.30,1688.96 L923.57,1688.97 L923.83,1688.98 L924.10,1688.99 L924.36,1688.99 L924.63,1689.00 L924.70,1689.00 L924.89,1689.01 L925.16,1689.01 L925.43,1689.02 L925.69,1689.02 L925.96,1689.03 L926.22,1689.03 L926.49,1689.04 L926.75,1689.04 L926.83,1689.04 L927.02,1689.04 L927.29,1689.05 L927.55,1689.05 L928.95,1689.07 L931.08,1689.08 L933.21,1689.09 L935.33,1689.10 L937.46,1689.10 L939.58,1689.10 L941.71,1689.10 L943.83,1689.10 L945.96,1689.10 L948.09,1689.10 L950.21,1689.09 L952.34,1689.09 L954.46,1689.08 L956.59,1689.07 L958.71,1689.06 L960.84,1689.05 L962.97,1689.04 L965.09,1689.02 L967.22,1689.00 L969.34,1688.97 L971.47,1688.93 L973.59,1688.88 L975.72,1688.81 L977.85,1688.72 L978.83,1688.67 L979.10,1688.65 L979.37,1688.63 L979.63,1688.61 L979.90,1688.59 L979.97,1688.59 L980.16,1688.57 L980.43,1688.55 L980.69,1688.52 L980.96,1688.50 L981.23,1688.47 L981.49,1688.44 L981.76,1688.41 L982.02,1688.38 L982.10,1688.37 L982.29,1688.35 L982.55,1688.31 L982.82,1688.27 L983.09,1688.23 L983.35,1688.18 L983.62,1688.13 L983.88,1688.08 L984.15,1688.02 L984.22,1688.01 L984.41,1687.96 L984.68,1687.89 L984.95,1687.82 L985.21,1687.74 L985.48,1687.65 L985.74,1687.56 L986.01,1687.45 L986.27,1687.33 L986.35,1687.30 L986.54,1687.21 L986.81,1687.06 L987.07,1686.90 L987.34,1686.72 L987.60,1686.52 L987.87,1686.29 L988.13,1686.03 L988.40,1685.73 L988.47,1685.64 L988.67,1685.38 L988.93,1684.99 L989.20,1684.52 L989.46,1683.97 L989.73,1683.32 L989.99,1682.54 L990.26,1681.60 L990.53,1680.44 L990.60,1680.07 L990.79,1679.00 L991.06,1677.20 L991.32,1674.90 L991.59,1671.93 L991.85,1668.02 L992.12,1662.85 L992.39,1655.94 L992.65,1646.83 L992.73,1643.84 L992.92,1635.33 L993.18,1622.33 L993.45,1611.00 L993.71,1606.31 L993.98,1610.99 L994.25,1622.31 L994.51,1635.28 L994.78,1646.77 L994.85,1649.56 L995.04,1655.87 L995.31,1662.76 L995.57,1667.92 L995.84,1671.81 L996.11,1674.77 L996.37,1677.05 L996.64,1678.84 L996.73,1679.38 L996.90,1680.25 L996.98,1680.60 L997.00,1680.69 L997.17,1681.39 L997.26,1681.75 L997.43,1682.32 L997.53,1682.61 L997.70,1683.08 L997.80,1683.32 L997.97,1683.71 L998.06,1683.92 L998.23,1684.24 L998.33,1684.41 L998.50,1684.69 L998.59,1684.83 L998.76,1685.06 L998.86,1685.19 L999.03,1685.39 L999.10,1685.47 L999.12,1685.49 L999.29,1685.66 L999.39,1685.75 L999.56,1685.90 L999.66,1685.97 L999.83,1686.10 L999.92,1686.16 L1000.09,1686.27 L1000.19,1686.33 L1000.36,1686.42 L1000.45,1686.47 L1000.62,1686.55 L1000.72,1686.59 L1000.89,1686.66 L1000.98,1686.70 L1001.15,1686.75 L1001.23,1686.78 L1001.25,1686.78 L1001.42,1686.83 L1001.52,1686.86 L1001.69,1686.90 L1001.78,1686.92 L1001.95,1686.95 L1002.05,1686.96 L1002.22,1686.99 L1002.31,1687.00 L1002.48,1687.01 L1002.58,1687.02 L1002.75,1687.03 L1002.84,1687.03 L1003.01,1687.04 L1003.11,1687.04 L1003.28,1687.03 L1003.35,1687.03 L1003.38,1687.03 L1003.55,1687.01 L1003.64,1687.01 L1003.81,1686.99 L1003.91,1686.97 L1004.08,1686.95 L1004.17,1686.93 L1004.34,1686.89 L1004.44,1686.87 L1004.61,1686.83 L1004.70,1686.80 L1004.87,1686.75 L1004.97,1686.71 L1005.14,1686.65 L1005.24,1686.61 L1005.41,1686.53 L1005.48,1686.49 L1005.50,1686.48 L1005.67,1686.39 L1005.77,1686.33 L1005.94,1686.22 L1006.03,1686.16 L1006.20,1686.03 L1006.30,1685.95 L1006.47,1685.80 L1006.56,1685.70 L1006.73,1685.52 L1006.83,1685.42 L1007.00,1685.20 L1007.10,1685.07 L1007.27,1684.82 L1007.36,1684.66 L1007.53,1684.36 L1007.61,1684.21 L1007.63,1684.17 L1007.80,1683.80 L1007.89,1683.58 L1008.06,1683.13 L1008.16,1682.85 L1008.33,1682.30 L1008.42,1681.96 L1008.59,1681.28 L1008.69,1680.85 L1008.96,1679.44 L1009.22,1677.64 L1009.49,1675.31 L1009.73,1672.53 L1009.75,1672.25 L1010.02,1668.18 L1010.28,1662.75 L1010.55,1655.58 L1010.82,1646.51 L1011.08,1636.28 L1011.35,1627.35 L1011.61,1623.67 L1011.86,1626.83 L1011.88,1627.37 L1012.14,1636.31 L1012.41,1646.57 L1012.68,1655.65 L1012.94,1662.84 L1013.21,1668.29 L1013.47,1672.38 L1013.74,1675.46 L1013.98,1677.64 L1014.00,1677.80 L1014.27,1679.62 L1014.54,1681.05 L1014.80,1682.18 L1015.07,1683.09 L1015.33,1683.84 L1015.60,1684.46 L1015.86,1684.97 L1016.11,1685.37 L1016.13,1685.41 L1016.40,1685.78 L1016.66,1686.09 L1016.93,1686.36 L1017.19,1686.60 L1017.46,1686.81 L1017.72,1686.99 L1017.99,1687.15 L1018.23,1687.28 L1018.26,1687.29 L1018.52,1687.42 L1018.79,1687.54 L1019.05,1687.64 L1019.32,1687.73 L1019.58,1687.81 L1019.85,1687.89 L1020.12,1687.96 L1020.36,1688.02 L1020.38,1688.02 L1020.65,1688.08 L1020.91,1688.14 L1021.18,1688.18 L1021.44,1688.23 L1021.71,1688.27 L1021.98,1688.31 L1022.24,1688.35 L1022.49,1688.38 L1022.51,1688.38 L1022.77,1688.41 L1023.04,1688.44 L1023.30,1688.47 L1023.57,1688.49 L1023.84,1688.52 L1024.10,1688.54 L1024.37,1688.56 L1024.61,1688.58 L1024.63,1688.58 L1024.90,1688.60 L1025.16,1688.62 L1025.43,1688.63 L1025.70,1688.65 L1025.96,1688.66 L1026.23,1688.68 L1026.49,1688.69 L1026.74,1688.70 L1028.86,1688.78 L1030.99,1688.83 L1033.11,1688.86 L1035.24,1688.88 L1037.37,1688.89 L1039.49,1688.88 L1041.62,1688.86 L1043.74,1688.82 L1045.71,1688.76 L1045.87,1688.75 L1045.97,1688.75 L1046.24,1688.74 L1046.51,1688.73 L1046.77,1688.71 L1047.04,1688.70 L1047.30,1688.68 L1047.57,1688.67 L1047.83,1688.65 L1047.99,1688.64 L1048.10,1688.63 L1048.37,1688.62 L1048.63,1688.60 L1048.90,1688.57 L1049.16,1688.55 L1049.43,1688.53 L1049.69,1688.50 L1049.96,1688.47 L1050.12,1688.45 L1050.23,1688.44 L1050.49,1688.40 L1050.76,1688.37 L1051.02,1688.33 L1051.29,1688.28 L1051.55,1688.24 L1051.82,1688.18 L1052.09,1688.13 L1052.25,1688.09 L1052.35,1688.07 L1052.62,1688.00 L1052.88,1687.92 L1053.15,1687.84 L1053.41,1687.74 L1053.68,1687.64 L1053.95,1687.52 L1054.21,1687.39 L1054.37,1687.31 L1054.48,1687.25 L1054.74,1687.08 L1055.01,1686.89 L1055.27,1686.67 L1055.54,1686.42 L1055.81,1686.13 L1056.07,1685.78 L1056.34,1685.38 L1056.50,1685.10 L1056.60,1684.90 L1056.87,1684.33 L1057.13,1683.63 L1057.40,1682.78 L1057.67,1681.72 L1057.93,1680.39 L1058.20,1678.69 L1058.46,1676.49 L1058.62,1674.85 L1058.73,1673.60 L1058.99,1669.77 L1059.26,1664.65 L1059.53,1657.91 L1059.79,1649.39 L1060.06,1639.77 L1060.32,1631.38 L1060.59,1627.91 L1060.75,1629.20 L1060.85,1631.38 L1061.12,1639.77 L1061.39,1649.39 L1061.65,1657.91 L1061.92,1664.66 L1062.18,1669.77 L1062.45,1673.61 L1062.71,1676.49 L1062.87,1677.88 L1062.98,1678.69 L1063.25,1680.39 L1063.51,1681.73 L1063.78,1682.79 L1064.04,1683.64 L1064.31,1684.34 L1064.57,1684.91 L1064.84,1685.39 L1065.00,1685.64 L1065.11,1685.80 L1065.37,1686.14 L1065.64,1686.43 L1065.90,1686.69 L1066.17,1686.91 L1066.43,1687.10 L1066.70,1687.27 L1066.97,1687.41 L1067.13,1687.50 L1067.23,1687.55 L1067.50,1687.66 L1067.76,1687.77 L1068.03,1687.86 L1068.29,1687.95 L1068.56,1688.02 L1068.83,1688.09 L1069.09,1688.16 L1069.25,1688.19 L1069.36,1688.21 L1069.62,1688.27 L1069.89,1688.32 L1070.15,1688.36 L1070.42,1688.40 L1070.69,1688.44 L1070.95,1688.47 L1071.22,1688.51 L1071.38,1688.53 L1071.48,1688.54 L1071.75,1688.57 L1072.01,1688.59 L1072.28,1688.62 L1072.55,1688.64 L1072.81,1688.66 L1073.08,1688.68 L1073.34,1688.70 L1073.50,1688.71 L1073.61,1688.72 L1073.87,1688.73 L1074.14,1688.75 L1074.41,1688.76 L1074.67,1688.78 L1074.94,1688.79 L1075.20,1688.80 L1075.47,1688.82 L1075.63,1688.82 L1077.75,1688.90 L1079.88,1688.95 L1082.01,1688.98 L1084.13,1689.01 L1086.26,1689.03 L1088.38,1689.04 L1090.51,1689.05 L1092.63,1689.05 L1094.76,1689.06 L1096.89,1689.05 L1099.01,1689.05 L1100.89,1689.04 L1101.14,1689.04 L1101.16,1689.04 L1101.42,1689.04 L1101.69,1689.03 L1101.96,1689.03 L1102.22,1689.03 L1102.49,1689.03 L1102.75,1689.02 L1103.02,1689.02 L1103.26,1689.02 L1103.28,1689.02 L1103.55,1689.01 L1103.82,1689.01 L1104.08,1689.00 L1104.35,1689.00 L1104.61,1689.00 L1104.88,1688.99 L1105.14,1688.98 L1105.39,1688.98 L1105.41,1688.98 L1105.68,1688.97 L1105.94,1688.96 L1106.21,1688.96 L1106.47,1688.95 L1106.74,1688.94 L1107.00,1688.93 L1107.27,1688.92 L1107.51,1688.91 L1107.54,1688.91 L1107.80,1688.89 L1108.07,1688.88 L1108.33,1688.86 L1108.60,1688.85 L1108.86,1688.83 L1109.13,1688.80 L1109.40,1688.78 L1109.64,1688.75 L1109.66,1688.75 L1109.93,1688.72 L1110.19,1688.68 L1110.46,1688.64 L1110.72,1688.59 L1110.99,1688.54 L1111.26,1688.47 L1111.52,1688.40 L1111.77,1688.31 L1111.79,1688.31 L1112.05,1688.20 L1112.32,1688.07 L1112.58,1687.91 L1112.85,1687.71 L1113.12,1687.46 L1113.38,1687.14 L1113.65,1686.73 L1113.89,1686.23 L1113.91,1686.18 L1114.18,1685.46 L1114.44,1684.51 L1114.71,1683.24 L1114.98,1681.64 L1115.24,1679.84 L1115.51,1678.26 L1115.77,1677.61 L1116.02,1678.17 L1116.04,1678.26 L1116.30,1679.83 L1116.57,1681.64 L1116.84,1683.23 L1117.10,1684.50 L1117.37,1685.45 L1117.63,1686.17 L1117.90,1686.71 L1118.14,1687.09 L1118.16,1687.12 L1118.43,1687.44 L1118.70,1687.69 L1118.96,1687.89 L1119.23,1688.04 L1119.49,1688.17 L1119.76,1688.28 L1120.02,1688.37 L1120.27,1688.44 L1120.29,1688.44 L1120.56,1688.50 L1120.82,1688.56 L1121.09,1688.60 L1121.35,1688.64 L1121.62,1688.68 L1121.88,1688.71 L1122.15,1688.73 L1122.39,1688.75 L1122.42,1688.75 L1122.68,1688.77 L1122.95,1688.79 L1123.21,1688.81 L1123.48,1688.82 L1123.74,1688.83 L1124.01,1688.84 L1124.28,1688.85 L1124.52,1688.86 L1124.54,1688.86 L1124.81,1688.87 L1125.07,1688.87 L1125.34,1688.88 L1125.60,1688.88 L1125.87,1688.89 L1126.14,1688.89 L1126.40,1688.89 L1126.65,1688.89 L1126.67,1688.89 L1126.93,1688.89 L1127.20,1688.89 L1127.46,1688.89 L1127.73,1688.89 L1128.00,1688.89 L1128.26,1688.89 L1128.53,1688.89 L1128.77,1688.89 L1128.79,1688.89 L1129.06,1688.89 L1129.32,1688.88 L1129.59,1688.88 L1129.86,1688.88 L1130.12,1688.87 L1130.39,1688.87 L1130.65,1688.86 L1130.90,1688.86 L1132.35,1688.81 L1132.62,1688.81 L1132.88,1688.79 L1133.02,1688.79 L1133.15,1688.78 L1133.42,1688.77 L1133.68,1688.76 L1133.95,1688.75 L1134.21,1688.73 L1134.48,1688.72 L1134.74,1688.70 L1135.01,1688.68 L1135.15,1688.67 L1135.28,1688.66 L1135.54,1688.64 L1135.81,1688.62 L1136.07,1688.60 L1136.34,1688.57 L1136.60,1688.54 L1136.87,1688.52 L1137.14,1688.48 L1137.27,1688.47 L1137.40,1688.45 L1137.67,1688.41 L1137.93,1688.37 L1138.20,1688.32 L1138.46,1688.28 L1138.73,1688.22 L1139.00,1688.16 L1139.26,1688.10 L1139.40,1688.06 L1139.53,1688.03 L1139.79,1687.95 L1140.06,1687.86 L1140.32,1687.76 L1140.59,1687.65 L1140.86,1687.53 L1141.12,1687.39 L1141.39,1687.23 L1141.53,1687.14 L1141.65,1687.05 L1141.92,1686.85 L1142.18,1686.61 L1142.45,1686.33 L1142.72,1686.01 L1142.98,1685.63 L1143.25,1685.18 L1143.51,1684.63 L1143.65,1684.31 L1143.78,1683.98 L1144.04,1683.17 L1144.31,1682.17 L1144.58,1680.92 L1144.84,1679.31 L1145.11,1677.24 L1145.37,1674.51 L1145.64,1670.90 L1145.78,1668.56 L1145.90,1666.08 L1146.17,1659.71 L1146.44,1651.68 L1146.70,1642.60 L1146.97,1634.69 L1147.23,1631.41 L1147.50,1634.69 L1147.76,1642.60 L1147.90,1647.36 L1148.03,1651.68 L1148.30,1659.72 L1148.56,1666.08 L1148.83,1670.90 L1149.09,1674.52 L1149.36,1677.24 L1149.62,1679.32 L1149.89,1680.92 L1150.03,1681.61 L1150.16,1682.18 L1150.42,1683.18 L1150.69,1683.99 L1150.95,1684.64 L1151.22,1685.19 L1151.48,1685.64 L1151.75,1686.02 L1152.02,1686.34 L1152.15,1686.49 L1152.28,1686.62 L1152.55,1686.86 L1152.81,1687.06 L1153.08,1687.25 L1153.34,1687.40 L1153.61,1687.54 L1153.88,1687.67 L1154.14,1687.78 L1154.28,1687.83 L1154.41,1687.88 L1154.67,1687.97 L1154.94,1688.05 L1155.20,1688.12 L1155.47,1688.18 L1155.74,1688.24 L1156.00,1688.30 L1156.27,1688.35 L1156.41,1688.37 L1156.53,1688.39 L1156.80,1688.43 L1157.06,1688.47 L1157.33,1688.51 L1157.60,1688.54 L1157.86,1688.57 L1158.13,1688.60 L1158.39,1688.63 L1158.53,1688.64 L1158.66,1688.65 L1158.92,1688.68 L1159.19,1688.70 L1159.46,1688.72 L1159.72,1688.74 L1159.99,1688.75 L1160.25,1688.77 L1160.52,1688.79 L1160.66,1688.79 L1160.78,1688.80 L1161.05,1688.82 L1161.32,1688.83 L1161.58,1688.84 L1161.85,1688.85 L1162.11,1688.86 L1162.78,1688.89 L1164.91,1688.95 L1167.03,1689.00 L1169.16,1689.03 L1171.29,1689.05 L1173.41,1689.07 L1175.54,1689.09 L1177.66,1689.10 L1179.79,1689.10 L1181.91,1689.11 L1184.04,1689.12 L1186.17,1689.12 L1188.29,1689.12 L1190.42,1689.12 L1192.54,1689.12 L1194.67,1689.12 L1196.79,1689.11 L1198.92,1689.10 L1200.23,1689.09 L1200.49,1689.09 L1200.76,1689.08 L1201.02,1689.08 L1201.05,1689.08 L1201.29,1689.08 L1201.56,1689.08 L1201.82,1689.07 L1202.09,1689.07 L1202.35,1689.07 L1202.62,1689.06 L1202.88,1689.06 L1203.15,1689.05 L1203.17,1689.05 L1203.42,1689.05 L1203.68,1689.04 L1203.95,1689.04 L1204.21,1689.03 L1204.48,1689.03 L1204.74,1689.02 L1205.01,1689.01 L1205.28,1689.00 L1205.30,1689.00 L1205.54,1688.99 L1205.81,1688.98 L1206.07,1688.97 L1206.34,1688.96 L1206.60,1688.95 L1206.87,1688.94 L1207.14,1688.92 L1207.40,1688.91 L1207.42,1688.90 L1207.67,1688.89 L1207.93,1688.87 L1208.20,1688.84 L1208.46,1688.82 L1208.73,1688.79 L1209.00,1688.76 L1209.26,1688.72 L1209.53,1688.68 L1209.55,1688.67 L1209.79,1688.63 L1210.06,1688.57 L1210.32,1688.51 L1210.59,1688.44 L1210.86,1688.35 L1211.12,1688.24 L1211.39,1688.12 L1211.65,1687.96 L1211.67,1687.95 L1211.92,1687.77 L1212.18,1687.54 L1212.45,1687.25 L1212.72,1686.88 L1212.98,1686.39 L1213.25,1685.76 L1213.51,1684.91 L1213.78,1683.79 L1213.80,1683.69 L1214.04,1682.31 L1214.31,1680.43 L1214.58,1678.32 L1214.84,1676.47 L1215.11,1675.71 L1215.37,1676.47 L1215.64,1678.32 L1215.90,1680.44 L1215.93,1680.60 L1216.17,1682.31 L1216.44,1683.79 L1216.70,1684.92 L1216.97,1685.76 L1217.23,1686.39 L1217.50,1686.88 L1217.76,1687.25 L1218.03,1687.54 L1218.05,1687.57 L1218.30,1687.78 L1218.56,1687.97 L1218.83,1688.12 L1219.09,1688.25 L1219.36,1688.35 L1219.62,1688.44 L1219.89,1688.52 L1220.16,1688.58 L1220.18,1688.58 L1220.42,1688.64 L1220.69,1688.68 L1220.95,1688.73 L1221.22,1688.76 L1221.48,1688.80 L1221.75,1688.82 L1222.02,1688.85 L1222.28,1688.87 L1222.30,1688.88 L1222.55,1688.89 L1222.81,1688.91 L1223.08,1688.93 L1223.34,1688.95 L1223.61,1688.96 L1223.88,1688.97 L1224.14,1688.98 L1224.41,1688.99 L1224.43,1689.00 L1224.67,1689.00 L1224.94,1689.01 L1225.20,1689.02 L1225.47,1689.03 L1225.74,1689.04 L1226.00,1689.04 L1226.27,1689.05 L1226.53,1689.06 L1226.55,1689.06 L1226.80,1689.06 L1227.06,1689.07 L1227.33,1689.07 L1227.60,1689.08 L1227.86,1689.08 L1228.13,1689.08 L1228.39,1689.09 L1228.66,1689.09 L1228.68,1689.09 L1228.92,1689.09 L1229.19,1689.10 L1229.46,1689.10 L1229.72,1689.10 L1229.99,1689.11 L1230.81,1689.11 L1232.93,1689.13 L1235.06,1689.14 L1237.18,1689.15 L1239.31,1689.15 L1241.43,1689.16 L1243.56,1689.16 L1245.69,1689.16 L1247.81,1689.17 L1249.94,1689.17 L1252.06,1689.17 L1254.19,1689.17 L1256.31,1689.17 L1258.44,1689.17 L1260.57,1689.17 L1262.69,1689.17 L1264.82,1689.18 L1266.94,1689.18 L1269.07,1689.18 L1271.19,1689.18 L1273.32,1689.18 L1275.45,1689.18 L1277.57,1689.18 L1279.70,1689.18 L1281.82,1689.18 L1283.95,1689.18 L1286.07,1689.18 L1288.20,1689.18 L1290.33,1689.18 L1292.45,1689.18 L1294.58,1689.18 L1296.70,1689.18 L1298.83,1689.18 L1300.95,1689.18 L1303.08,1689.18 L1305.21,1689.18 L1307.33,1689.18 L1309.46,1689.18 L1311.58,1689.18 L1313.71,1689.18 L1315.83,1689.18 L1317.96,1689.18 L1320.09,1689.18 L1322.21,1689.17 L1324.34,1689.17 L1326.46,1689.17 L1328.59,1689.17 L1330.71,1689.17 L1332.84,1689.17 L1334.97,1689.17 L1335.71,1689.17 L1335.98,1689.17 L1336.24,1689.17 L1336.51,1689.17 L1336.77,1689.17 L1337.04,1689.17 L1337.09,1689.17 L1337.30,1689.16 L1337.57,1689.16 L1337.84,1689.16 L1338.10,1689.16 L1338.37,1689.16 L1338.63,1689.16 L1338.90,1689.16 L1339.16,1689.16 L1339.22,1689.16 L1339.43,1689.16 L1339.70,1689.16 L1339.96,1689.16 L1340.23,1689.16 L1340.49,1689.16 L1340.76,1689.16 L1341.02,1689.16 L1341.29,1689.16 L1341.34,1689.16 L1341.56,1689.16 L1341.82,1689.15 L1342.09,1689.15 L1342.35,1689.15 L1342.62,1689.15 L1342.88,1689.15 L1343.15,1689.15 L1343.42,1689.15 L1343.47,1689.15 L1343.68,1689.15 L1343.95,1689.14 L1344.21,1689.14 L1344.48,1689.14 L1344.74,1689.14 L1345.01,1689.13 L1345.28,1689.13 L1345.54,1689.13 L1345.59,1689.12 L1345.81,1689.12 L1346.07,1689.12 L1346.34,1689.11 L1346.60,1689.10 L1346.87,1689.09 L1347.14,1689.08 L1347.40,1689.07 L1347.67,1689.05 L1347.72,1689.05 L1347.93,1689.03 L1348.20,1689.01 L1348.46,1688.97 L1348.73,1688.93 L1349.00,1688.87 L1349.26,1688.79 L1349.53,1688.69 L1349.79,1688.56 L1349.85,1688.53 L1350.06,1688.41 L1350.32,1688.29 L1350.59,1688.23 L1350.86,1688.29 L1351.12,1688.41 L1351.39,1688.56 L1351.65,1688.69 L1351.92,1688.79 L1351.97,1688.81 L1352.18,1688.87 L1352.45,1688.93 L1352.72,1688.97 L1352.98,1689.00 L1353.25,1689.03 L1353.51,1689.05 L1353.78,1689.06 L1354.04,1689.08 L1354.10,1689.08 L1354.31,1689.09 L1354.58,1689.10 L1354.84,1689.10 L1355.11,1689.11 L1355.37,1689.11 L1355.64,1689.12 L1355.90,1689.12 L1356.17,1689.12 L1356.22,1689.12 L1356.44,1689.13 L1356.70,1689.13 L1356.97,1689.13 L1357.23,1689.13 L1357.50,1689.13 L1357.76,1689.14 L1358.03,1689.14 L1358.30,1689.14 L1358.35,1689.14 L1358.56,1689.14 L1358.83,1689.14 L1359.09,1689.14 L1359.36,1689.14 L1359.62,1689.14 L1359.89,1689.14 L1360.16,1689.14 L1360.42,1689.14 L1360.47,1689.14 L1360.69,1689.14 L1360.95,1689.14 L1361.22,1689.14 L1361.48,1689.14 L1361.75,1689.14 L1362.02,1689.14 L1362.28,1689.14 L1362.55,1689.14 L1362.60,1689.14 L1362.81,1689.14 L1363.08,1689.14 L1363.34,1689.14 L1363.61,1689.14 L1363.88,1689.14 L1364.14,1689.14 L1364.41,1689.14 L1364.67,1689.14 L1364.73,1689.14 L1364.94,1689.14 L1365.20,1689.14 L1365.47,1689.14 L1366.85,1689.14 L1368.98,1689.14 L1371.10,1689.13 L1373.23,1689.13 L1375.35,1689.12 L1377.48,1689.11 L1379.61,1689.11 L1381.73,1689.10 L1383.86,1689.08 L1385.98,1689.07 L1388.11,1689.05 L1390.23,1689.03 L1392.36,1689.00 L1394.49,1688.97 L1396.61,1688.92 L1398.74,1688.86 L1400.86,1688.78 L1402.99,1688.66 L1403.33,1688.63 L1403.59,1688.61 L1403.86,1688.59 L1404.13,1688.57 L1404.39,1688.55 L1404.66,1688.52 L1404.92,1688.49 L1405.11,1688.47 L1405.19,1688.47 L1405.45,1688.44 L1405.72,1688.40 L1405.99,1688.37 L1406.25,1688.33 L1406.52,1688.30 L1406.78,1688.25 L1407.05,1688.21 L1407.24,1688.18 L1407.31,1688.16 L1407.58,1688.11 L1407.85,1688.06 L1408.11,1688.00 L1408.38,1687.93 L1408.64,1687.86 L1408.91,1687.79 L1409.17,1687.70 L1409.37,1687.64 L1409.44,1687.61 L1409.71,1687.52 L1409.97,1687.41 L1410.24,1687.29 L1410.50,1687.16 L1410.77,1687.02 L1411.03,1686.86 L1411.30,1686.68 L1411.49,1686.54 L1411.57,1686.48 L1411.83,1686.26 L1412.10,1686.00 L1412.36,1685.72 L1412.63,1685.39 L1412.89,1685.02 L1413.16,1684.59 L1413.43,1684.09 L1413.62,1683.68 L1413.69,1683.51 L1413.96,1682.82 L1414.22,1682.00 L1414.49,1681.02 L1414.75,1679.84 L1415.02,1678.38 L1415.29,1676.58 L1415.55,1674.31 L1415.74,1672.30 L1415.82,1671.42 L1416.08,1667.67 L1416.35,1662.76 L1416.61,1656.23 L1416.88,1647.53 L1417.15,1636.05 L1417.41,1621.55 L1417.68,1605.17 L1417.87,1594.31 L1417.94,1590.88 L1418.21,1584.98 L1418.47,1590.88 L1418.74,1605.17 L1419.01,1621.54 L1419.27,1636.05 L1419.54,1647.53 L1419.80,1656.23 L1419.99,1661.11 L1420.07,1662.76 L1420.33,1667.67 L1420.60,1671.41 L1420.87,1674.31 L1421.13,1676.58 L1421.40,1678.38 L1421.66,1679.83 L1421.93,1681.02 L1422.12,1681.74 L1422.19,1682.00 L1422.46,1682.81 L1422.73,1683.50 L1422.99,1684.08 L1423.26,1684.58 L1423.52,1685.01 L1423.79,1685.39 L1424.05,1685.71 L1424.25,1685.92 L1424.32,1686.00 L1424.59,1686.25 L1424.85,1686.47 L1425.12,1686.67 L1425.38,1686.85 L1425.65,1687.01 L1425.91,1687.15 L1426.18,1687.28 L1426.37,1687.37 L1426.45,1687.40 L1426.71,1687.51 L1426.98,1687.60 L1427.24,1687.69 L1427.51,1687.78 L1427.77,1687.85 L1428.04,1687.92 L1428.31,1687.98 L1428.50,1688.03 L1428.57,1688.04 L1428.84,1688.10 L1429.10,1688.15 L1429.37,1688.20 L1429.63,1688.24 L1429.90,1688.28 L1430.17,1688.32 L1430.43,1688.36 L1430.62,1688.38 L1430.70,1688.39 L1430.96,1688.42 L1431.23,1688.45 L1431.49,1688.48 L1431.76,1688.51 L1432.03,1688.53 L1432.29,1688.55 L1432.56,1688.58 L1432.75,1688.59 L1432.82,1688.60 L1433.09,1688.62 L1434.87,1688.72 L1437.00,1688.81 L1439.13,1688.88 L1441.25,1688.92 L1443.38,1688.95 L1445.50,1688.97 L1447.63,1688.98 L1449.75,1688.98 L1451.88,1688.97 L1453.05,1688.96 L1453.31,1688.96 L1453.58,1688.95 L1453.85,1688.95 L1454.01,1688.95 L1454.11,1688.94 L1454.38,1688.94 L1454.64,1688.93 L1454.91,1688.93 L1455.17,1688.92 L1455.44,1688.92 L1455.71,1688.91 L1455.97,1688.90 L1456.13,1688.90 L1456.24,1688.90 L1456.50,1688.89 L1456.77,1688.88 L1457.03,1688.87 L1457.30,1688.86 L1457.57,1688.85 L1457.83,1688.83 L1458.10,1688.82 L1458.26,1688.81 L1458.36,1688.80 L1458.63,1688.79 L1458.89,1688.77 L1459.16,1688.75 L1459.43,1688.73 L1459.69,1688.70 L1459.96,1688.68 L1460.22,1688.65 L1460.38,1688.63 L1460.49,1688.61 L1460.75,1688.58 L1461.02,1688.54 L1461.29,1688.49 L1461.55,1688.44 L1461.82,1688.38 L1462.08,1688.32 L1462.35,1688.24 L1462.51,1688.19 L1462.61,1688.16 L1462.88,1688.06 L1463.15,1687.94 L1463.41,1687.81 L1463.68,1687.65 L1463.94,1687.46 L1464.21,1687.23 L1464.47,1686.96 L1464.63,1686.76 L1464.74,1686.62 L1465.01,1686.20 L1465.27,1685.68 L1465.54,1685.01 L1465.80,1684.14 L1466.07,1683.00 L1466.33,1681.48 L1466.60,1679.46 L1466.76,1677.95 L1466.87,1676.80 L1467.13,1673.43 L1467.40,1669.63 L1467.66,1666.31 L1467.93,1664.94 L1468.19,1666.32 L1468.46,1669.63 L1468.73,1673.43 L1468.89,1675.53 L1468.99,1676.80 L1469.26,1679.47 L1469.52,1681.49 L1469.79,1683.00 L1470.05,1684.14 L1470.32,1685.01 L1470.59,1685.69 L1470.85,1686.21 L1471.01,1686.48 L1471.12,1686.63 L1471.38,1686.97 L1471.65,1687.25 L1471.91,1687.47 L1472.18,1687.66 L1472.45,1687.82 L1472.71,1687.96 L1472.98,1688.07 L1473.14,1688.14 L1473.24,1688.17 L1473.51,1688.26 L1473.77,1688.34 L1474.04,1688.40 L1474.31,1688.46 L1474.57,1688.51 L1474.84,1688.56 L1475.10,1688.60 L1475.26,1688.63 L1475.37,1688.64 L1475.63,1688.67 L1475.90,1688.70 L1476.17,1688.73 L1476.43,1688.76 L1476.70,1688.78 L1476.96,1688.80 L1477.23,1688.82 L1477.39,1688.83 L1477.49,1688.84 L1477.76,1688.85 L1478.03,1688.87 L1478.29,1688.88 L1478.56,1688.90 L1478.82,1688.91 L1479.09,1688.92 L1479.35,1688.93 L1479.51,1688.94 L1479.62,1688.94 L1479.89,1688.95 L1480.15,1688.96 L1480.42,1688.96 L1480.68,1688.97 L1480.95,1688.98 L1481.21,1688.99 L1481.48,1688.99 L1481.64,1689.00 L1481.75,1689.00 L1482.01,1689.00 L1482.28,1689.01 L1482.54,1689.01 L1482.81,1689.02 L1483.77,1689.03 L1485.89,1689.06 L1488.02,1689.08 L1490.14,1689.09 L1492.27,1689.10 L1494.39,1689.10 L1496.52,1689.11 L1498.65,1689.11 L1500.77,1689.11 L1502.90,1689.11 L1505.02,1689.10 L1507.15,1689.10 L1509.27,1689.09 L1511.40,1689.08 L1513.53,1689.07 L1515.65,1689.05 L1517.78,1689.02 L1519.90,1688.99 L1522.03,1688.94 L1523.38,1688.90 L1523.64,1688.89 L1523.91,1688.88 L1524.15,1688.87 L1524.18,1688.86 L1524.44,1688.85 L1524.71,1688.84 L1524.97,1688.83 L1525.24,1688.81 L1525.50,1688.80 L1525.77,1688.78 L1526.04,1688.77 L1526.28,1688.75 L1526.30,1688.75 L1526.57,1688.73 L1526.83,1688.71 L1527.10,1688.68 L1527.36,1688.66 L1527.63,1688.63 L1527.90,1688.61 L1528.16,1688.58 L1528.41,1688.55 L1528.43,1688.55 L1528.69,1688.51 L1528.96,1688.47 L1529.22,1688.43 L1529.49,1688.39 L1529.76,1688.34 L1530.02,1688.28 L1530.29,1688.22 L1530.53,1688.16 L1530.55,1688.16 L1530.82,1688.08 L1531.08,1688.00 L1531.35,1687.91 L1531.62,1687.81 L1531.88,1687.70 L1532.15,1687.57 L1532.41,1687.43 L1532.66,1687.28 L1532.68,1687.27 L1532.94,1687.08 L1533.21,1686.86 L1533.48,1686.61 L1533.74,1686.32 L1534.01,1685.97 L1534.27,1685.56 L1534.54,1685.07 L1534.78,1684.52 L1534.80,1684.47 L1535.07,1683.73 L1535.34,1682.82 L1535.60,1681.68 L1535.87,1680.22 L1536.13,1678.33 L1536.40,1675.86 L1536.66,1672.57 L1536.91,1668.58 L1536.93,1668.18 L1537.20,1662.39 L1537.46,1655.08 L1537.73,1646.82 L1537.99,1639.62 L1538.26,1636.64 L1538.52,1639.62 L1538.79,1646.82 L1539.03,1654.44 L1539.06,1655.08 L1539.32,1662.39 L1539.59,1668.18 L1539.85,1672.57 L1540.12,1675.86 L1540.38,1678.34 L1540.65,1680.22 L1540.92,1681.68 L1541.16,1682.74 L1541.18,1682.83 L1541.45,1683.74 L1541.71,1684.47 L1541.98,1685.07 L1542.24,1685.56 L1542.51,1685.97 L1542.78,1686.32 L1543.04,1686.61 L1543.29,1686.84 L1543.31,1686.86 L1543.57,1687.08 L1543.84,1687.27 L1544.10,1687.43 L1544.37,1687.58 L1544.64,1687.70 L1544.90,1687.82 L1545.17,1687.92 L1545.41,1688.00 L1545.43,1688.01 L1545.70,1688.09 L1545.96,1688.16 L1546.23,1688.23 L1546.50,1688.29 L1546.76,1688.34 L1547.03,1688.39 L1547.29,1688.43 L1547.54,1688.47 L1547.56,1688.48 L1547.82,1688.51 L1548.09,1688.55 L1548.36,1688.58 L1548.62,1688.61 L1548.89,1688.64 L1549.15,1688.66 L1549.42,1688.69 L1549.66,1688.71 L1549.68,1688.71 L1549.95,1688.73 L1550.22,1688.75 L1550.48,1688.77 L1550.75,1688.79 L1551.01,1688.80 L1551.28,1688.82 L1551.54,1688.83 L1551.79,1688.84 L1551.81,1688.85 L1552.08,1688.86 L1552.34,1688.87 L1552.61,1688.88 L1552.87,1688.89 L1553.14,1688.90 L1553.91,1688.93 L1556.04,1688.98 L1558.17,1689.02 L1560.29,1689.05 L1562.42,1689.07 L1564.54,1689.09 L1566.67,1689.10 L1568.79,1689.11 L1570.92,1689.11 L1573.05,1689.12 L1575.17,1689.12 L1577.30,1689.12 L1579.42,1689.12 L1581.55,1689.11 L1583.67,1689.11 L1585.80,1689.09 L1586.02,1689.09 L1586.29,1689.09 L1586.55,1689.09 L1586.82,1689.08 L1587.09,1689.08 L1587.35,1689.08 L1587.62,1689.08 L1587.88,1689.07 L1587.93,1689.07 L1588.15,1689.07 L1588.41,1689.07 L1588.68,1689.06 L1588.95,1689.06 L1589.21,1689.05 L1589.48,1689.05 L1589.74,1689.04 L1590.01,1689.04 L1590.05,1689.03 L1590.27,1689.03 L1590.54,1689.02 L1590.81,1689.01 L1591.07,1689.01 L1591.34,1689.00 L1591.60,1688.99 L1591.87,1688.98 L1592.13,1688.97 L1592.18,1688.96 L1592.40,1688.95 L1592.67,1688.94 L1592.93,1688.93 L1593.20,1688.91 L1593.46,1688.89 L1593.73,1688.87 L1593.99,1688.85 L1594.26,1688.82 L1594.30,1688.82 L1594.53,1688.79 L1594.79,1688.76 L1595.06,1688.72 L1595.32,1688.68 L1595.59,1688.63 L1595.85,1688.58 L1596.12,1688.51 L1596.39,1688.44 L1596.43,1688.43 L1596.65,1688.35 L1596.92,1688.25 L1597.18,1688.12 L1597.45,1687.97 L1597.71,1687.78 L1597.98,1687.55 L1598.25,1687.25 L1598.51,1686.88 L1598.55,1686.81 L1598.78,1686.40 L1599.04,1685.76 L1599.31,1684.92 L1599.57,1683.79 L1599.84,1682.31 L1600.11,1680.44 L1600.37,1678.32 L1600.64,1676.48 L1600.68,1676.26 L1600.90,1675.72 L1601.17,1676.48 L1601.43,1678.32 L1601.70,1680.44 L1601.97,1682.31 L1602.23,1683.80 L1602.50,1684.92 L1602.76,1685.76 L1602.81,1685.88 L1603.03,1686.40 L1603.29,1686.88 L1603.56,1687.26 L1603.83,1687.55 L1604.09,1687.78 L1604.36,1687.97 L1604.62,1688.12 L1604.89,1688.25 L1604.93,1688.27 L1605.15,1688.36 L1605.42,1688.44 L1605.69,1688.52 L1605.95,1688.58 L1606.22,1688.64 L1606.48,1688.69 L1606.75,1688.73 L1607.01,1688.77 L1607.06,1688.77 L1607.28,1688.80 L1607.55,1688.83 L1607.81,1688.85 L1608.08,1688.88 L1608.34,1688.90 L1608.61,1688.92 L1608.87,1688.93 L1609.14,1688.95 L1609.18,1688.95 L1609.41,1688.96 L1609.67,1688.98 L1609.94,1688.99 L1610.20,1689.00 L1610.47,1689.01 L1610.73,1689.02 L1611.00,1689.03 L1611.27,1689.03 L1611.31,1689.03 L1611.53,1689.04 L1611.80,1689.05 L1612.06,1689.05 L1612.33,1689.06 L1612.59,1689.06 L1612.86,1689.07 L1613.13,1689.07 L1613.39,1689.08 L1613.43,1689.08 L1613.66,1689.08 L1613.92,1689.09 L1614.19,1689.09 L1614.45,1689.09 L1614.72,1689.10 L1614.99,1689.10 L1615.25,1689.10 L1615.52,1689.11 L1615.56,1689.11 L1615.78,1689.11 L1617.69,1689.12 L1619.81,1689.14 L1621.94,1689.15 L1624.06,1689.15 L1626.19,1689.16 L1628.31,1689.16 L1630.44,1689.16 L1632.57,1689.17 L1634.69,1689.17 L1636.82,1689.17 L1638.94,1689.17 L1641.07,1689.17 L1643.19,1689.17 L1645.32,1689.17 L1647.45,1689.17 L1649.57,1689.16 L1651.70,1689.16 L1653.82,1689.16 L1655.95,1689.15 L1658.07,1689.14 L1658.86,1689.14 L1659.13,1689.14 L1659.39,1689.13 L1659.66,1689.13 L1659.92,1689.13 L1660.19,1689.13 L1660.20,1689.13 L1660.46,1689.13 L1660.72,1689.12 L1660.99,1689.12 L1661.25,1689.12 L1661.52,1689.11 L1661.78,1689.11 L1662.05,1689.11 L1662.32,1689.10 L1662.33,1689.10 L1662.58,1689.10 L1662.85,1689.10 L1663.11,1689.09 L1663.38,1689.09 L1663.64,1689.08 L1663.91,1689.08 L1664.18,1689.07 L1664.44,1689.06 L1664.45,1689.06 L1664.71,1689.06 L1664.97,1689.05 L1665.24,1689.04 L1665.50,1689.03 L1665.77,1689.02 L1666.04,1689.01 L1666.30,1689.00 L1666.57,1688.98 L1666.58,1688.98 L1666.83,1688.97 L1667.10,1688.95 L1667.36,1688.93 L1667.63,1688.91 L1667.90,1688.88 L1668.16,1688.85 L1668.43,1688.82 L1668.69,1688.78 L1668.70,1688.78 L1668.96,1688.74 L1669.22,1688.68 L1669.49,1688.62 L1669.76,1688.55 L1670.02,1688.46 L1670.29,1688.36 L1670.55,1688.23 L1670.82,1688.07 L1670.83,1688.06 L1671.08,1687.87 L1671.35,1687.61 L1671.62,1687.28 L1671.88,1686.84 L1672.15,1686.27 L1672.41,1685.49 L1672.68,1684.48 L1672.94,1683.19 L1672.95,1683.13 L1673.21,1681.74 L1673.48,1680.47 L1673.74,1679.95 L1674.01,1680.47 L1674.27,1681.74 L1674.54,1683.19 L1674.80,1684.48 L1675.07,1685.49 L1675.08,1685.53 L1675.34,1686.27 L1675.60,1686.85 L1675.87,1687.28 L1676.13,1687.61 L1676.40,1687.87 L1676.66,1688.07 L1676.93,1688.23 L1677.20,1688.36 L1677.21,1688.36 L1677.46,1688.47 L1677.73,1688.55 L1677.99,1688.62 L1678.26,1688.69 L1678.52,1688.74 L1678.79,1688.78 L1679.06,1688.82 L1679.32,1688.85 L1679.33,1688.85 L1679.59,1688.88 L1679.85,1688.91 L1680.12,1688.93 L1680.38,1688.95 L1680.65,1688.97 L1680.92,1688.98 L1681.18,1689.00 L1681.45,1689.01 L1681.46,1689.01 L1681.71,1689.02 L1681.98,1689.03 L1682.24,1689.04 L1682.51,1689.05 L1682.78,1689.06 L1683.04,1689.07 L1683.31,1689.07 L1683.57,1689.08 L1683.58,1689.08 L1683.84,1689.08 L1684.10,1689.09 L1684.37,1689.09 L1684.64,1689.10 L1684.90,1689.10 L1685.17,1689.11 L1685.43,1689.11 L1685.70,1689.11 L1685.71,1689.11 L1685.96,1689.12 L1686.23,1689.12 L1686.50,1689.12 L1686.76,1689.13 L1687.03,1689.13 L1687.29,1689.13 L1687.56,1689.13 L1687.82,1689.14 L1687.83,1689.14 L1688.09,1689.14 L1688.36,1689.14 L1688.62,1689.14 L1689.96,1689.15 L1692.09,1689.16 L1694.21,1689.16 L1696.34,1689.17 L1698.46,1689.17 L1700.59,1689.17 L1702.71,1689.18 L1704.84,1689.18 L1706.97,1689.18 L1709.09,1689.18 L1711.22,1689.18 L1713.34,1689.18 L1715.47,1689.18 L1717.59,1689.18 L1719.72,1689.18 L1721.85,1689.18 L1723.97,1689.18 L1726.10,1689.17 L1728.22,1689.17 L1729.71,1689.17 L1729.98,1689.17 L1730.24,1689.17 L1730.35,1689.17 L1730.51,1689.16 L1730.77,1689.16 L1731.04,1689.16 L1731.31,1689.16 L1731.57,1689.16 L1731.84,1689.16 L1732.10,1689.16 L1732.37,1689.16 L1732.47,1689.16 L1732.63,1689.16 L1732.90,1689.15 L1733.17,1689.15 L1733.43,1689.15 L1733.70,1689.15 L1733.96,1689.15 L1734.23,1689.14 L1734.49,1689.14 L1734.60,1689.14 L1734.76,1689.14 L1735.03,1689.14 L1735.29,1689.13 L1735.56,1689.13 L1735.82,1689.13 L1736.09,1689.12 L1736.35,1689.12 L1736.62,1689.11 L1736.73,1689.11 L1736.89,1689.11 L1737.15,1689.10 L1737.42,1689.09 L1737.68,1689.09 L1737.95,1689.08 L1738.21,1689.07 L1738.48,1689.06 L1738.75,1689.05 L1738.85,1689.04 L1739.01,1689.03 L1739.28,1689.02 L1739.54,1689.00 L1739.81,1688.98 L1740.07,1688.96 L1740.34,1688.93 L1740.61,1688.89 L1740.87,1688.85 L1740.98,1688.84 L1741.14,1688.81 L1741.40,1688.75 L1741.67,1688.67 L1741.93,1688.58 L1742.20,1688.46 L1742.47,1688.31 L1742.73,1688.10 L1743.00,1687.84 L1743.10,1687.70 L1743.26,1687.48 L1743.53,1687.01 L1743.79,1686.41 L1744.06,1685.74 L1744.13,1685.55 L1744.33,1685.15 L1744.40,1685.04 L1744.59,1684.91 L1744.67,1684.93 L1744.86,1685.15 L1744.93,1685.29 L1745.12,1685.74 L1745.20,1685.93 L1745.23,1686.01 L1745.39,1686.41 L1745.46,1686.59 L1745.65,1687.00 L1745.73,1687.15 L1745.92,1687.48 L1745.99,1687.59 L1746.19,1687.83 L1746.26,1687.92 L1746.45,1688.10 L1746.53,1688.16 L1746.72,1688.30 L1746.79,1688.35 L1746.98,1688.46 L1747.06,1688.49 L1747.25,1688.57 L1747.32,1688.60 L1747.35,1688.61 L1747.51,1688.67 L1747.59,1688.69 L1747.78,1688.74 L1747.85,1688.76 L1748.05,1688.80 L1748.12,1688.82 L1748.31,1688.85 L1748.39,1688.86 L1748.58,1688.89 L1748.65,1688.90 L1748.84,1688.92 L1748.92,1688.93 L1749.11,1688.95 L1749.18,1688.96 L1749.37,1688.97 L1749.45,1688.98 L1749.48,1688.98 L1749.64,1688.99 L1749.71,1689.00 L1749.91,1689.01 L1749.98,1689.01 L1750.17,1689.02 L1750.25,1689.03 L1750.44,1689.04 L1750.51,1689.04 L1750.70,1689.05 L1750.78,1689.05 L1750.97,1689.06 L1751.04,1689.06 L1751.23,1689.06 L1751.31,1689.07 L1751.50,1689.07 L1751.57,1689.07 L1751.61,1689.07 L1751.77,1689.08 L1751.84,1689.08 L1752.03,1689.08 L1752.11,1689.08 L1752.30,1689.09 L1752.37,1689.09 L1752.56,1689.09 L1752.64,1689.09 L1752.83,1689.09 L1752.90,1689.09 L1753.09,1689.10 L1753.17,1689.10 L1753.36,1689.10 L1753.43,1689.10 L1753.63,1689.10 L1753.70,1689.10 L1753.73,1689.10 L1753.89,1689.10 L1753.97,1689.10 L1754.16,1689.10 L1754.23,1689.09 L1754.42,1689.09 L1754.50,1689.09 L1754.69,1689.09 L1754.76,1689.09 L1754.95,1689.09 L1755.03,1689.08 L1755.22,1689.08 L1755.29,1689.08 L1755.49,1689.07 L1755.56,1689.07 L1755.75,1689.06 L1755.83,1689.06 L1755.86,1689.06 L1756.02,1689.05 L1756.09,1689.04 L1756.28,1689.03 L1756.36,1689.03 L1756.55,1689.01 L1756.62,1689.00 L1756.81,1688.98 L1756.89,1688.97 L1757.08,1688.94 L1757.15,1688.93 L1757.35,1688.89 L1757.42,1688.87 L1757.61,1688.82 L1757.69,1688.79 L1757.88,1688.72 L1757.95,1688.69 L1757.98,1688.68 L1758.14,1688.60 L1758.22,1688.56 L1758.41,1688.46 L1758.48,1688.42 L1758.67,1688.32 L1758.75,1688.29 L1758.94,1688.24 L1759.01,1688.24 L1759.21,1688.27 L1759.28,1688.29 L1759.47,1688.38 L1759.55,1688.42 L1759.81,1688.57 L1760.08,1688.70 L1760.11,1688.71 L1760.34,1688.80 L1760.61,1688.88 L1760.87,1688.94 L1761.14,1688.98 L1761.41,1689.02 L1761.67,1689.04 L1761.94,1689.07 L1762.20,1689.08 L1762.23,1689.08 L1762.47,1689.10 L1762.73,1689.11 L1763.00,1689.12 L1763.27,1689.12 L1763.53,1689.13 L1763.80,1689.14 L1764.06,1689.14 L1764.33,1689.14 L1764.36,1689.14 L1764.59,1689.15 L1764.86,1689.15 L1765.13,1689.15 L1765.39,1689.16 L1765.66,1689.16 L1765.92,1689.16 L1766.19,1689.16 L1766.45,1689.16 L1766.49,1689.16 L1766.72,1689.17 L1766.99,1689.17 L1767.25,1689.17 L1767.52,1689.17 L1767.78,1689.17 L1768.05,1689.17 L1768.31,1689.17 L1768.58,1689.17 L1768.61,1689.17 L1768.85,1689.18 L1769.11,1689.18 L1769.38,1689.18 L1769.64,1689.18 L1769.91,1689.18 L1770.17,1689.18 L1770.44,1689.18 L1770.71,1689.18 L1770.74,1689.18 L1770.97,1689.18 L1771.24,1689.18 L1771.50,1689.18 L1771.77,1689.18 L1772.03,1689.18 L1772.30,1689.18 L1772.57,1689.18 L1772.83,1689.18 L1772.86,1689.18 L1773.10,1689.18 L1773.36,1689.18 L1773.63,1689.18 L1773.89,1689.18 L1774.99,1689.19 L1777.11,1689.19 L1779.24,1689.19 L1781.37,1689.19 L1783.49,1689.19 L1785.62,1689.19 L1787.74,1689.19 L1789.87,1689.19 L1791.99,1689.19 L1794.12,1689.19 L1796.25,1689.19 L1798.37,1689.19 L1800.50,1689.19 L1802.62,1689.19 L1804.75,1689.19 L1806.87,1689.19 L1809.00,1689.19" stroke="#00f"/>
<path d="M321.00,1689.26 L323.13,1689.26 L325.25,1689.26 L327.38,1689.26 L329.50,1689.26 L331.63,1689.27 L333.75,1689.27 L335.88,1689.27 L338.01,1689.27 L340.13,1689.28 L342.26,1689.28 L344.38,1689.28 L346.51,1689.28 L348.63,1689.29 L350.76,1689.29 L352.89,1689.29 L355.01,1689.30 L357.14,1689.30 L359.26,1689.31 L361.39,1689.31 L363.51,1689.32 L365.64,1689.32 L367.77,1689.33 L369.89,1689.34 L372.02,1689.34 L374.14,1689.35 L376.27,1689.36 L378.39,1689.37 L380.52,1689.38 L382.65,1689.39 L384.77,1689.40 L386.90,1689.41 L389.02,1689.42 L391.15,1689.44 L393.27,1689.46 L395.40,1689.47 L397.53,1689.50 L399.65,1689.52 L401.78,1689.55 L403.90,1689.58 L406.03,1689.61 L408.15,1689.65 L410.28,1689.70 L412.41,1689.75 L414.53,1689.81 L416.66,1689.89 L418.78,1689.97 L420.91,1690.08 L423.03,1690.21 L425.16,1690.37 L427.29,1690.58 L429.41,1690.84 L431.54,1691.19 L433.66,1691.66 L435.79,1692.33 L437.49,1693.08 L437.75,1693.22 L437.91,1693.31 L438.02,1693.37 L438.29,1693.52 L438.55,1693.69 L438.82,1693.87 L439.08,1694.05 L439.35,1694.25 L439.61,1694.46 L439.88,1694.69 L440.04,1694.83 L440.15,1694.93 L440.41,1695.18 L440.68,1695.45 L440.94,1695.74 L441.21,1696.06 L441.47,1696.39 L441.74,1696.75 L442.01,1697.14 L442.17,1697.38 L442.27,1697.55 L442.54,1698.01 L442.80,1698.50 L443.07,1699.03 L443.33,1699.60 L443.60,1700.23 L443.87,1700.92 L444.13,1701.68 L444.29,1702.16 L444.40,1702.51 L444.66,1703.42 L444.93,1704.43 L445.19,1705.55 L445.46,1706.80 L445.73,1708.20 L445.99,1709.77 L446.26,1711.54 L446.42,1712.72 L446.52,1713.55 L446.79,1715.84 L447.05,1718.46 L447.32,1721.48 L447.59,1724.98 L447.85,1729.08 L448.12,1733.90 L448.38,1739.63 L448.54,1743.60 L448.65,1746.51 L448.91,1754.84 L449.18,1765.05 L449.45,1777.73 L449.71,1793.66 L449.98,1813.99 L450.24,1840.29 L450.51,1874.81 L450.67,1900.71 L450.77,1920.63 L451.04,1981.76 L451.31,2062.41 L451.57,2164.27 L451.84,2279.31 L452.10,2379.63 L452.37,2421.11 L452.63,2379.63 L452.79,2323.56 L452.90,2279.31 L453.17,2164.27 L453.43,2062.41 L453.70,1981.76 L453.96,1920.63 L454.23,1874.81 L454.49,1840.29 L454.76,1813.99 L454.92,1801.19 L455.03,1793.66 L455.29,1777.73 L455.56,1765.05 L455.82,1754.84 L456.09,1746.51 L456.35,1739.63 L456.62,1733.90 L456.89,1729.08 L457.05,1726.54 L457.15,1724.98 L457.42,1721.48 L457.68,1718.46 L457.95,1715.84 L458.21,1713.55 L458.48,1711.54 L458.75,1709.77 L459.01,1708.20 L459.17,1707.35 L459.28,1706.81 L459.54,1705.55 L459.81,1704.43 L460.07,1703.42 L460.34,1702.51 L460.61,1701.68 L460.87,1700.92 L461.14,1700.23 L461.30,1699.85 L461.40,1699.61 L461.67,1699.03 L461.93,1698.50 L462.20,1698.01 L462.47,1697.56 L462.73,1697.14 L463.00,1696.75 L463.26,1696.39 L463.42,1696.19 L463.53,1696.06 L463.79,1695.75 L464.06,1695.46 L464.33,1695.18 L464.59,1694.93 L464.86,1694.69 L465.12,1694.47 L465.39,1694.26 L465.55,1694.14 L465.65,1694.06 L465.92,1693.87 L466.19,1693.69 L466.45,1693.53 L466.72,1693.37 L466.98,1693.22 L467.25,1693.08 L467.67,1692.87 L469.80,1692.04 L471.93,1691.46 L474.05,1691.04 L476.18,1690.73 L478.30,1690.49 L480.43,1690.31 L482.55,1690.16 L484.68,1690.04 L486.81,1689.94 L488.93,1689.86 L491.06,1689.79 L493.18,1689.74 L495.31,1689.69 L497.43,1689.65 L499.56,1689.61 L501.69,1689.58 L503.81,1689.55 L505.94,1689.52 L508.06,1689.50 L510.19,1689.48 L512.31,1689.47 L514.44,1689.45 L516.57,1689.44 L518.69,1689.42 L520.82,1689.41 L522.94,1689.40 L525.07,1689.39 L527.19,1689.38 L529.32,1689.38 L531.45,1689.37 L533.57,1689.36 L535.70,1689.36 L537.82,1689.35 L539.95,1689.35 L542.07,1689.35 L544.20,1689.34 L546.33,1689.34 L548.45,1689.34 L550.58,1689.33 L552.70,1689.33 L554.83,1689.33 L556.95,1689.33 L559.08,1689.33 L561.21,1689.33 L563.33,1689.33 L565.46,1689.33 L567.58,1689.33 L569.71,1689.33 L571.83,1689.33 L573.96,1689.33 L576.09,1689.34 L578.21,1689.34 L580.34,1689.34 L582.46,1689.35 L584.59,1689.35 L586.71,1689.36 L588.84,1689.36 L590.97,1689.37 L593.09,1689.38 L595.22,1689.39 L597.34,1689.41 L599.47,1689.43 L601.59,1689.45 L603.72,1689.47 L605.85,1689.50 L607.97,1689.54 L610.10,1689.59 L612.22,1689.65 L614.35,1689.74 L616.47,1689.85 L618.49,1690.01 L618.60,1690.02 L618.76,1690.04 L619.03,1690.07 L619.29,1690.10 L619.56,1690.13 L619.82,1690.16 L620.09,1690.19 L620.35,1690.23 L620.62,1690.27 L620.73,1690.29 L620.89,1690.31 L621.15,1690.35 L621.42,1690.40 L621.68,1690.45 L621.95,1690.50 L622.21,1690.56 L622.48,1690.62 L622.75,1690.69 L622.85,1690.72 L623.01,1690.76 L623.28,1690.83 L623.54,1690.92 L623.81,1691.01 L624.07,1691.10 L624.34,1691.21 L624.61,1691.32 L624.87,1691.45 L624.98,1691.50 L625.14,1691.58 L625.40,1691.73 L625.67,1691.90 L625.93,1692.08 L626.20,1692.28 L626.47,1692.51 L626.73,1692.76 L627.00,1693.05 L627.10,1693.17 L627.26,1693.37 L627.53,1693.73 L627.79,1694.14 L628.06,1694.61 L628.33,1695.16 L628.59,1695.79 L628.86,1696.52 L629.12,1697.39 L629.23,1697.78 L629.39,1698.42 L629.65,1699.66 L629.92,1701.16 L630.19,1703.00 L630.45,1705.28 L630.72,1708.14 L630.98,1711.79 L631.25,1716.52 L631.35,1718.80 L631.51,1722.73 L631.78,1730.96 L632.05,1741.94 L632.31,1756.44 L632.58,1774.74 L632.84,1795.41 L633.11,1813.44 L633.37,1820.89 L633.48,1819.64 L633.64,1813.44 L633.91,1795.42 L634.17,1774.75 L634.44,1756.46 L634.70,1741.97 L634.97,1730.99 L635.23,1722.76 L635.50,1716.56 L635.61,1714.52 L635.77,1711.84 L636.03,1708.19 L636.30,1705.33 L636.56,1703.06 L636.83,1701.22 L637.09,1699.73 L637.36,1698.50 L637.63,1697.47 L637.73,1697.11 L637.89,1696.61 L638.16,1695.88 L638.42,1695.25 L638.69,1694.71 L638.95,1694.25 L639.22,1693.84 L639.49,1693.48 L639.75,1693.17 L639.86,1693.06 L640.02,1692.89 L640.28,1692.65 L640.55,1692.43 L640.81,1692.23 L641.08,1692.05 L641.35,1691.90 L641.61,1691.75 L641.88,1691.62 L641.98,1691.57 L642.14,1691.51 L642.41,1691.40 L642.67,1691.30 L642.94,1691.21 L643.21,1691.13 L643.47,1691.06 L643.74,1690.99 L644.00,1690.93 L644.11,1690.90 L644.27,1690.87 L644.53,1690.82 L644.80,1690.77 L645.07,1690.73 L645.33,1690.69 L645.60,1690.65 L645.86,1690.62 L646.13,1690.59 L646.23,1690.58 L646.39,1690.56 L646.66,1690.54 L646.93,1690.52 L647.19,1690.50 L647.46,1690.48 L647.72,1690.46 L647.99,1690.45 L648.25,1690.44 L648.36,1690.44 L650.49,1690.42 L651.65,1690.46 L651.92,1690.47 L652.19,1690.49 L652.45,1690.51 L652.61,1690.52 L652.72,1690.53 L652.98,1690.55 L653.25,1690.58 L653.51,1690.61 L653.78,1690.64 L654.05,1690.68 L654.31,1690.71 L654.58,1690.75 L654.74,1690.78 L654.84,1690.80 L655.11,1690.85 L655.37,1690.90 L655.64,1690.96 L655.91,1691.02 L656.17,1691.09 L656.44,1691.17 L656.70,1691.25 L656.86,1691.30 L656.97,1691.34 L657.23,1691.43 L657.50,1691.54 L657.77,1691.66 L658.03,1691.79 L658.30,1691.93 L658.56,1692.09 L658.83,1692.26 L658.99,1692.38 L659.09,1692.46 L659.36,1692.67 L659.63,1692.91 L659.89,1693.18 L660.16,1693.48 L660.42,1693.82 L660.69,1694.21 L660.95,1694.66 L661.11,1694.95 L661.22,1695.17 L661.49,1695.75 L661.75,1696.44 L662.02,1697.23 L662.28,1698.18 L662.55,1699.29 L662.81,1700.64 L663.08,1702.27 L663.24,1703.41 L663.35,1704.26 L663.61,1706.74 L663.88,1709.86 L664.14,1713.83 L664.41,1718.98 L664.67,1725.73 L664.94,1734.70 L665.21,1746.67 L665.37,1755.63 L665.47,1762.45 L665.74,1782.39 L666.00,1804.91 L666.27,1824.54 L666.53,1832.66 L666.80,1824.54 L667.07,1804.90 L667.33,1782.38 L667.49,1769.94 L667.60,1762.43 L667.86,1746.64 L668.13,1734.67 L668.39,1725.70 L668.66,1718.94 L668.93,1713.79 L669.19,1709.81 L669.46,1706.69 L669.62,1705.13 L669.72,1704.21 L669.99,1702.21 L670.25,1700.57 L670.52,1699.23 L670.79,1698.10 L671.05,1697.16 L671.32,1696.35 L671.58,1695.67 L671.74,1695.30 L671.85,1695.07 L672.11,1694.56 L672.38,1694.11 L672.65,1693.72 L672.91,1693.37 L673.18,1693.06 L673.44,1692.78 L673.71,1692.54 L673.87,1692.40 L673.97,1692.32 L674.24,1692.12 L674.51,1691.94 L674.77,1691.77 L675.04,1691.63 L675.30,1691.49 L675.57,1691.37 L675.83,1691.25 L675.99,1691.19 L676.10,1691.15 L676.37,1691.05 L676.63,1690.96 L676.90,1690.88 L677.16,1690.80 L677.43,1690.73 L677.69,1690.66 L677.96,1690.60 L678.12,1690.57 L678.23,1690.54 L678.49,1690.49 L678.76,1690.44 L679.02,1690.39 L679.29,1690.35 L679.55,1690.30 L679.82,1690.26 L680.09,1690.23 L680.25,1690.21 L680.35,1690.19 L680.62,1690.16 L680.88,1690.13 L681.15,1690.10 L681.41,1690.07 L682.37,1689.98 L684.50,1689.83 L686.62,1689.72 L688.75,1689.64 L690.87,1689.58 L693.00,1689.53 L695.13,1689.50 L697.25,1689.47 L699.38,1689.44 L701.50,1689.42 L703.63,1689.41 L705.75,1689.39 L707.88,1689.38 L710.01,1689.37 L712.13,1689.37 L714.26,1689.36 L716.38,1689.35 L718.51,1689.35 L720.63,1689.35 L722.76,1689.34 L724.89,1689.34 L727.01,1689.34 L729.14,1689.34 L731.26,1689.34 L733.39,1689.34 L735.51,1689.34 L737.64,1689.34 L739.77,1689.34 L741.89,1689.35 L744.02,1689.35 L746.14,1689.36 L748.27,1689.36 L750.39,1689.37 L752.52,1689.38 L754.65,1689.38 L756.77,1689.40 L758.90,1689.41 L761.02,1689.42 L763.15,1689.44 L765.27,1689.46 L767.40,1689.49 L769.53,1689.52 L771.65,1689.56 L773.78,1689.60 L775.90,1689.66 L778.03,1689.74 L780.15,1689.84 L782.28,1689.97 L784.41,1690.16 L784.67,1690.18 L784.94,1690.21 L785.20,1690.25 L785.47,1690.28 L785.73,1690.31 L786.00,1690.35 L786.27,1690.39 L786.53,1690.43 L786.80,1690.47 L787.06,1690.51 L787.33,1690.56 L787.59,1690.61 L787.86,1690.66 L788.13,1690.72 L788.39,1690.78 L788.66,1690.84 L788.92,1690.91 L789.15,1690.97 L789.19,1690.98 L789.41,1691.04 L789.45,1691.06 L789.68,1691.13 L789.72,1691.14 L789.94,1691.21 L789.99,1691.23 L790.21,1691.31 L790.25,1691.32 L790.47,1691.41 L790.52,1691.42 L790.74,1691.51 L790.78,1691.53 L791.01,1691.63 L791.05,1691.65 L791.27,1691.76 L791.31,1691.78 L791.54,1691.90 L791.58,1691.92 L791.80,1692.04 L791.85,1692.07 L792.07,1692.21 L792.11,1692.24 L792.33,1692.39 L792.38,1692.42 L792.60,1692.58 L792.64,1692.62 L792.87,1692.80 L792.91,1692.83 L793.13,1693.04 L793.17,1693.08 L793.40,1693.30 L793.44,1693.35 L793.66,1693.60 L793.71,1693.65 L793.93,1693.93 L793.97,1693.98 L794.19,1694.30 L794.24,1694.36 L794.46,1694.72 L794.50,1694.79 L794.73,1695.20 L794.77,1695.28 L794.99,1695.75 L795.03,1695.85 L795.26,1696.39 L795.30,1696.50 L795.52,1697.13 L795.57,1697.26 L795.79,1698.00 L795.83,1698.16 L796.05,1699.04 L796.10,1699.22 L796.32,1700.28 L796.36,1700.50 L796.59,1701.79 L796.63,1702.06 L796.85,1703.65 L796.89,1703.99 L797.12,1705.98 L797.16,1706.41 L797.38,1708.93 L797.43,1709.48 L797.65,1712.74 L797.69,1713.45 L797.91,1717.72 L797.96,1718.65 L798.18,1724.27 L798.22,1725.50 L798.45,1732.86 L798.49,1734.45 L798.71,1743.75 L798.75,1745.69 L798.98,1756.36 L799.02,1758.41 L799.24,1768.18 L799.29,1769.70 L799.51,1774.72 L799.55,1775.01 L799.77,1772.86 L799.82,1771.84 L800.04,1764.41 L800.08,1762.76 L800.31,1754.00 L800.35,1752.42 L800.57,1745.01 L800.61,1743.81 L800.84,1738.63 L800.88,1737.87 L801.10,1734.92 L801.15,1734.56 L801.37,1733.64 L801.41,1733.64 L801.63,1734.61 L801.68,1734.98 L801.90,1737.89 L801.94,1738.64 L802.17,1743.74 L802.21,1744.95 L802.43,1752.70 L802.47,1754.48 L802.70,1765.60 L802.74,1768.09 L802.96,1783.31 L803.01,1786.63 L803.23,1806.18 L803.27,1810.24 L803.49,1832.28 L803.54,1836.40 L803.76,1855.07 L803.80,1857.72 L804.03,1864.23 L804.07,1863.89 L804.29,1854.12 L804.33,1850.96 L804.56,1830.34 L804.60,1825.98 L804.82,1803.17 L804.87,1799.03 L805.09,1779.13 L805.13,1775.74 L805.35,1760.07 L805.40,1757.47 L805.62,1745.60 L805.66,1743.64 L805.89,1734.72 L805.93,1733.24 L806.15,1726.50 L806.19,1725.38 L806.42,1720.21 L806.46,1719.35 L806.68,1715.34 L806.73,1714.66 L806.95,1711.50 L806.99,1710.97 L807.21,1708.44 L807.26,1708.01 L807.48,1705.96 L807.52,1705.61 L807.75,1703.93 L807.79,1703.64 L808.01,1702.24 L808.05,1702.00 L808.28,1700.83 L808.32,1700.63 L808.54,1699.64 L808.59,1699.47 L808.81,1698.62 L808.85,1698.48 L809.07,1697.75 L809.12,1697.62 L809.34,1696.99 L809.38,1696.88 L809.61,1696.34 L809.65,1696.24 L809.87,1695.76 L809.91,1695.67 L810.14,1695.25 L810.18,1695.17 L810.40,1694.80 L810.45,1694.73 L810.67,1694.40 L810.71,1694.34 L810.93,1694.04 L810.98,1693.98 L811.20,1693.71 L811.24,1693.67 L811.47,1693.42 L811.51,1693.38 L811.73,1693.16 L811.77,1693.12 L812.00,1692.92 L812.04,1692.89 L812.26,1692.71 L812.31,1692.67 L812.53,1692.51 L812.57,1692.48 L812.79,1692.33 L812.84,1692.30 L813.06,1692.16 L813.10,1692.13 L813.33,1692.01 L813.37,1691.98 L813.59,1691.87 L813.63,1691.84 L813.86,1691.73 L813.90,1691.71 L814.12,1691.61 L814.17,1691.60 L814.39,1691.50 L814.43,1691.48 L814.65,1691.40 L814.92,1691.30 L815.19,1691.21 L815.45,1691.12 L815.72,1691.05 L815.98,1690.97 L816.25,1690.90 L816.29,1690.89 L816.51,1690.84 L816.78,1690.77 L817.05,1690.72 L817.31,1690.66 L817.58,1690.61 L817.84,1690.56 L818.11,1690.51 L818.37,1690.47 L818.42,1690.46 L818.64,1690.43 L818.91,1690.39 L820.54,1690.18 L822.67,1689.99 L824.79,1689.85 L826.92,1689.75 L829.05,1689.67 L831.17,1689.61 L833.30,1689.57 L835.42,1689.53 L837.55,1689.50 L839.67,1689.47 L841.80,1689.45 L843.93,1689.43 L846.05,1689.42 L848.18,1689.40 L850.30,1689.39 L852.43,1689.38 L854.55,1689.38 L856.68,1689.37 L858.81,1689.36 L860.93,1689.36 L863.06,1689.36 L865.18,1689.35 L867.31,1689.35 L869.43,1689.35 L871.56,1689.35 L873.69,1689.35 L875.81,1689.36 L877.94,1689.36 L880.06,1689.36 L882.19,1689.37 L884.31,1689.37 L886.44,1689.38 L888.57,1689.39 L890.69,1689.40 L892.82,1689.41 L894.94,1689.42 L897.07,1689.44 L899.19,1689.46 L901.32,1689.49 L903.45,1689.52 L905.57,1689.56 L907.70,1689.61 L909.82,1689.67 L911.95,1689.75 L914.07,1689.87 L916.20,1690.02 L918.33,1690.25 L918.42,1690.27 L918.69,1690.30 L918.95,1690.34 L919.22,1690.38 L919.48,1690.43 L919.75,1690.47 L920.02,1690.52 L920.28,1690.57 L920.45,1690.61 L920.55,1690.63 L920.81,1690.68 L921.08,1690.75 L921.34,1690.81 L921.61,1690.88 L921.88,1690.96 L922.14,1691.04 L922.41,1691.12 L922.58,1691.18 L922.67,1691.22 L922.94,1691.32 L923.20,1691.43 L923.47,1691.54 L923.74,1691.67 L924.00,1691.81 L924.27,1691.96 L924.53,1692.12 L924.70,1692.23 L924.80,1692.30 L925.06,1692.49 L925.33,1692.71 L925.60,1692.94 L925.86,1693.21 L926.13,1693.50 L926.39,1693.82 L926.66,1694.18 L926.83,1694.44 L926.92,1694.59 L927.19,1695.05 L927.46,1695.57 L927.72,1696.16 L927.99,1696.84 L928.25,1697.62 L928.52,1698.53 L928.78,1699.59 L928.95,1700.36 L929.05,1700.83 L929.32,1702.32 L929.58,1704.10 L929.85,1706.25 L930.11,1708.90 L930.38,1712.18 L930.64,1716.30 L930.91,1721.56 L931.08,1725.71 L931.18,1728.37 L931.44,1737.30 L931.71,1749.17 L931.97,1764.99 L932.24,1785.86 L932.50,1812.22 L932.77,1842.00 L933.04,1867.96 L933.21,1877.23 L933.30,1878.70 L933.57,1867.96 L933.83,1842.00 L934.10,1812.22 L934.36,1785.86 L934.63,1764.99 L934.90,1749.17 L935.16,1737.31 L935.33,1731.31 L935.43,1728.37 L935.69,1721.56 L935.96,1716.31 L936.22,1712.18 L936.49,1708.90 L936.76,1706.26 L937.02,1704.10 L937.29,1702.32 L937.46,1701.34 L937.55,1700.84 L937.82,1699.59 L938.08,1698.53 L938.35,1697.62 L938.62,1696.84 L938.88,1696.16 L939.15,1695.57 L939.41,1695.05 L939.58,1694.75 L939.68,1694.60 L939.94,1694.19 L940.21,1693.83 L940.48,1693.51 L940.74,1693.21 L941.01,1692.95 L941.27,1692.72 L941.54,1692.50 L941.71,1692.38 L941.80,1692.31 L942.07,1692.13 L942.34,1691.97 L942.60,1691.82 L942.87,1691.68 L943.13,1691.55 L943.40,1691.44 L943.66,1691.33 L943.83,1691.27 L943.93,1691.23 L944.20,1691.14 L944.46,1691.05 L944.73,1690.97 L944.99,1690.90 L945.26,1690.83 L945.52,1690.76 L945.79,1690.70 L945.96,1690.66 L946.06,1690.64 L946.32,1690.59 L946.59,1690.54 L946.85,1690.49 L947.12,1690.44 L947.38,1690.40 L947.65,1690.36 L947.92,1690.32 L948.09,1690.30 L948.18,1690.29 L950.21,1690.06 L952.34,1689.91 L953.72,1689.83 L953.98,1689.82 L954.25,1689.81 L954.46,1689.80 L954.52,1689.79 L954.78,1689.78 L955.05,1689.77 L955.31,1689.76 L955.58,1689.75 L955.84,1689.74 L956.11,1689.73 L956.38,1689.73 L956.59,1689.72 L956.64,1689.72 L956.91,1689.71 L957.17,1689.70 L957.44,1689.70 L957.70,1689.69 L957.97,1689.68 L958.24,1689.68 L958.50,1689.67 L958.71,1689.67 L958.77,1689.67 L959.03,1689.66 L959.30,1689.66 L959.56,1689.65 L959.83,1689.65 L960.10,1689.65 L960.36,1689.64 L960.63,1689.64 L960.84,1689.64 L960.89,1689.64 L961.16,1689.64 L961.42,1689.64 L961.69,1689.64 L961.96,1689.64 L962.22,1689.64 L962.49,1689.64 L962.75,1689.65 L962.97,1689.65 L963.02,1689.65 L963.28,1689.66 L963.55,1689.67 L963.82,1689.68 L964.08,1689.69 L964.35,1689.71 L964.61,1689.72 L964.88,1689.75 L965.09,1689.77 L965.14,1689.78 L965.41,1689.82 L965.68,1689.86 L965.94,1689.92 L966.21,1690.00 L966.47,1690.10 L966.74,1690.24 L967.00,1690.42 L967.22,1690.61 L967.27,1690.66 L967.54,1690.98 L967.80,1691.38 L968.07,1691.84 L968.33,1692.24 L968.60,1692.40 L968.86,1692.23 L969.13,1691.83 L969.34,1691.46 L969.40,1691.37 L969.66,1690.96 L969.93,1690.64 L970.19,1690.39 L970.46,1690.21 L970.72,1690.07 L970.99,1689.96 L971.26,1689.88 L971.47,1689.83 L971.52,1689.82 L971.79,1689.76 L972.05,1689.72 L972.32,1689.69 L972.58,1689.66 L972.85,1689.64 L973.12,1689.61 L973.38,1689.60 L973.59,1689.58 L973.65,1689.58 L973.91,1689.57 L974.18,1689.56 L974.44,1689.55 L974.71,1689.54 L974.98,1689.53 L975.24,1689.52 L975.51,1689.52 L975.72,1689.51 L975.77,1689.51 L976.04,1689.51 L976.30,1689.50 L976.57,1689.50 L976.84,1689.49 L977.10,1689.49 L977.37,1689.49 L977.63,1689.48 L977.85,1689.48 L977.90,1689.48 L978.16,1689.48 L978.43,1689.48 L978.70,1689.47 L978.96,1689.47 L979.23,1689.47 L979.49,1689.47 L979.76,1689.47 L979.97,1689.47 L980.02,1689.47 L980.29,1689.46 L980.56,1689.46 L980.82,1689.46 L981.09,1689.46 L981.35,1689.46 L981.62,1689.46 L981.88,1689.46 L982.10,1689.46 L982.15,1689.46 L982.42,1689.46 L982.68,1689.46 L982.95,1689.46 L983.21,1689.46 L983.48,1689.46 L984.22,1689.46 L986.35,1689.46 L988.47,1689.47 L990.60,1689.47 L992.73,1689.49 L994.85,1689.51 L996.98,1689.53 L999.10,1689.56 L1001.23,1689.61 L1003.35,1689.66 L1005.48,1689.74 L1007.61,1689.85 L1009.66,1690.00 L1009.73,1690.00 L1009.92,1690.02 L1010.19,1690.05 L1010.45,1690.07 L1010.72,1690.10 L1010.99,1690.13 L1011.25,1690.16 L1011.52,1690.20 L1011.78,1690.23 L1011.86,1690.25 L1012.05,1690.27 L1012.31,1690.31 L1012.58,1690.36 L1012.85,1690.40 L1013.11,1690.45 L1013.38,1690.51 L1013.64,1690.56 L1013.91,1690.63 L1013.98,1690.64 L1014.17,1690.69 L1014.44,1690.76 L1014.71,1690.84 L1014.97,1690.92 L1015.24,1691.01 L1015.50,1691.11 L1015.77,1691.22 L1016.03,1691.34 L1016.11,1691.37 L1016.30,1691.47 L1016.57,1691.61 L1016.83,1691.76 L1017.10,1691.94 L1017.36,1692.13 L1017.63,1692.34 L1017.89,1692.58 L1018.16,1692.84 L1018.23,1692.92 L1018.43,1693.15 L1018.69,1693.49 L1018.96,1693.88 L1019.22,1694.32 L1019.49,1694.83 L1019.75,1695.43 L1020.02,1696.13 L1020.29,1696.94 L1020.36,1697.20 L1020.55,1697.92 L1020.82,1699.09 L1021.08,1700.50 L1021.35,1702.24 L1021.61,1704.39 L1021.88,1707.09 L1022.15,1710.54 L1022.41,1715.01 L1022.49,1716.49 L1022.68,1720.87 L1022.94,1728.65 L1023.21,1739.03 L1023.47,1752.72 L1023.74,1770.01 L1024.01,1789.54 L1024.27,1806.57 L1024.54,1813.61 L1024.61,1813.03 L1024.80,1806.57 L1025.07,1789.54 L1025.33,1770.01 L1025.60,1752.72 L1025.87,1739.04 L1026.13,1728.66 L1026.40,1720.88 L1026.66,1715.02 L1026.74,1713.65 L1026.93,1710.56 L1027.19,1707.11 L1027.46,1704.41 L1027.73,1702.26 L1027.99,1700.53 L1028.26,1699.11 L1028.52,1697.95 L1028.79,1696.97 L1028.86,1696.73 L1029.05,1696.16 L1029.32,1695.46 L1029.59,1694.87 L1029.85,1694.36 L1030.12,1693.92 L1030.38,1693.53 L1030.65,1693.19 L1030.91,1692.89 L1030.99,1692.81 L1031.18,1692.63 L1031.45,1692.39 L1031.71,1692.18 L1031.98,1691.99 L1032.24,1691.82 L1032.51,1691.67 L1032.77,1691.53 L1033.04,1691.40 L1033.11,1691.37 L1033.31,1691.29 L1033.57,1691.18 L1033.84,1691.08 L1034.10,1691.00 L1034.37,1690.91 L1034.63,1690.84 L1034.90,1690.77 L1035.17,1690.71 L1035.24,1690.69 L1035.43,1690.65 L1035.70,1690.59 L1035.96,1690.54 L1036.23,1690.49 L1036.49,1690.45 L1036.76,1690.41 L1037.03,1690.37 L1037.29,1690.34 L1037.37,1690.33 L1037.56,1690.30 L1037.82,1690.27 L1038.09,1690.24 L1038.35,1690.21 L1038.62,1690.19 L1038.89,1690.16 L1039.15,1690.14 L1039.42,1690.12 L1039.49,1690.12 L1041.62,1689.99 L1043.74,1689.91 L1045.87,1689.87 L1047.99,1689.86 L1050.12,1689.87 L1052.25,1689.91 L1054.37,1689.98 L1056.50,1690.08 L1058.62,1690.24 L1058.88,1690.27 L1059.14,1690.29 L1059.41,1690.32 L1059.68,1690.35 L1059.94,1690.38 L1060.21,1690.42 L1060.47,1690.45 L1060.74,1690.49 L1060.75,1690.49 L1061.00,1690.53 L1061.27,1690.57 L1061.54,1690.62 L1061.80,1690.67 L1062.07,1690.72 L1062.33,1690.78 L1062.60,1690.84 L1062.86,1690.90 L1062.87,1690.91 L1063.13,1690.97 L1063.40,1691.05 L1063.66,1691.13 L1063.93,1691.21 L1064.19,1691.31 L1064.46,1691.41 L1064.72,1691.52 L1064.99,1691.64 L1065.00,1691.65 L1065.26,1691.77 L1065.52,1691.92 L1065.79,1692.08 L1066.05,1692.25 L1066.32,1692.44 L1066.58,1692.66 L1066.85,1692.89 L1067.12,1693.16 L1067.13,1693.17 L1067.38,1693.46 L1067.65,1693.80 L1067.91,1694.18 L1068.18,1694.61 L1068.44,1695.11 L1068.71,1695.68 L1068.98,1696.34 L1069.24,1697.12 L1069.25,1697.15 L1069.51,1698.03 L1069.77,1699.11 L1070.04,1700.41 L1070.30,1701.98 L1070.57,1703.91 L1070.84,1706.30 L1071.10,1709.30 L1071.37,1713.13 L1071.38,1713.30 L1071.63,1718.08 L1071.90,1724.58 L1072.16,1733.21 L1072.43,1744.72 L1072.70,1759.90 L1072.96,1779.07 L1073.23,1800.72 L1073.49,1819.60 L1073.50,1820.18 L1073.76,1827.41 L1074.02,1819.61 L1074.29,1800.75 L1074.56,1779.11 L1074.82,1759.95 L1075.09,1744.79 L1075.35,1733.30 L1075.62,1724.69 L1075.63,1724.39 L1075.88,1718.20 L1076.15,1713.26 L1076.42,1709.45 L1076.68,1706.46 L1076.95,1704.09 L1077.21,1702.18 L1077.48,1700.62 L1077.74,1699.34 L1077.75,1699.29 L1078.01,1698.28 L1078.28,1697.38 L1078.54,1696.62 L1078.81,1695.98 L1079.07,1695.42 L1079.34,1694.95 L1079.60,1694.53 L1079.87,1694.17 L1079.88,1694.16 L1080.14,1693.86 L1080.40,1693.58 L1080.67,1693.33 L1080.93,1693.12 L1081.20,1692.93 L1081.46,1692.76 L1081.73,1692.61 L1082.00,1692.47 L1082.01,1692.47 L1082.26,1692.36 L1082.53,1692.25 L1082.79,1692.16 L1083.06,1692.08 L1083.32,1692.01 L1083.59,1691.94 L1083.86,1691.89 L1084.12,1691.84 L1084.13,1691.84 L1084.39,1691.81 L1084.65,1691.77 L1084.92,1691.75 L1085.18,1691.73 L1085.45,1691.72 L1085.48,1691.72 L1085.72,1691.71 L1085.75,1691.71 L1085.98,1691.71 L1086.01,1691.71 L1086.25,1691.72 L1086.26,1691.72 L1086.28,1691.72 L1086.51,1691.73 L1086.54,1691.73 L1086.78,1691.74 L1086.81,1691.75 L1087.04,1691.77 L1087.08,1691.77 L1087.31,1691.79 L1087.34,1691.80 L1087.58,1691.83 L1087.61,1691.83 L1087.84,1691.87 L1087.87,1691.87 L1088.11,1691.91 L1088.14,1691.92 L1088.37,1691.97 L1088.38,1691.97 L1088.40,1691.97 L1088.64,1692.02 L1088.67,1692.03 L1088.94,1692.10 L1089.20,1692.18 L1089.47,1692.26 L1089.73,1692.35 L1090.00,1692.46 L1090.26,1692.57 L1090.51,1692.69 L1090.53,1692.70 L1090.80,1692.83 L1091.06,1692.99 L1091.33,1693.15 L1091.59,1693.34 L1091.86,1693.54 L1092.12,1693.77 L1092.39,1694.02 L1092.63,1694.27 L1092.66,1694.30 L1092.92,1694.61 L1093.19,1694.95 L1093.45,1695.34 L1093.72,1695.77 L1093.98,1696.26 L1094.25,1696.81 L1094.52,1697.44 L1094.76,1698.10 L1094.78,1698.16 L1095.05,1698.98 L1095.31,1699.94 L1095.58,1701.04 L1095.84,1702.33 L1096.11,1703.86 L1096.38,1705.67 L1096.64,1707.85 L1096.89,1710.26 L1096.91,1710.49 L1097.17,1713.73 L1097.44,1717.75 L1097.70,1722.80 L1097.97,1729.25 L1098.24,1737.60 L1098.50,1748.56 L1098.77,1763.10 L1099.01,1780.75 L1099.03,1782.51 L1099.30,1808.12 L1099.56,1840.46 L1099.83,1876.99 L1100.10,1908.84 L1100.36,1922.01 L1100.63,1908.83 L1100.89,1876.97 L1101.14,1843.28 L1101.16,1840.44 L1101.42,1808.09 L1101.69,1782.48 L1101.96,1763.07 L1102.22,1748.52 L1102.49,1737.55 L1102.75,1729.20 L1103.02,1722.75 L1103.26,1718.05 L1103.28,1717.68 L1103.55,1713.66 L1103.82,1710.42 L1104.08,1707.77 L1104.35,1705.59 L1104.61,1703.77 L1104.88,1702.23 L1105.14,1700.93 L1105.39,1699.91 L1105.41,1699.82 L1105.68,1698.86 L1105.94,1698.03 L1106.21,1697.31 L1106.47,1696.67 L1106.74,1696.11 L1107.00,1695.62 L1107.27,1695.17 L1107.51,1694.81 L1107.54,1694.78 L1107.80,1694.42 L1108.07,1694.11 L1108.33,1693.82 L1108.60,1693.56 L1108.86,1693.32 L1109.13,1693.11 L1109.40,1692.91 L1109.64,1692.75 L1109.66,1692.73 L1109.93,1692.57 L1110.19,1692.42 L1110.46,1692.28 L1110.72,1692.16 L1110.99,1692.04 L1111.26,1691.93 L1111.52,1691.83 L1111.77,1691.75 L1111.79,1691.74 L1111.97,1691.68 L1112.05,1691.66 L1112.23,1691.60 L1112.32,1691.58 L1112.50,1691.53 L1112.58,1691.51 L1112.76,1691.46 L1112.85,1691.44 L1113.03,1691.40 L1113.12,1691.38 L1113.30,1691.34 L1113.38,1691.33 L1113.56,1691.29 L1113.65,1691.28 L1113.83,1691.25 L1113.89,1691.23 L1113.91,1691.23 L1114.09,1691.20 L1114.18,1691.19 L1114.36,1691.16 L1114.44,1691.15 L1114.62,1691.13 L1114.71,1691.12 L1114.89,1691.10 L1114.98,1691.09 L1115.16,1691.07 L1115.24,1691.06 L1115.42,1691.05 L1115.69,1691.03 L1115.95,1691.01 L1116.02,1691.01 L1116.22,1691.00 L1116.48,1690.99 L1116.75,1690.99 L1117.02,1690.98 L1117.28,1690.99 L1117.55,1691.00 L1117.81,1691.01 L1118.08,1691.03 L1118.14,1691.03 L1118.34,1691.05 L1118.61,1691.08 L1118.88,1691.11 L1119.14,1691.16 L1119.41,1691.21 L1119.67,1691.26 L1119.94,1691.33 L1120.20,1691.41 L1120.27,1691.43 L1120.47,1691.51 L1120.74,1691.61 L1121.00,1691.74 L1121.27,1691.88 L1121.53,1692.05 L1121.80,1692.25 L1122.06,1692.49 L1122.33,1692.76 L1122.39,1692.84 L1122.60,1693.09 L1122.86,1693.49 L1123.13,1693.96 L1123.39,1694.54 L1123.66,1695.25 L1123.92,1696.14 L1124.19,1697.26 L1124.46,1698.69 L1124.52,1699.09 L1124.72,1700.55 L1124.99,1702.98 L1125.25,1706.23 L1125.52,1710.55 L1125.78,1716.26 L1126.05,1723.48 L1126.32,1731.63 L1126.58,1738.74 L1126.65,1739.94 L1126.85,1741.67 L1127.11,1738.73 L1127.38,1731.60 L1127.64,1723.43 L1127.91,1716.20 L1128.18,1710.48 L1128.44,1706.13 L1128.71,1702.88 L1128.77,1702.22 L1128.97,1700.42 L1129.24,1698.55 L1129.50,1697.10 L1129.77,1695.97 L1130.04,1695.06 L1130.30,1694.33 L1130.57,1693.74 L1130.83,1693.25 L1130.90,1693.14 L1131.10,1692.83 L1131.36,1692.49 L1131.63,1692.19 L1131.90,1691.94 L1132.16,1691.72 L1132.43,1691.53 L1132.69,1691.37 L1132.96,1691.22 L1133.02,1691.19 L1133.22,1691.09 L1133.49,1690.98 L1133.76,1690.87 L1134.02,1690.78 L1134.29,1690.70 L1134.55,1690.63 L1134.82,1690.56 L1135.08,1690.50 L1135.15,1690.48 L1135.35,1690.44 L1135.62,1690.39 L1135.88,1690.34 L1136.15,1690.30 L1136.41,1690.26 L1136.68,1690.22 L1136.94,1690.19 L1137.21,1690.16 L1137.27,1690.15 L1137.48,1690.13 L1137.74,1690.10 L1138.01,1690.08 L1138.27,1690.05 L1138.54,1690.03 L1138.80,1690.01 L1139.07,1689.99 L1139.34,1689.97 L1139.40,1689.97 L1139.60,1689.96 L1139.87,1689.94 L1140.13,1689.92 L1140.40,1689.91 L1140.66,1689.90 L1140.93,1689.88 L1141.20,1689.87 L1141.46,1689.86 L1141.53,1689.86 L1141.73,1689.85 L1143.65,1689.79 L1145.78,1689.75 L1147.90,1689.73 L1150.03,1689.73 L1152.15,1689.74 L1154.28,1689.77 L1156.41,1689.81 L1158.53,1689.88 L1160.66,1689.98 L1162.78,1690.13 L1164.42,1690.30 L1164.69,1690.33 L1164.91,1690.36 L1164.95,1690.37 L1165.22,1690.41 L1165.48,1690.44 L1165.75,1690.49 L1166.01,1690.53 L1166.28,1690.58 L1166.55,1690.63 L1166.81,1690.68 L1167.03,1690.73 L1167.08,1690.74 L1167.34,1690.80 L1167.61,1690.86 L1167.87,1690.93 L1168.14,1691.00 L1168.41,1691.08 L1168.67,1691.17 L1168.94,1691.26 L1169.16,1691.34 L1169.20,1691.36 L1169.47,1691.47 L1169.73,1691.59 L1170.00,1691.71 L1170.27,1691.85 L1170.53,1692.00 L1170.80,1692.17 L1171.06,1692.35 L1171.29,1692.51 L1171.33,1692.55 L1171.59,1692.77 L1171.86,1693.01 L1172.13,1693.28 L1172.39,1693.58 L1172.66,1693.92 L1172.92,1694.29 L1173.19,1694.72 L1173.41,1695.12 L1173.45,1695.20 L1173.72,1695.75 L1173.99,1696.38 L1174.25,1697.11 L1174.52,1697.95 L1174.78,1698.94 L1175.05,1700.10 L1175.31,1701.48 L1175.54,1702.85 L1175.58,1703.13 L1175.85,1705.14 L1176.11,1707.60 L1176.38,1710.65 L1176.64,1714.48 L1176.91,1719.38 L1177.17,1725.71 L1177.44,1734.02 L1177.66,1743.07 L1177.71,1745.05 L1177.97,1759.77 L1178.24,1779.18 L1178.50,1803.71 L1178.77,1831.41 L1179.03,1855.56 L1179.30,1865.55 L1179.57,1855.56 L1179.79,1835.76 L1179.83,1831.41 L1180.10,1803.71 L1180.36,1779.18 L1180.63,1759.76 L1180.89,1745.05 L1181.16,1734.01 L1181.43,1725.70 L1181.69,1719.37 L1181.91,1715.18 L1181.96,1714.48 L1182.22,1710.64 L1182.49,1707.59 L1182.75,1705.13 L1183.02,1703.12 L1183.29,1701.47 L1183.55,1700.09 L1183.82,1698.93 L1184.04,1698.09 L1184.08,1697.94 L1184.35,1697.10 L1184.61,1696.37 L1184.88,1695.74 L1185.15,1695.19 L1185.41,1694.71 L1185.68,1694.28 L1185.94,1693.90 L1186.17,1693.62 L1186.21,1693.56 L1186.47,1693.26 L1186.74,1692.99 L1187.01,1692.75 L1187.27,1692.53 L1187.54,1692.33 L1187.80,1692.15 L1188.07,1691.98 L1188.29,1691.86 L1188.33,1691.83 L1188.60,1691.69 L1188.87,1691.57 L1189.13,1691.45 L1189.40,1691.34 L1189.66,1691.24 L1189.93,1691.15 L1190.19,1691.06 L1190.42,1690.99 L1190.46,1690.98 L1190.73,1690.91 L1190.99,1690.84 L1191.26,1690.77 L1191.52,1690.71 L1191.79,1690.65 L1192.05,1690.60 L1192.32,1690.55 L1192.54,1690.51 L1192.59,1690.50 L1192.85,1690.46 L1193.12,1690.42 L1193.38,1690.38 L1193.65,1690.34 L1193.91,1690.30 L1194.18,1690.27 L1194.67,1690.21 L1196.79,1690.02 L1198.92,1689.90 L1201.05,1689.81 L1203.17,1689.75 L1205.30,1689.72 L1207.42,1689.71 L1209.55,1689.73 L1210.66,1689.75 L1210.93,1689.76 L1211.20,1689.76 L1211.46,1689.77 L1211.67,1689.78 L1211.73,1689.78 L1211.99,1689.79 L1212.26,1689.80 L1212.52,1689.81 L1212.79,1689.82 L1213.06,1689.84 L1213.32,1689.85 L1213.59,1689.87 L1213.80,1689.88 L1213.85,1689.88 L1214.12,1689.90 L1214.38,1689.92 L1214.65,1689.94 L1214.92,1689.96 L1215.18,1689.99 L1215.45,1690.02 L1215.71,1690.05 L1215.93,1690.07 L1215.98,1690.08 L1216.24,1690.12 L1216.51,1690.16 L1216.78,1690.20 L1217.04,1690.25 L1217.31,1690.30 L1217.57,1690.36 L1217.84,1690.42 L1218.05,1690.47 L1218.10,1690.49 L1218.37,1690.57 L1218.64,1690.66 L1218.90,1690.75 L1219.17,1690.87 L1219.43,1690.99 L1219.70,1691.13 L1219.96,1691.30 L1220.18,1691.44 L1220.23,1691.48 L1220.50,1691.70 L1220.76,1691.95 L1221.03,1692.24 L1221.29,1692.59 L1221.56,1693.00 L1221.82,1693.49 L1222.09,1694.09 L1222.30,1694.66 L1222.36,1694.82 L1222.62,1695.73 L1222.89,1696.88 L1223.15,1698.34 L1223.42,1700.23 L1223.68,1702.71 L1223.95,1706.01 L1224.22,1710.40 L1224.43,1714.92 L1224.48,1716.21 L1224.75,1723.53 L1225.01,1731.81 L1225.28,1739.03 L1225.54,1742.01 L1225.81,1739.02 L1226.08,1731.80 L1226.34,1723.53 L1226.55,1717.54 L1226.61,1716.20 L1226.87,1710.39 L1227.14,1705.99 L1227.40,1702.70 L1227.67,1700.21 L1227.94,1698.32 L1228.20,1696.85 L1228.47,1695.71 L1228.68,1694.96 L1228.73,1694.79 L1229.00,1694.06 L1229.26,1693.46 L1229.53,1692.96 L1229.80,1692.55 L1230.06,1692.20 L1230.33,1691.90 L1230.59,1691.65 L1230.81,1691.47 L1230.86,1691.43 L1231.12,1691.24 L1231.39,1691.08 L1231.66,1690.93 L1231.92,1690.80 L1232.19,1690.69 L1232.45,1690.59 L1232.72,1690.50 L1232.93,1690.43 L1232.98,1690.42 L1233.25,1690.34 L1233.52,1690.28 L1233.78,1690.22 L1234.05,1690.16 L1234.31,1690.11 L1234.58,1690.07 L1234.84,1690.02 L1235.06,1689.99 L1235.11,1689.98 L1235.38,1689.95 L1235.64,1689.91 L1235.91,1689.88 L1236.17,1689.86 L1236.44,1689.83 L1236.70,1689.80 L1236.97,1689.78 L1237.18,1689.76 L1237.24,1689.76 L1237.50,1689.74 L1237.77,1689.72 L1238.03,1689.70 L1238.30,1689.69 L1238.56,1689.67 L1238.83,1689.66 L1239.10,1689.64 L1239.31,1689.63 L1239.36,1689.63 L1239.63,1689.62 L1239.89,1689.60 L1240.16,1689.59 L1240.42,1689.58 L1241.43,1689.55 L1243.56,1689.49 L1245.69,1689.45 L1247.81,1689.42 L1249.94,1689.39 L1252.06,1689.37 L1254.19,1689.36 L1256.31,1689.35 L1258.44,1689.34 L1260.57,1689.33 L1262.69,1689.32 L1264.82,1689.31 L1266.94,1689.31 L1269.07,1689.30 L1271.19,1689.30 L1273.32,1689.30 L1275.45,1689.29 L1277.57,1689.29 L1279.70,1689.29 L1281.82,1689.29 L1283.95,1689.28 L1286.07,1689.28 L1288.20,1689.28 L1290.33,1689.28 L1292.45,1689.28 L1294.58,1689.28 L1296.70,1689.28 L1298.83,1689.28 L1300.95,1689.28 L1303.08,1689.28 L1305.21,1689.28 L1307.33,1689.28 L1309.46,1689.28 L1309.61,1689.29 L1309.87,1689.29 L1310.14,1689.29 L1310.40,1689.29 L1310.67,1689.29 L1310.93,1689.29 L1311.20,1689.29 L1311.47,1689.29 L1311.58,1689.29 L1311.73,1689.29 L1312.00,1689.29 L1312.26,1689.29 L1312.53,1689.29 L1312.79,1689.29 L1313.06,1689.29 L1313.33,1689.29 L1313.59,1689.29 L1313.71,1689.29 L1313.86,1689.29 L1314.12,1689.30 L1314.39,1689.30 L1314.65,1689.30 L1314.92,1689.30 L1315.19,1689.30 L1315.45,1689.30 L1315.72,1689.30 L1315.83,1689.30 L1315.98,1689.31 L1316.25,1689.31 L1316.51,1689.31 L1316.78,1689.31 L1317.05,1689.31 L1317.31,1689.32 L1317.58,1689.32 L1317.84,1689.32 L1317.96,1689.32 L1318.11,1689.33 L1318.37,1689.33 L1318.64,1689.34 L1318.91,1689.34 L1319.17,1689.35 L1319.44,1689.35 L1319.70,1689.36 L1319.97,1689.37 L1320.09,1689.38 L1320.23,1689.38 L1320.50,1689.40 L1320.77,1689.41 L1321.03,1689.43 L1321.30,1689.46 L1321.56,1689.48 L1321.83,1689.52 L1322.09,1689.57 L1322.21,1689.59 L1322.36,1689.63 L1322.63,1689.71 L1322.89,1689.81 L1323.16,1689.95 L1323.42,1690.14 L1323.69,1690.37 L1323.95,1690.63 L1324.22,1690.86 L1324.34,1690.93 L1324.49,1690.96 L1324.75,1690.86 L1325.02,1690.63 L1325.28,1690.37 L1325.55,1690.14 L1325.81,1689.95 L1326.08,1689.82 L1326.35,1689.71 L1326.46,1689.67 L1326.61,1689.63 L1326.88,1689.57 L1327.14,1689.53 L1327.41,1689.49 L1327.67,1689.46 L1327.94,1689.44 L1328.21,1689.42 L1328.47,1689.40 L1328.59,1689.40 L1328.74,1689.39 L1329.00,1689.38 L1329.27,1689.37 L1329.53,1689.36 L1329.80,1689.36 L1330.07,1689.35 L1330.33,1689.35 L1330.60,1689.34 L1330.71,1689.34 L1330.86,1689.34 L1331.13,1689.34 L1331.39,1689.33 L1331.66,1689.33 L1331.93,1689.33 L1332.19,1689.33 L1332.46,1689.32 L1332.72,1689.32 L1332.84,1689.32 L1332.99,1689.32 L1333.25,1689.32 L1333.52,1689.32 L1333.79,1689.32 L1334.05,1689.32 L1334.32,1689.32 L1334.58,1689.32 L1334.85,1689.32 L1334.97,1689.32 L1335.11,1689.32 L1335.38,1689.31 L1335.65,1689.31 L1335.91,1689.31 L1336.18,1689.31 L1336.44,1689.31 L1336.71,1689.31 L1336.97,1689.31 L1337.09,1689.31 L1337.24,1689.31 L1337.51,1689.31 L1337.77,1689.31 L1338.04,1689.31 L1338.30,1689.31 L1338.57,1689.31 L1338.83,1689.31 L1339.10,1689.31 L1339.22,1689.31 L1339.37,1689.32 L1341.34,1689.32 L1343.47,1689.32 L1345.59,1689.33 L1347.72,1689.33 L1349.85,1689.34 L1351.97,1689.35 L1354.10,1689.36 L1356.22,1689.37 L1358.35,1689.39 L1360.47,1689.41 L1362.60,1689.43 L1364.73,1689.45 L1366.85,1689.49 L1368.98,1689.53 L1371.10,1689.57 L1373.23,1689.64 L1375.35,1689.72 L1377.48,1689.83 L1379.61,1689.98 L1381.73,1690.19 L1382.44,1690.29 L1382.71,1690.33 L1382.97,1690.37 L1383.24,1690.41 L1383.51,1690.45 L1383.77,1690.50 L1383.86,1690.52 L1384.04,1690.55 L1384.30,1690.61 L1384.57,1690.66 L1384.83,1690.73 L1385.10,1690.79 L1385.37,1690.86 L1385.63,1690.93 L1385.90,1691.01 L1385.98,1691.04 L1386.16,1691.10 L1386.43,1691.19 L1386.69,1691.29 L1386.96,1691.39 L1387.23,1691.51 L1387.49,1691.63 L1387.76,1691.76 L1388.02,1691.91 L1388.11,1691.96 L1388.29,1692.06 L1388.55,1692.24 L1388.82,1692.42 L1389.09,1692.63 L1389.35,1692.85 L1389.62,1693.10 L1389.88,1693.38 L1390.15,1693.68 L1390.23,1693.79 L1390.41,1694.03 L1390.68,1694.41 L1390.95,1694.83 L1391.21,1695.32 L1391.48,1695.86 L1391.74,1696.49 L1392.01,1697.20 L1392.27,1698.02 L1392.36,1698.31 L1392.54,1698.98 L1392.81,1700.09 L1393.07,1701.41 L1393.34,1702.97 L1393.60,1704.84 L1393.87,1707.11 L1394.13,1709.89 L1394.40,1713.34 L1394.49,1714.62 L1394.67,1717.68 L1394.93,1723.22 L1395.20,1730.38 L1395.46,1739.79 L1395.73,1752.27 L1395.99,1768.92 L1396.26,1790.88 L1396.53,1818.63 L1396.61,1828.50 L1396.79,1849.96 L1397.06,1877.29 L1397.32,1888.58 L1397.59,1877.29 L1397.85,1849.96 L1398.12,1818.63 L1398.39,1790.88 L1398.65,1768.92 L1398.74,1763.06 L1398.92,1752.27 L1399.18,1739.79 L1399.45,1730.38 L1399.71,1723.22 L1399.98,1717.68 L1400.25,1713.34 L1400.51,1709.89 L1400.78,1707.11 L1400.86,1706.33 L1401.04,1704.84 L1401.31,1702.97 L1401.57,1701.41 L1401.84,1700.09 L1402.11,1698.98 L1402.37,1698.02 L1402.64,1697.20 L1402.90,1696.49 L1402.99,1696.28 L1403.17,1695.86 L1403.43,1695.32 L1403.70,1694.84 L1403.97,1694.41 L1404.23,1694.03 L1404.50,1693.69 L1404.76,1693.38 L1405.03,1693.11 L1405.11,1693.02 L1405.29,1692.86 L1405.56,1692.63 L1405.83,1692.43 L1406.09,1692.24 L1406.36,1692.07 L1406.62,1691.91 L1406.89,1691.76 L1407.15,1691.63 L1407.24,1691.59 L1407.42,1691.51 L1407.69,1691.39 L1407.95,1691.29 L1408.22,1691.19 L1408.48,1691.10 L1408.75,1691.02 L1409.01,1690.94 L1409.28,1690.86 L1409.37,1690.84 L1409.55,1690.79 L1409.81,1690.73 L1410.08,1690.67 L1410.34,1690.61 L1410.61,1690.56 L1410.87,1690.51 L1411.14,1690.46 L1411.41,1690.41 L1411.49,1690.40 L1411.67,1690.37 L1411.94,1690.33 L1412.20,1690.29 L1413.62,1690.12 L1415.74,1689.93 L1417.87,1689.79 L1419.99,1689.70 L1422.12,1689.62 L1424.25,1689.56 L1426.37,1689.52 L1428.50,1689.48 L1430.62,1689.46 L1432.75,1689.43 L1434.87,1689.41 L1437.00,1689.40 L1439.13,1689.38 L1441.25,1689.37 L1443.38,1689.36 L1445.50,1689.36 L1447.63,1689.35 L1449.75,1689.35 L1451.88,1689.34 L1454.01,1689.34 L1456.13,1689.34 L1458.26,1689.34 L1460.38,1689.34 L1462.51,1689.34 L1464.63,1689.34 L1466.76,1689.34 L1468.89,1689.34 L1471.01,1689.35 L1473.14,1689.35 L1475.26,1689.36 L1477.39,1689.37 L1479.51,1689.38 L1481.64,1689.39 L1483.77,1689.41 L1485.89,1689.43 L1488.02,1689.46 L1490.14,1689.49 L1492.27,1689.53 L1494.39,1689.59 L1496.52,1689.67 L1498.65,1689.77 L1499.26,1689.81 L1499.53,1689.83 L1499.79,1689.85 L1500.06,1689.87 L1500.33,1689.90 L1500.59,1689.92 L1500.77,1689.94 L1500.86,1689.94 L1501.12,1689.97 L1501.39,1690.00 L1501.65,1690.03 L1501.92,1690.06 L1502.19,1690.09 L1502.45,1690.13 L1502.72,1690.16 L1502.90,1690.19 L1502.98,1690.20 L1503.25,1690.25 L1503.51,1690.29 L1503.78,1690.34 L1504.05,1690.40 L1504.31,1690.45 L1504.58,1690.52 L1504.84,1690.58 L1505.02,1690.63 L1505.11,1690.66 L1505.37,1690.74 L1505.64,1690.82 L1505.91,1690.92 L1506.17,1691.02 L1506.44,1691.14 L1506.70,1691.26 L1506.97,1691.40 L1507.15,1691.51 L1507.23,1691.56 L1507.50,1691.73 L1507.77,1691.93 L1508.03,1692.15 L1508.30,1692.39 L1508.56,1692.67 L1508.83,1693.00 L1509.09,1693.37 L1509.20,1693.53 L1509.27,1693.65 L1509.36,1693.80 L1509.47,1693.99 L1509.63,1694.30 L1509.73,1694.52 L1509.89,1694.89 L1510.00,1695.15 L1510.16,1695.58 L1510.26,1695.90 L1510.42,1696.42 L1510.53,1696.80 L1510.69,1697.43 L1510.79,1697.90 L1510.95,1698.67 L1511.06,1699.25 L1511.22,1700.21 L1511.33,1700.93 L1511.40,1701.47 L1511.49,1702.14 L1511.59,1703.05 L1511.75,1704.60 L1511.86,1705.77 L1512.02,1707.78 L1512.12,1709.31 L1512.28,1711.95 L1512.39,1713.98 L1512.55,1717.49 L1512.65,1720.19 L1512.81,1724.87 L1512.92,1728.46 L1513.08,1734.60 L1513.19,1739.23 L1513.35,1746.89 L1513.45,1752.38 L1513.53,1756.31 L1513.61,1760.77 L1513.72,1766.11 L1513.88,1772.88 L1513.98,1776.02 L1514.14,1777.90 L1514.25,1777.07 L1514.41,1772.92 L1514.51,1768.64 L1514.67,1760.85 L1514.78,1755.28 L1514.94,1747.01 L1515.05,1741.83 L1515.21,1734.76 L1515.31,1730.58 L1515.47,1725.07 L1515.58,1721.88 L1515.65,1719.85 L1515.74,1717.73 L1515.84,1715.34 L1516.00,1712.24 L1516.11,1710.45 L1516.27,1708.12 L1516.37,1706.76 L1516.53,1704.99 L1516.64,1703.95 L1516.80,1702.58 L1516.91,1701.77 L1517.07,1700.71 L1517.17,1700.07 L1517.33,1699.23 L1517.44,1698.73 L1517.60,1698.06 L1517.70,1697.65 L1517.78,1697.39 L1517.86,1697.11 L1517.97,1696.79 L1518.13,1696.36 L1518.15,1696.30 L1518.23,1696.10 L1518.39,1695.75 L1518.41,1695.70 L1518.50,1695.54 L1518.66,1695.25 L1518.68,1695.22 L1518.77,1695.09 L1518.93,1694.86 L1518.95,1694.84 L1519.03,1694.73 L1519.19,1694.56 L1519.21,1694.54 L1519.30,1694.46 L1519.46,1694.33 L1519.48,1694.32 L1519.56,1694.26 L1519.72,1694.17 L1519.74,1694.17 L1519.83,1694.13 L1519.90,1694.11 L1519.99,1694.09 L1520.01,1694.08 L1520.09,1694.07 L1520.25,1694.06 L1520.27,1694.07 L1520.36,1694.08 L1520.52,1694.11 L1520.54,1694.12 L1520.63,1694.16 L1520.79,1694.25 L1520.81,1694.26 L1520.89,1694.32 L1521.05,1694.47 L1521.07,1694.49 L1521.16,1694.59 L1521.32,1694.80 L1521.34,1694.84 L1521.42,1694.98 L1521.58,1695.28 L1521.60,1695.33 L1521.69,1695.52 L1521.85,1695.94 L1521.87,1696.01 L1521.95,1696.27 L1522.03,1696.53 L1522.11,1696.85 L1522.13,1696.94 L1522.22,1697.30 L1522.38,1698.10 L1522.40,1698.21 L1522.49,1698.71 L1522.65,1699.79 L1522.67,1699.94 L1522.75,1700.62 L1522.91,1702.06 L1522.93,1702.28 L1523.02,1703.17 L1523.18,1705.03 L1523.20,1705.30 L1523.28,1706.41 L1523.44,1708.60 L1523.46,1708.90 L1523.55,1710.08 L1523.71,1712.15 L1523.73,1712.40 L1523.81,1713.29 L1523.97,1714.39 L1523.99,1714.47 L1524.08,1714.61 L1524.15,1714.49 L1524.24,1714.10 L1524.26,1713.96 L1524.35,1713.26 L1524.51,1711.46 L1524.53,1711.18 L1524.61,1710.03 L1524.77,1707.80 L1524.79,1707.50 L1524.88,1706.34 L1525.04,1704.30 L1525.06,1704.05 L1525.14,1703.08 L1525.30,1701.45 L1525.32,1701.25 L1525.41,1700.51 L1525.57,1699.28 L1525.59,1699.13 L1525.67,1698.58 L1525.83,1697.67 L1525.85,1697.56 L1525.94,1697.15 L1526.10,1696.48 L1526.12,1696.40 L1526.21,1696.10 L1526.28,1695.85 L1526.37,1695.60 L1526.39,1695.54 L1526.47,1695.32 L1526.63,1694.96 L1526.65,1694.92 L1526.74,1694.75 L1526.90,1694.49 L1526.92,1694.46 L1527.00,1694.34 L1527.16,1694.16 L1527.18,1694.14 L1527.27,1694.06 L1527.43,1693.94 L1527.45,1693.92 L1527.53,1693.87 L1527.69,1693.80 L1527.71,1693.80 L1527.80,1693.78 L1527.96,1693.75 L1527.98,1693.75 L1528.07,1693.76 L1528.23,1693.78 L1528.25,1693.79 L1528.33,1693.81 L1528.41,1693.84 L1528.49,1693.88 L1528.51,1693.89 L1528.60,1693.94 L1528.76,1694.05 L1528.78,1694.07 L1528.86,1694.15 L1529.02,1694.32 L1529.04,1694.34 L1529.13,1694.45 L1529.31,1694.71 L1529.39,1694.85 L1529.57,1695.19 L1529.66,1695.37 L1529.84,1695.81 L1529.93,1696.05 L1530.11,1696.62 L1530.19,1696.93 L1530.37,1697.67 L1530.46,1698.07 L1530.53,1698.44 L1530.64,1699.03 L1530.72,1699.55 L1530.90,1700.82 L1530.99,1701.51 L1531.17,1703.20 L1531.25,1704.11 L1531.43,1706.37 L1531.52,1707.60 L1531.70,1710.62 L1531.79,1712.26 L1531.97,1716.24 L1532.05,1718.37 L1532.23,1723.36 L1532.32,1725.90 L1532.50,1731.41 L1532.58,1733.91 L1532.66,1735.94 L1532.76,1738.43 L1532.85,1739.94 L1533.03,1741.31 L1533.11,1740.99 L1533.29,1738.37 L1533.38,1736.41 L1533.56,1731.30 L1533.65,1728.69 L1533.83,1723.20 L1533.91,1720.75 L1534.09,1716.02 L1534.18,1714.03 L1534.36,1710.33 L1534.44,1708.82 L1534.62,1706.02 L1534.71,1704.88 L1534.78,1703.97 L1534.89,1702.78 L1534.97,1701.92 L1535.15,1700.34 L1535.24,1699.69 L1535.42,1698.48 L1535.51,1697.97 L1535.69,1697.03 L1535.77,1696.64 L1535.95,1695.90 L1536.04,1695.59 L1536.22,1695.00 L1536.30,1694.75 L1536.48,1694.27 L1536.57,1694.06 L1536.75,1693.67 L1536.83,1693.50 L1536.91,1693.36 L1537.01,1693.17 L1537.10,1693.03 L1537.28,1692.76 L1537.37,1692.64 L1537.55,1692.41 L1537.63,1692.31 L1537.81,1692.12 L1537.90,1692.03 L1538.08,1691.86 L1538.16,1691.79 L1538.34,1691.64 L1538.43,1691.57 L1538.61,1691.45 L1538.69,1691.39 L1538.87,1691.28 L1538.96,1691.23 L1539.03,1691.19 L1539.14,1691.13 L1539.41,1691.00 L1539.67,1690.88 L1539.94,1690.78 L1540.20,1690.68 L1540.47,1690.60 L1540.73,1690.52 L1541.00,1690.45 L1541.16,1690.41 L1541.27,1690.39 L1541.53,1690.33 L1541.80,1690.28 L1542.06,1690.23 L1542.33,1690.18 L1542.59,1690.14 L1542.86,1690.10 L1543.13,1690.07 L1543.29,1690.05 L1543.39,1690.04 L1543.66,1690.01 L1543.92,1689.98 L1544.19,1689.95 L1544.45,1689.93 L1544.72,1689.90 L1544.99,1689.88 L1545.25,1689.86 L1545.41,1689.85 L1545.52,1689.84 L1545.78,1689.82 L1546.05,1689.81 L1546.31,1689.79 L1546.58,1689.77 L1546.85,1689.76 L1547.11,1689.75 L1547.38,1689.73 L1547.54,1689.73 L1547.64,1689.72 L1547.91,1689.71 L1549.66,1689.65 L1551.79,1689.60 L1553.91,1689.57 L1556.04,1689.55 L1558.17,1689.54 L1560.29,1689.55 L1562.42,1689.57 L1564.54,1689.62 L1566.38,1689.67 L1566.65,1689.68 L1566.67,1689.68 L1566.91,1689.69 L1567.18,1689.71 L1567.44,1689.72 L1567.71,1689.73 L1567.98,1689.75 L1568.24,1689.76 L1568.51,1689.78 L1568.77,1689.80 L1568.79,1689.80 L1569.04,1689.82 L1569.30,1689.84 L1569.57,1689.86 L1569.84,1689.88 L1570.10,1689.91 L1570.37,1689.94 L1570.63,1689.97 L1570.90,1690.00 L1570.92,1690.00 L1571.16,1690.03 L1571.43,1690.07 L1571.70,1690.11 L1571.96,1690.15 L1572.23,1690.20 L1572.49,1690.26 L1572.76,1690.31 L1573.02,1690.38 L1573.05,1690.38 L1573.29,1690.45 L1573.56,1690.52 L1573.82,1690.61 L1574.09,1690.70 L1574.35,1690.81 L1574.62,1690.93 L1574.88,1691.06 L1575.15,1691.21 L1575.17,1691.22 L1575.42,1691.38 L1575.68,1691.57 L1575.95,1691.79 L1576.21,1692.05 L1576.48,1692.34 L1576.74,1692.69 L1577.01,1693.10 L1577.28,1693.59 L1577.30,1693.63 L1577.54,1694.17 L1577.81,1694.87 L1578.07,1695.74 L1578.34,1696.81 L1578.60,1698.17 L1578.87,1699.89 L1579.14,1702.12 L1579.40,1705.05 L1579.42,1705.32 L1579.67,1708.94 L1579.93,1714.12 L1580.20,1720.96 L1580.46,1729.60 L1580.73,1739.36 L1581.00,1747.87 L1581.26,1751.39 L1581.53,1747.87 L1581.55,1747.32 L1581.79,1739.36 L1582.06,1729.60 L1582.32,1720.96 L1582.59,1714.12 L1582.86,1708.93 L1583.12,1705.04 L1583.39,1702.11 L1583.65,1699.88 L1583.67,1699.73 L1583.92,1698.16 L1584.18,1696.81 L1584.45,1695.73 L1584.72,1694.86 L1584.98,1694.16 L1585.25,1693.57 L1585.51,1693.09 L1585.78,1692.68 L1585.80,1692.65 L1586.04,1692.33 L1586.31,1692.03 L1586.58,1691.78 L1586.84,1691.55 L1587.11,1691.36 L1587.37,1691.19 L1587.64,1691.04 L1587.90,1690.91 L1587.93,1690.90 L1588.17,1690.79 L1588.44,1690.68 L1588.70,1690.58 L1588.97,1690.50 L1589.23,1690.42 L1589.50,1690.35 L1589.76,1690.29 L1590.03,1690.23 L1590.05,1690.22 L1590.30,1690.17 L1590.56,1690.13 L1590.83,1690.08 L1591.09,1690.04 L1591.36,1690.00 L1591.62,1689.97 L1591.89,1689.93 L1592.16,1689.90 L1592.18,1689.90 L1592.42,1689.87 L1592.69,1689.85 L1592.95,1689.82 L1593.22,1689.80 L1593.48,1689.78 L1593.75,1689.76 L1594.02,1689.74 L1594.28,1689.72 L1594.30,1689.72 L1594.55,1689.70 L1594.81,1689.69 L1595.08,1689.67 L1595.34,1689.66 L1595.61,1689.65 L1595.88,1689.63 L1596.14,1689.62 L1596.43,1689.61 L1598.55,1689.54 L1600.68,1689.49 L1602.81,1689.46 L1604.93,1689.43 L1607.06,1689.41 L1609.18,1689.40 L1611.31,1689.40 L1613.43,1689.39 L1615.56,1689.39 L1617.69,1689.40 L1619.81,1689.41 L1621.94,1689.42 L1624.06,1689.44 L1626.19,1689.47 L1628.31,1689.51 L1630.44,1689.56 L1632.01,1689.62 L1632.28,1689.64 L1632.54,1689.65 L1632.57,1689.65 L1632.81,1689.66 L1633.08,1689.68 L1633.34,1689.69 L1633.61,1689.71 L1633.87,1689.73 L1634.14,1689.74 L1634.40,1689.76 L1634.67,1689.78 L1634.69,1689.79 L1634.94,1689.81 L1635.20,1689.83 L1635.47,1689.85 L1635.73,1689.88 L1636.00,1689.91 L1636.26,1689.94 L1636.53,1689.98 L1636.80,1690.01 L1636.82,1690.02 L1637.06,1690.05 L1637.33,1690.09 L1637.59,1690.14 L1637.86,1690.19 L1638.12,1690.25 L1638.39,1690.31 L1638.66,1690.37 L1638.92,1690.44 L1638.94,1690.45 L1639.19,1690.52 L1639.45,1690.61 L1639.72,1690.71 L1639.98,1690.82 L1640.25,1690.94 L1640.52,1691.08 L1640.78,1691.23 L1641.05,1691.41 L1641.07,1691.42 L1641.31,1691.61 L1641.58,1691.83 L1641.84,1692.10 L1642.11,1692.40 L1642.38,1692.76 L1642.64,1693.18 L1642.91,1693.68 L1643.17,1694.28 L1643.19,1694.33 L1643.44,1695.01 L1643.70,1695.90 L1643.97,1697.00 L1644.24,1698.39 L1644.50,1700.17 L1644.77,1702.46 L1645.03,1705.47 L1645.30,1709.47 L1645.32,1709.84 L1645.56,1714.80 L1645.83,1721.83 L1646.10,1730.71 L1646.36,1740.75 L1646.63,1749.49 L1646.89,1753.11 L1647.16,1749.49 L1647.42,1740.75 L1647.45,1739.95 L1647.69,1730.71 L1647.96,1721.83 L1648.22,1714.80 L1648.49,1709.47 L1648.75,1705.47 L1649.02,1702.46 L1649.28,1700.17 L1649.55,1698.40 L1649.57,1698.27 L1649.82,1697.01 L1650.08,1695.90 L1650.35,1695.01 L1650.61,1694.29 L1650.88,1693.69 L1651.14,1693.19 L1651.41,1692.77 L1651.68,1692.41 L1651.70,1692.38 L1651.94,1692.11 L1652.21,1691.84 L1652.47,1691.61 L1652.74,1691.42 L1653.00,1691.24 L1653.27,1691.09 L1653.54,1690.95 L1653.80,1690.83 L1653.82,1690.82 L1654.07,1690.72 L1654.33,1690.62 L1654.60,1690.53 L1654.86,1690.45 L1655.13,1690.38 L1655.40,1690.32 L1655.66,1690.26 L1655.93,1690.20 L1655.95,1690.20 L1656.19,1690.15 L1656.46,1690.11 L1656.72,1690.07 L1656.99,1690.03 L1657.26,1689.99 L1657.52,1689.96 L1657.79,1689.93 L1658.05,1689.90 L1658.07,1689.90 L1658.32,1689.87 L1658.58,1689.85 L1658.85,1689.82 L1659.12,1689.80 L1659.38,1689.78 L1659.65,1689.76 L1659.91,1689.74 L1660.18,1689.73 L1660.20,1689.73 L1660.44,1689.71 L1660.71,1689.70 L1660.98,1689.68 L1661.24,1689.67 L1661.51,1689.66 L1661.77,1689.65 L1662.33,1689.62 L1664.45,1689.56 L1666.58,1689.52 L1668.70,1689.49 L1670.83,1689.47 L1672.95,1689.47 L1675.08,1689.46 L1677.21,1689.47 L1679.33,1689.48 L1681.46,1689.49 L1683.58,1689.52 L1685.71,1689.55 L1687.83,1689.59 L1689.96,1689.65 L1692.09,1689.73 L1694.21,1689.85 L1696.34,1690.01 L1697.40,1690.12 L1697.67,1690.15 L1697.93,1690.18 L1698.20,1690.22 L1698.46,1690.25 L1698.73,1690.29 L1698.99,1690.33 L1699.26,1690.38 L1699.53,1690.42 L1699.79,1690.47 L1700.06,1690.52 L1700.32,1690.58 L1700.59,1690.64 L1700.85,1690.71 L1701.12,1690.77 L1701.39,1690.85 L1701.65,1690.93 L1701.92,1691.01 L1702.18,1691.11 L1702.45,1691.21 L1702.71,1691.31 L1702.98,1691.43 L1703.25,1691.56 L1703.51,1691.70 L1703.78,1691.85 L1704.04,1692.02 L1704.31,1692.20 L1704.57,1692.40 L1704.84,1692.63 L1705.11,1692.88 L1705.37,1693.15 L1705.64,1693.46 L1705.90,1693.81 L1706.17,1694.20 L1706.43,1694.65 L1706.70,1695.15 L1706.97,1695.73 L1707.23,1696.40 L1707.50,1697.18 L1707.76,1698.08 L1708.03,1699.15 L1708.29,1700.42 L1708.56,1701.94 L1708.83,1703.79 L1709.09,1706.05 L1709.36,1708.86 L1709.62,1712.39 L1709.89,1716.89 L1710.15,1722.71 L1710.42,1730.35 L1710.69,1740.50 L1710.95,1754.04 L1711.22,1771.90 L1711.48,1794.45 L1711.75,1819.93 L1712.01,1842.14 L1712.28,1851.33 L1712.55,1842.14 L1712.81,1819.93 L1713.08,1794.45 L1713.34,1771.90 L1713.61,1754.04 L1713.87,1740.50 L1714.14,1730.36 L1714.41,1722.71 L1714.67,1716.89 L1714.94,1712.39 L1715.20,1708.86 L1715.47,1706.05 L1715.73,1703.79 L1716.00,1701.95 L1716.27,1700.42 L1716.53,1699.15 L1716.80,1698.09 L1717.06,1697.18 L1717.33,1696.40 L1717.59,1695.73 L1717.86,1695.15 L1718.13,1694.65 L1718.39,1694.20 L1718.66,1693.81 L1718.92,1693.47 L1719.19,1693.16 L1719.45,1692.88 L1719.72,1692.63 L1719.99,1692.41 L1720.25,1692.21 L1720.52,1692.02 L1720.78,1691.86 L1721.05,1691.70 L1721.31,1691.56 L1721.58,1691.44 L1721.85,1691.32 L1722.11,1691.21 L1722.38,1691.11 L1722.64,1691.02 L1722.91,1690.93 L1723.17,1690.86 L1723.44,1690.78 L1723.71,1690.71 L1723.97,1690.65 L1724.24,1690.59 L1724.50,1690.53 L1724.77,1690.48 L1725.03,1690.43 L1725.30,1690.39 L1725.57,1690.34 L1725.83,1690.30 L1726.10,1690.26 L1726.36,1690.23 L1726.63,1690.19 L1726.89,1690.16 L1727.16,1690.13 L1728.22,1690.02 L1730.35,1689.87 L1732.47,1689.76 L1734.60,1689.69 L1736.43,1689.65 L1736.69,1689.64 L1736.73,1689.64 L1736.96,1689.64 L1737.23,1689.63 L1737.49,1689.63 L1737.76,1689.63 L1738.02,1689.62 L1738.29,1689.62 L1738.55,1689.62 L1738.82,1689.62 L1738.85,1689.62 L1739.09,1689.62 L1739.35,1689.61 L1739.62,1689.61 L1739.88,1689.61 L1740.15,1689.61 L1740.41,1689.61 L1740.68,1689.62 L1740.95,1689.62 L1740.98,1689.62 L1741.21,1689.62 L1741.48,1689.62 L1741.74,1689.63 L1742.01,1689.63 L1742.27,1689.63 L1742.54,1689.64 L1742.81,1689.65 L1743.07,1689.65 L1743.10,1689.65 L1743.34,1689.66 L1743.60,1689.67 L1743.87,1689.68 L1744.13,1689.70 L1744.40,1689.71 L1744.67,1689.73 L1744.93,1689.74 L1745.20,1689.77 L1745.23,1689.77 L1745.46,1689.79 L1745.73,1689.82 L1745.99,1689.85 L1746.26,1689.89 L1746.53,1689.93 L1746.79,1689.98 L1747.06,1690.04 L1747.32,1690.12 L1747.35,1690.12 L1747.59,1690.20 L1747.85,1690.31 L1748.12,1690.44 L1748.39,1690.59 L1748.65,1690.80 L1748.92,1691.05 L1749.18,1691.38 L1749.45,1691.82 L1749.48,1691.88 L1749.71,1692.39 L1749.98,1693.16 L1750.25,1694.18 L1750.51,1695.46 L1750.78,1696.90 L1751.04,1698.16 L1751.31,1698.68 L1751.57,1698.17 L1751.61,1698.04 L1751.84,1696.91 L1752.11,1695.47 L1752.37,1694.20 L1752.64,1693.19 L1752.90,1692.43 L1753.17,1691.86 L1753.43,1691.43 L1753.70,1691.11 L1753.73,1691.07 L1753.97,1690.86 L1754.23,1690.66 L1754.50,1690.51 L1754.57,1690.48 L1754.76,1690.39 L1754.84,1690.36 L1755.03,1690.29 L1755.10,1690.27 L1755.29,1690.22 L1755.37,1690.20 L1755.56,1690.15 L1755.63,1690.14 L1755.83,1690.10 L1755.86,1690.10 L1755.90,1690.09 L1756.09,1690.06 L1756.17,1690.05 L1756.36,1690.03 L1756.43,1690.02 L1756.62,1690.00 L1756.70,1690.00 L1756.89,1689.98 L1756.96,1689.98 L1757.15,1689.97 L1757.23,1689.96 L1757.42,1689.96 L1757.49,1689.95 L1757.69,1689.95 L1757.76,1689.95 L1757.95,1689.95 L1757.98,1689.94 L1758.03,1689.94 L1758.22,1689.95 L1758.29,1689.95 L1758.48,1689.95 L1758.56,1689.95 L1758.75,1689.96 L1758.82,1689.96 L1759.01,1689.97 L1759.09,1689.97 L1759.28,1689.98 L1759.35,1689.98 L1759.55,1689.99 L1759.62,1690.00 L1759.81,1690.01 L1759.89,1690.02 L1760.08,1690.04 L1760.11,1690.04 L1760.15,1690.04 L1760.34,1690.06 L1760.42,1690.07 L1760.61,1690.09 L1760.68,1690.10 L1760.87,1690.12 L1760.95,1690.14 L1761.14,1690.16 L1761.21,1690.17 L1761.41,1690.21 L1761.48,1690.22 L1761.67,1690.26 L1761.75,1690.27 L1761.94,1690.31 L1762.01,1690.33 L1762.20,1690.37 L1762.23,1690.38 L1762.28,1690.39 L1762.47,1690.44 L1762.54,1690.46 L1762.73,1690.52 L1762.81,1690.54 L1763.00,1690.61 L1763.07,1690.64 L1763.27,1690.71 L1763.34,1690.74 L1763.53,1690.83 L1763.61,1690.86 L1763.80,1690.96 L1763.87,1691.00 L1764.06,1691.11 L1764.14,1691.16 L1764.33,1691.29 L1764.36,1691.31 L1764.40,1691.34 L1764.59,1691.49 L1764.67,1691.56 L1764.86,1691.73 L1764.93,1691.81 L1765.13,1692.01 L1765.20,1692.10 L1765.39,1692.35 L1765.47,1692.45 L1765.66,1692.75 L1765.73,1692.87 L1765.92,1693.23 L1766.00,1693.39 L1766.19,1693.83 L1766.26,1694.01 L1766.49,1694.66 L1766.53,1694.80 L1766.79,1695.78 L1767.06,1697.03 L1767.33,1698.65 L1767.59,1700.78 L1767.86,1703.61 L1768.12,1707.39 L1768.39,1712.37 L1768.61,1717.57 L1768.65,1718.66 L1768.92,1725.77 L1769.19,1731.96 L1769.45,1734.52 L1769.72,1731.96 L1769.98,1725.76 L1770.25,1718.65 L1770.51,1712.36 L1770.74,1708.08 L1770.78,1707.37 L1771.05,1703.59 L1771.31,1700.76 L1771.58,1698.63 L1771.84,1697.00 L1772.11,1695.75 L1772.37,1694.76 L1772.64,1693.98 L1772.86,1693.44 L1772.91,1693.34 L1773.17,1692.83 L1773.44,1692.40 L1773.70,1692.05 L1773.97,1691.75 L1774.23,1691.49 L1774.50,1691.28 L1774.77,1691.09 L1774.99,1690.95 L1775.03,1690.93 L1775.30,1690.78 L1775.56,1690.66 L1775.83,1690.55 L1776.09,1690.45 L1776.36,1690.36 L1776.63,1690.29 L1776.89,1690.22 L1777.11,1690.16 L1777.16,1690.15 L1777.42,1690.10 L1777.69,1690.04 L1777.95,1690.00 L1778.22,1689.95 L1778.49,1689.91 L1778.75,1689.88 L1779.02,1689.84 L1779.24,1689.82 L1779.28,1689.81 L1779.55,1689.78 L1779.81,1689.76 L1780.08,1689.73 L1780.35,1689.71 L1780.61,1689.69 L1780.88,1689.67 L1781.14,1689.65 L1781.37,1689.64 L1781.41,1689.63 L1781.67,1689.62 L1781.94,1689.60 L1782.21,1689.59 L1782.47,1689.57 L1782.74,1689.56 L1783.00,1689.55 L1783.27,1689.54 L1783.49,1689.53 L1783.53,1689.53 L1783.80,1689.52 L1784.07,1689.51 L1784.33,1689.50 L1785.62,1689.46 L1787.74,1689.41 L1789.87,1689.38 L1791.99,1689.35 L1794.12,1689.33 L1796.25,1689.32 L1798.37,1689.31 L1800.50,1689.30 L1802.62,1689.29 L1804.75,1689.28 L1806.87,1689.27 L1809.00,1689.27" stroke="#000"/>
</g>
<g fill="#000" shape-rendering="crispEdges">
<rect x="318.0" y="55.0" width="1494.2" height="7.0"/>
<rect x="318.0" y="1048.0" width="1494.2" height="6.4"/>
<rect x="318.0" y="55.0" width="6.0" height="999.7"/>
<rect x="1806.0" y="55.0" width="6.0" height="999.7"/>
<rect x="289.0" y="137.7" width="32.0" height="7.0"/>
<rect x="289.0" y="303.2" width="32.0" height="7.0"/>
<rect x="289.0" y="468.6" width="32.0" height="7.0"/>
<rect x="289.0" y="634.1" width="32.0" height="7.0"/>
<rect x="289.0" y="799.5" width="32.0" height="7.0"/>
<rect x="289.0" y="965.0" width="32.0" height="7.0"/>
<rect x="304.0" y="55.0" width="17.0" height="7.0"/>
<rect x="304.0" y="220.4" width="17.0" height="7.0"/>
<rect x="304.0" y="385.9" width="17.0" height="7.0"/>
<rect x="304.0" y="551.4" width="17.0" height="7.0"/>
<rect x="304.0" y="716.8" width="17.0" height="7.0"/>
<rect x="304.0" y="882.3" width="17.0" height="7.0"/>
<rect x="304.0" y="1047.7" width="17.0" height="7.0"/>
<rect x="1699.7" y="1051.2" width="6.0" height="31.0"/>
<rect x="1699.7" y="58.5" width="6.0" height="31.5"/>
<rect x="1487.1" y="1051.2" width="6.0" height="31.0"/>
<rect x="1487.1" y="58.5" width="6.0" height="31.5"/>
<rect x="1274.6" y="1051.2" width="6.0" height="31.0"/>
<rect x="1274.6" y="58.5" width="6.0" height="31.5"/>
<rect x="1062.0" y="1051.2" width="6.0" height="31.0"/>
<rect x="1062.0" y="58.5" width="6.0" height="31.5"/>
<rect x="849.4" y="1051.2" width="6.0" height="31.0"/>
<rect x="849.4" y="58.5" width="6.0" height="31.5"/>
<rect x="636.9" y="1051.2" width="6.0" height="31.0"/>
<rect x="636.9" y="58.5" width="6.0" height="31.5"/>
<rect x="424.3" y="1051.2" width="6.0" height="31.0"/>
<rect x="424.3" y="58.5" width="6.0" height="31.5"/>
<rect x="1806.0" y="1051.2" width="6.0" height="17.0"/>
<rect x="1806.0" y="58.5" width="6.0" height="17.0"/>
<rect x="1593.4" y="1051.2" width="6.0" height="17.0"/>
<rect x="1593.4" y="58.5" width="6.0" height="17.0"/>
<rect x="1380.9" y="1051.2" width="6.0" height="17.0"/>
<rect x="1380.9" y="58.5" width="6.0" height="17.0"/>
<rect x="1168.3" y="1051.2" width="6.0" height="17.0"/>
<rect x="1168.3" y="58.5" width="6.0" height="17.0"/>
<rect x="955.7" y="1051.2" width="6.0" height="17.0"/>
<rect x="955.7" y="58.5" width="6.0" height="17.0"/>
<rect x="743.1" y="1051.2" width="6.0" height="17.0"/>
<rect x="743.1" y="58.5" width="6.0" height="17.0"/>
<rect x="530.6" y="1051.2" width="6.0" height="17.0"/>
<rect x="530.6" y="58.5" width="6.0" height="17.0"/>
<rect x="318.0" y="1051.2" width="6.0" height="17.0"/>
<rect x="318.0" y="58.5" width="6.0" height="17.0"/>
<rect x="318.0" y="1190.0" width="1494.2" height="6.2"/>
<rect x="318.0" y="2182.0" width="1494.2" height="6.9"/>
<rect x="318.0" y="1189.5" width="6.0" height="999.4"/>
<rect x="1806.0" y="1189.5" width="6.0" height="999.4"/>
<rect x="289.0" y="1189.5" width="32.0" height="7.0"/>
<rect x="289.0" y="1313.5" width="32.0" height="7.0"/>
<rect x="289.0" y="1437.6" width="32.0" height="7.0"/>
<rect x="289.0" y="1561.7" width="32.0" height="7.0"/>
<rect x="289.0" y="1685.7" width="32.0" height="7.0"/>
<rect x="289.0" y="1809.8" width="32.0" height="7.0"/>
<rect x="289.0" y="1933.8" width="32.0" height="7.0"/>
<rect x="289.0" y="2057.8" width="32.0" height="7.0"/>
<rect x="289.0" y="2181.9" width="32.0" height="7.0"/>
<rect x="304.0" y="1251.5" width="17.0" height="7.0"/>
<rect x="304.0" y="1375.6" width="17.0" height="7.0"/>
<rect x="304.0" y="1499.6" width="17.0" height="7.0"/>
<rect x="304.0" y="1623.7" width="17.0" height="7.0"/>
<rect x="304.0" y="1747.7" width="17.0" height="7.0"/>
<rect x="304.0" y="1871.8" width="17.0" height="7.0"/>
<rect x="304.0" y="1995.8" width="17.0" height="7.0"/>
<rect x="304.0" y="2119.9" width="17.0" height="7.0"/>
<rect x="1699.7" y="2185.4" width="6.0" height="31.0"/>
<rect x="1699.7" y="1193.0" width="6.0" height="31.5"/>
<rect x="1487.1" y="2185.4" width="6.0" height="31.0"/>
<rect x="1487.1" y="1193.0" width="6.0" height="31.5"/>
<rect x="1274.6" y="2185.4" width="6.0" height="31.0"/>
<rect x="1274.6" y="1193.0" width="6.0" height="31.5"/>
<rect x="1062.0" y="2185.4" width="6.0" height="31.0"/>
<rect x="1062.0" y="1193.0" width="6.0" height="31.5"/>
<rect x="849.4" y="2185.4" width="6.0" height="31.0"/>
<rect x="849.4" y="1193.0" width="6.0" height="31.5"/>
<rect x="636.9" y="2185.4" width="6.0" height="31.0"/>
<rect x="636.9" y="1193.0" width="6.0" height="31.5"/>
<rect x="424.3" y="2185.4" width="6.0" height="31.0"/>
<rect x="424.3" y="1193.0" width="6.0" height="31.5"/>
<rect x="1806.0" y="2185.4" width="6.0" height="17.0"/>
<rect x="1806.0" y="1193.0" width="6.0" height="17.0"/>
<rect x="1593.4" y="2185.4" width="6.0" height="17.0"/>
<rect x="1593.4" y="1193.0" width="6.0" height="17.0"/>
<rect x="1380.9" y="2185.4" width="6.0" height="17.0"/>
<rect x="1380.9" y="1193.0" width="6.0" height="17.0"/>
<rect x="1168.3" y="2185.4" width="6.0" height="17.0"/>
<rect x="1168.3" y="1193.0" width="6.0" height="17.0"/>
<rect x="955.7" y="2185.4" width="6.0" height="17.0"/>
<rect x="955.7" y="1193.0" width="6.0" height="17.0"/>
<rect x="743.1" y="2185.4" width="6.0" height="17.0"/>
<rect x="743.1" y="1193.0" width="6.0" height="17.0"/>
<rect x="530.6" y="2185.4" width="6.0" height="17.0"/>
<rect x="530.6" y="1193.0" width="6.0" height="17.0"/>
<rect x="318.0" y="2185.4" width="6.0" height="17.0"/>
<rect x="318.0" y="1193.0" width="6.0" height="17.0"/>
</g>
<g stroke="#000" stroke-width="0.55" stroke-linejoin="round">
<text x="186.57" y="160.62" font-size="65.20px" textLength="86.33" lengthAdjust="spacingAndGlyphs">0.6</text>
<text x="186.57" y="326.07" font-size="65.20px" textLength="86.33" lengthAdjust="spacingAndGlyphs">0.4</text>
<text x="186.57" y="491.52" font-size="65.20px" textLength="86.33" lengthAdjust="spacingAndGlyphs">0.2</text>
<text x="186.57" y="656.98" font-size="65.20px" textLength="86.33" lengthAdjust="spacingAndGlyphs">0.0</text>
<text x="165.89" y="822.42" font-size="65.20px" textLength="107.01" lengthAdjust="spacingAndGlyphs">-0.2</text>
<text x="165.89" y="987.88" font-size="65.20px" textLength="107.01" lengthAdjust="spacingAndGlyphs">-0.4</text>
<text x="203.83" y="1212.60" font-size="65.20px" textLength="69.07" lengthAdjust="spacingAndGlyphs">80</text>
<text x="203.83" y="1336.65" font-size="65.20px" textLength="69.07" lengthAdjust="spacingAndGlyphs">60</text>
<text x="203.83" y="1460.70" font-size="65.20px" textLength="69.07" lengthAdjust="spacingAndGlyphs">40</text>
<text x="203.83" y="1584.75" font-size="65.20px" textLength="69.07" lengthAdjust="spacingAndGlyphs">20</text>
<text x="238.36" y="1708.80" font-size="65.20px" textLength="34.54" lengthAdjust="spacingAndGlyphs">0</text>
<text x="183.15" y="1832.85" font-size="65.20px" textLength="89.75" lengthAdjust="spacingAndGlyphs">-20</text>
<text x="183.15" y="1956.90" font-size="65.20px" textLength="89.75" lengthAdjust="spacingAndGlyphs">-40</text>
<text x="183.15" y="2080.95" font-size="65.20px" textLength="89.75" lengthAdjust="spacingAndGlyphs">-60</text>
<text x="183.15" y="2205.00" font-size="65.20px" textLength="89.75" lengthAdjust="spacingAndGlyphs">-80</text>
<text x="1650.31" y="1148.00" font-size="65.20px" textLength="103.61" lengthAdjust="spacingAndGlyphs">600</text>
<text x="1650.31" y="2283.50" font-size="65.20px" textLength="103.61" lengthAdjust="spacingAndGlyphs">600</text>
<text x="1437.74" y="1148.00" font-size="65.20px" textLength="103.61" lengthAdjust="spacingAndGlyphs">800</text>
<text x="1437.74" y="2283.50" font-size="65.20px" textLength="103.61" lengthAdjust="spacingAndGlyphs">800</text>
<text x="1207.90" y="1148.00" font-size="65.20px" textLength="138.15" lengthAdjust="spacingAndGlyphs">1000</text>
<text x="1207.90" y="2283.50" font-size="65.20px" textLength="138.15" lengthAdjust="spacingAndGlyphs">1000</text>
<text x="995.33" y="1148.00" font-size="65.20px" textLength="138.15" lengthAdjust="spacingAndGlyphs">1200</text>
<text x="995.33" y="2283.50" font-size="65.20px" textLength="138.15" lengthAdjust="spacingAndGlyphs">1200</text>
<text x="782.75" y="1148.00" font-size="65.20px" textLength="138.15" lengthAdjust="spacingAndGlyphs">1400</text>
<text x="782.75" y="2283.50" font-size="65.20px" textLength="138.15" lengthAdjust="spacingAndGlyphs">1400</text>
<text x="570.18" y="1148.00" font-size="65.20px" textLength="138.15" lengthAdjust="spacingAndGlyphs">1600</text>
<text x="570.18" y="2283.50" font-size="65.20px" textLength="138.15" lengthAdjust="spacingAndGlyphs">1600</text>
<text x="357.61" y="1148.00" font-size="65.20px" textLength="138.15" lengthAdjust="spacingAndGlyphs">1800</text>
<text x="357.61" y="2283.50" font-size="65.20px" textLength="138.15" lengthAdjust="spacingAndGlyphs">1800</text>
<text x="0.00" y="0.00" font-size="80.00px" textLength="549.37" lengthAdjust="spacingAndGlyphs" transform="translate(121.00,802.25) rotate(-90)">Absorbance x10</text>
<text x="0.00" y="0.00" font-size="80.00px" textLength="549.94" lengthAdjust="spacingAndGlyphs" transform="translate(138.00,1936.97) rotate(-90)">IR Intensity/ a.u.</text>
<text x="747.67" y="2409.80" font-size="79.80px" textLength="595.39" lengthAdjust="spacingAndGlyphs">Wavenumber/ cm</text>
<text x="1342.60" y="2372.90" font-size="47.50px" textLength="43.57" lengthAdjust="spacingAndGlyphs">-1</text>
<text x="360.83" y="181.00" font-size="53.70px" textLength="375.39" lengthAdjust="spacingAndGlyphs">Xe matrix (20 K)</text>
<text x="360.78" y="250.80" font-size="53.70px" textLength="252.32" lengthAdjust="spacingAndGlyphs">Irradiated (</text>
<text x="616.69" y="251.30" font-size="53.00px" textLength="30.03" lengthAdjust="spacingAndGlyphs" font-family="'Liberation Serif','Times New Roman',serif" font-style="italic" stroke-width="0.3">λ</text>
<text x="657.33" y="250.80" font-size="53.70px" textLength="848.90" lengthAdjust="spacingAndGlyphs">&gt;= 235 nm; 80 min) - (as-deposited))</text>
<text x="1590.99" y="164.30" font-size="80.60px" textLength="113.94" lengthAdjust="spacingAndGlyphs">CO</text>
<text x="1703.43" y="189.90" font-size="47.10px" textLength="27.35" lengthAdjust="spacingAndGlyphs">2</text>
<text x="353.33" y="1315.00" font-size="53.70px" textLength="517.80" lengthAdjust="spacingAndGlyphs">B3LYP/6-311++G(d,p)</text>
<text x="1461.10" y="2033.70" font-size="46.40px" textLength="114.16" lengthAdjust="spacingAndGlyphs">3FCB</text>
<text x="1460.54" y="2088.90" font-size="46.40px" textLength="294.42" lengthAdjust="spacingAndGlyphs">2C6FPh (form </text>
<text x="1754.96" y="2088.90" font-size="46.40px" textLength="12.47" lengthAdjust="spacingAndGlyphs" font-weight="bold">I</text>
<text x="1767.43" y="2088.90" font-size="46.40px" textLength="14.95" lengthAdjust="spacingAndGlyphs">)</text>
<text x="1460.56" y="2143.80" font-size="46.40px" textLength="168.53" lengthAdjust="spacingAndGlyphs">2C6FBA</text>
</g>
<g shape-rendering="crispEdges">
<rect x="1346" y="2014.9" width="104" height="5" fill="#f00"/>
<rect x="1346" y="2071.1" width="104" height="5" fill="#00f"/>
<rect x="1346" y="2125.9" width="104" height="5" fill="#000"/>
</g>
</svg></body></html>
